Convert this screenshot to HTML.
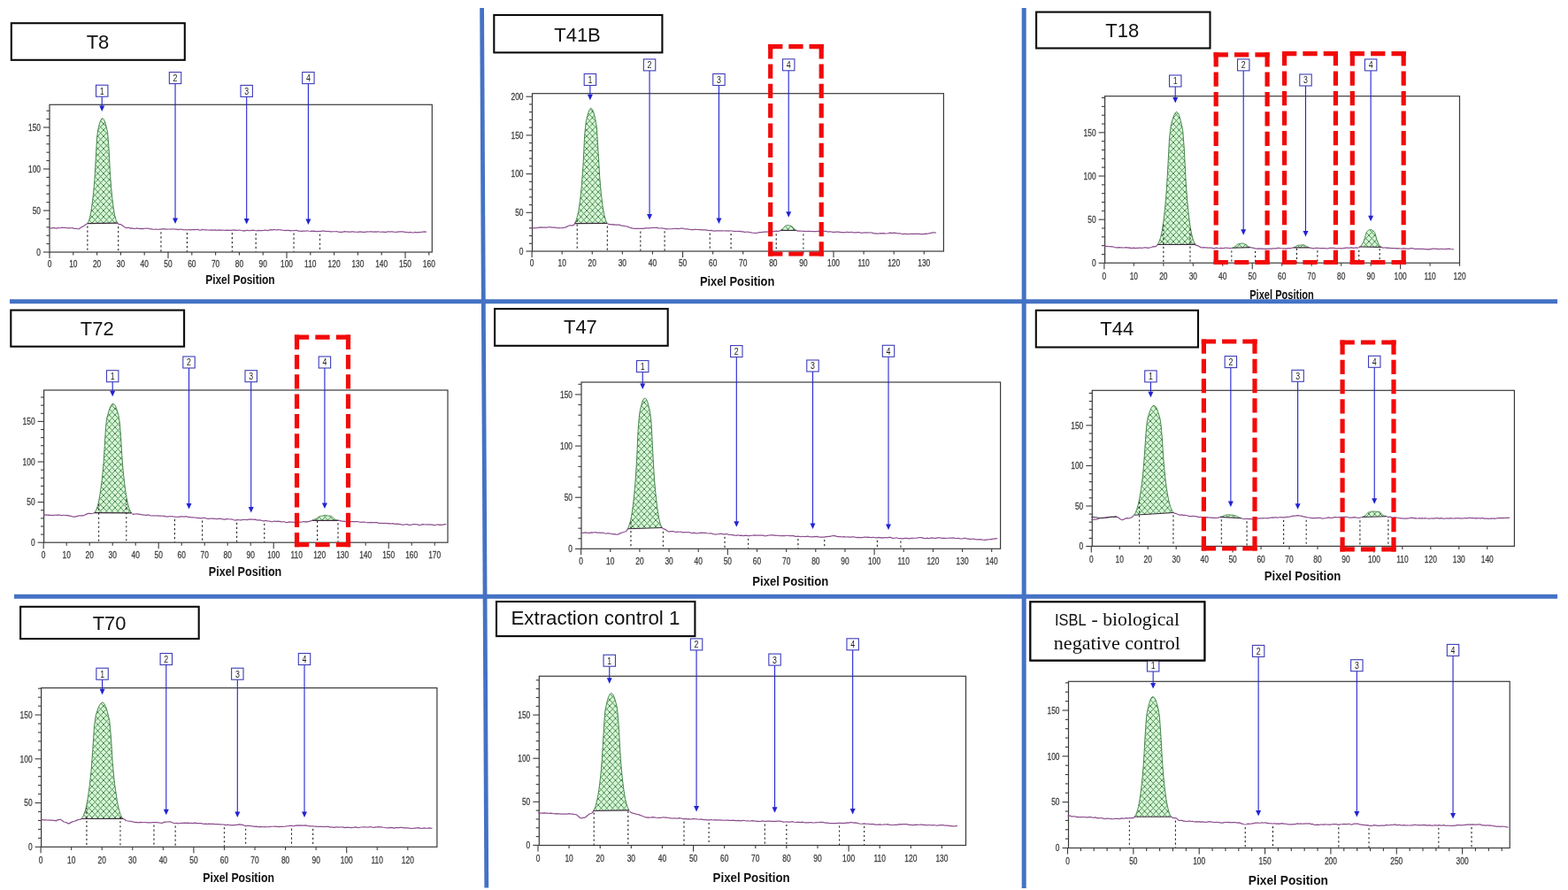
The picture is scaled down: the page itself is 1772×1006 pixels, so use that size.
<!DOCTYPE html>
<html><head><meta charset="utf-8"><title>Densitometry profiles</title>
<style>
html,body{margin:0;padding:0;background:#fff;}
body{width:1772px;height:1006px;overflow:hidden;}
svg{display:block;}
text{font-family:'Liberation Sans', Arial, sans-serif;}
</style></head>
<body>
<svg width="1772" height="1006" viewBox="0 0 1772 1006">
<defs><pattern id="hatch" patternUnits="userSpaceOnUse" width="6.5" height="7"><rect width="6.5" height="7" fill="#d6f7d6"/><path d="M0,0 L6.5,7 M6.5,0 L0,7 M-3.25,3.5 L0,7 M3.25,-3.5 L6.5,0 M6.5,7 L9.75,3.5 M0,0 L3.25,-3.5 M-3.25,3.5 L0,0 M6.5,0 L9.75,3.5 M0,7 L3.25,10.5 M6.5,7 L3.25,10.5" stroke="#2f7235" stroke-width="0.8"/></pattern></defs>
<rect width="1772" height="1006" fill="#fff"/>
<g><rect x="12.8" y="26.2" width="196" height="41.6" fill="#fff" stroke="#0a0a0a" stroke-width="2.1"/><rect x="56" y="118.3" width="432.3" height="166.7" fill="none" stroke="#3a3a3a" stroke-width="1.2"/><line x1="49" y1="285" x2="56" y2="285" stroke="#3a3a3a" stroke-width="1.1"/><text x="0" y="0" font-size="10.5" text-anchor="end" fill="#333333" stroke="#444" stroke-width="0.25" transform="translate(46,288.7) scale(0.8,1) translate(0,0)">0</text><line x1="52.4" y1="275.6" x2="56" y2="275.6" stroke="#3a3a3a" stroke-width="1.1"/><line x1="52.4" y1="266.2" x2="56" y2="266.2" stroke="#3a3a3a" stroke-width="1.1"/><line x1="52.4" y1="256.8" x2="56" y2="256.8" stroke="#3a3a3a" stroke-width="1.1"/><line x1="52.4" y1="247.4" x2="56" y2="247.4" stroke="#3a3a3a" stroke-width="1.1"/><line x1="49" y1="238" x2="56" y2="238" stroke="#3a3a3a" stroke-width="1.1"/><text x="0" y="0" font-size="10.5" text-anchor="end" fill="#333333" stroke="#444" stroke-width="0.25" transform="translate(46,241.7) scale(0.8,1) translate(0,0)">50</text><line x1="52.4" y1="228.6" x2="56" y2="228.6" stroke="#3a3a3a" stroke-width="1.1"/><line x1="52.4" y1="219.2" x2="56" y2="219.2" stroke="#3a3a3a" stroke-width="1.1"/><line x1="52.4" y1="209.8" x2="56" y2="209.8" stroke="#3a3a3a" stroke-width="1.1"/><line x1="52.4" y1="200.4" x2="56" y2="200.4" stroke="#3a3a3a" stroke-width="1.1"/><line x1="49" y1="191" x2="56" y2="191" stroke="#3a3a3a" stroke-width="1.1"/><text x="0" y="0" font-size="10.5" text-anchor="end" fill="#333333" stroke="#444" stroke-width="0.25" transform="translate(46,194.7) scale(0.8,1) translate(0,0)">100</text><line x1="52.4" y1="181.6" x2="56" y2="181.6" stroke="#3a3a3a" stroke-width="1.1"/><line x1="52.4" y1="172.2" x2="56" y2="172.2" stroke="#3a3a3a" stroke-width="1.1"/><line x1="52.4" y1="162.8" x2="56" y2="162.8" stroke="#3a3a3a" stroke-width="1.1"/><line x1="52.4" y1="153.4" x2="56" y2="153.4" stroke="#3a3a3a" stroke-width="1.1"/><line x1="49" y1="144" x2="56" y2="144" stroke="#3a3a3a" stroke-width="1.1"/><text x="0" y="0" font-size="10.5" text-anchor="end" fill="#333333" stroke="#444" stroke-width="0.25" transform="translate(46,147.7) scale(0.8,1) translate(0,0)">150</text><line x1="52.4" y1="134.6" x2="56" y2="134.6" stroke="#3a3a3a" stroke-width="1.1"/><line x1="52.4" y1="125.2" x2="56" y2="125.2" stroke="#3a3a3a" stroke-width="1.1"/><line x1="56" y1="285" x2="56" y2="292" stroke="#3a3a3a" stroke-width="1.1"/><text font-size="10.5" text-anchor="middle" fill="#333333" stroke="#444" stroke-width="0.25" transform="translate(56,301.8) scale(0.8,1)">0</text><line x1="82.8" y1="285" x2="82.8" y2="288.6" stroke="#3a3a3a" stroke-width="1.1"/><text font-size="10.5" text-anchor="middle" fill="#333333" stroke="#444" stroke-width="0.25" transform="translate(82.8,301.8) scale(0.8,1)">10</text><line x1="109.6" y1="285" x2="109.6" y2="288.6" stroke="#3a3a3a" stroke-width="1.1"/><text font-size="10.5" text-anchor="middle" fill="#333333" stroke="#444" stroke-width="0.25" transform="translate(109.6,301.8) scale(0.8,1)">20</text><line x1="136.4" y1="285" x2="136.4" y2="288.6" stroke="#3a3a3a" stroke-width="1.1"/><text font-size="10.5" text-anchor="middle" fill="#333333" stroke="#444" stroke-width="0.25" transform="translate(136.4,301.8) scale(0.8,1)">30</text><line x1="163.2" y1="285" x2="163.2" y2="288.6" stroke="#3a3a3a" stroke-width="1.1"/><text font-size="10.5" text-anchor="middle" fill="#333333" stroke="#444" stroke-width="0.25" transform="translate(163.2,301.8) scale(0.8,1)">40</text><line x1="190" y1="285" x2="190" y2="292" stroke="#3a3a3a" stroke-width="1.1"/><text font-size="10.5" text-anchor="middle" fill="#333333" stroke="#444" stroke-width="0.25" transform="translate(190,301.8) scale(0.8,1)">50</text><line x1="216.8" y1="285" x2="216.8" y2="288.6" stroke="#3a3a3a" stroke-width="1.1"/><text font-size="10.5" text-anchor="middle" fill="#333333" stroke="#444" stroke-width="0.25" transform="translate(216.8,301.8) scale(0.8,1)">60</text><line x1="243.6" y1="285" x2="243.6" y2="288.6" stroke="#3a3a3a" stroke-width="1.1"/><text font-size="10.5" text-anchor="middle" fill="#333333" stroke="#444" stroke-width="0.25" transform="translate(243.6,301.8) scale(0.8,1)">70</text><line x1="270.4" y1="285" x2="270.4" y2="288.6" stroke="#3a3a3a" stroke-width="1.1"/><text font-size="10.5" text-anchor="middle" fill="#333333" stroke="#444" stroke-width="0.25" transform="translate(270.4,301.8) scale(0.8,1)">80</text><line x1="297.2" y1="285" x2="297.2" y2="288.6" stroke="#3a3a3a" stroke-width="1.1"/><text font-size="10.5" text-anchor="middle" fill="#333333" stroke="#444" stroke-width="0.25" transform="translate(297.2,301.8) scale(0.8,1)">90</text><line x1="324" y1="285" x2="324" y2="292" stroke="#3a3a3a" stroke-width="1.1"/><text font-size="10.5" text-anchor="middle" fill="#333333" stroke="#444" stroke-width="0.25" transform="translate(324,301.8) scale(0.8,1)">100</text><line x1="350.8" y1="285" x2="350.8" y2="288.6" stroke="#3a3a3a" stroke-width="1.1"/><text font-size="10.5" text-anchor="middle" fill="#333333" stroke="#444" stroke-width="0.25" transform="translate(350.8,301.8) scale(0.8,1)">110</text><line x1="377.6" y1="285" x2="377.6" y2="288.6" stroke="#3a3a3a" stroke-width="1.1"/><text font-size="10.5" text-anchor="middle" fill="#333333" stroke="#444" stroke-width="0.25" transform="translate(377.6,301.8) scale(0.8,1)">120</text><line x1="404.4" y1="285" x2="404.4" y2="288.6" stroke="#3a3a3a" stroke-width="1.1"/><text font-size="10.5" text-anchor="middle" fill="#333333" stroke="#444" stroke-width="0.25" transform="translate(404.4,301.8) scale(0.8,1)">130</text><line x1="431.2" y1="285" x2="431.2" y2="288.6" stroke="#3a3a3a" stroke-width="1.1"/><text font-size="10.5" text-anchor="middle" fill="#333333" stroke="#444" stroke-width="0.25" transform="translate(431.2,301.8) scale(0.8,1)">140</text><line x1="458" y1="285" x2="458" y2="292" stroke="#3a3a3a" stroke-width="1.1"/><text font-size="10.5" text-anchor="middle" fill="#333333" stroke="#444" stroke-width="0.25" transform="translate(458,301.8) scale(0.8,1)">150</text><line x1="484.8" y1="285" x2="484.8" y2="288.6" stroke="#3a3a3a" stroke-width="1.1"/><text font-size="10.5" text-anchor="middle" fill="#333333" stroke="#444" stroke-width="0.25" transform="translate(484.8,301.8) scale(0.8,1)">160</text><text x="271.4" y="321.2" font-size="14" font-weight="bold" text-anchor="middle" fill="#111" textLength="78.5" lengthAdjust="spacingAndGlyphs">Pixel Position</text><path d="M98.81,252.59 L99.48,251.43 L100.15,250.18 L100.82,248.16 L101.49,246.05 L102.16,242.86 L102.83,239.56 L103.5,235.05 L104.17,230.41 L104.84,224.84 L105.51,219.16 L106.18,211.53 L106.85,203.68 L107.52,192.03 L108.19,179.95 L108.86,168.03 L109.53,156.12 L110.2,150.83 L110.87,146.27 L111.54,143.39 L112.21,140.69 L112.88,138.64 L113.55,136.67 L114.22,135.43 L114.89,134.28 L115.56,134.02 L116.23,133.87 L116.9,134.56 L117.57,135.35 L118.24,136.89 L118.91,138.52 L119.58,141.02 L120.25,143.62 L120.92,146.53 L121.59,149.47 L122.26,157.54 L122.93,166.17 L123.6,179.17 L124.27,192.65 L124.94,202.28 L125.61,211.48 L126.28,218.21 L126.95,224.67 L127.62,230.05 L128.29,235.31 L128.96,239.34 L129.63,243.24 L130.3,245.88 L130.97,248.39 L131.64,249.88 L132.31,251.25 L132.98,252.17 Z" fill="url(#hatch)" stroke="none"/><path d="M98.81,252.59 L99.48,251.43 L100.15,250.18 L100.82,248.16 L101.49,246.05 L102.16,242.86 L102.83,239.56 L103.5,235.05 L104.17,230.41 L104.84,224.84 L105.51,219.16 L106.18,211.53 L106.85,203.68 L107.52,192.03 L108.19,179.95 L108.86,168.03 L109.53,156.12 L110.2,150.83 L110.87,146.27 L111.54,143.39 L112.21,140.69 L112.88,138.64 L113.55,136.67 L114.22,135.43 L114.89,134.28 L115.56,134.02 L116.23,133.87 L116.9,134.56 L117.57,135.35 L118.24,136.89 L118.91,138.52 L119.58,141.02 L120.25,143.62 L120.92,146.53 L121.59,149.47 L122.26,157.54 L122.93,166.17 L123.6,179.17 L124.27,192.65 L124.94,202.28 L125.61,211.48 L126.28,218.21 L126.95,224.67 L127.62,230.05 L128.29,235.31 L128.96,239.34 L129.63,243.24 L130.3,245.88 L130.97,248.39 L131.64,249.88 L132.31,251.25 L132.98,252.17" fill="none" stroke="#357a3c" stroke-width="0.9"/><line x1="98.81" y1="252.59" x2="132.98" y2="252.17" stroke="#3a2a3a" stroke-width="1.1"/><path d="M56,257.94 L57.34,257.81 L58.68,257.85 L60.02,257.68 L61.36,257.55 L62.7,257.87 L64.04,258.07 L65.38,257.55 L66.72,257.69 L68.06,257.77 L69.4,257.25 L70.74,257.39 L72.08,257.23 L73.42,257.46 L74.76,257.51 L76.1,257.94 L77.44,257.84 L78.78,257.62 L80.12,257.75 L81.46,257.71 L82.8,257.84 L84.14,258.48 L85.48,258.39 L86.82,258.5 L88.16,258.76 L89.5,258.71 L90.84,257.45 L92.18,256.69 L93.52,256.16 L94.86,255.34 L96.2,254.22 L97.54,253.45 L98.88,252.55" fill="none" stroke="#8c4e8e" stroke-width="1.2" stroke-linejoin="round"/><path d="M132.38,251.39 L133.72,253.12 L135.06,253.61 L136.4,253.61 L137.74,254.51 L139.08,255.38 L140.42,256.57 L141.76,257.33 L143.1,257.7 L144.44,257.45 L145.78,257.33 L147.12,258.05 L148.46,257.96 L149.8,258.18 L151.14,258.46 L152.48,258.51 L153.82,258.19 L155.16,257.95 L156.5,258.46 L157.84,258.32 L159.18,258.69 L160.52,258.4 L161.86,258.56 L163.2,258.25 L164.54,258.02 L165.88,258.27 L167.22,258.07 L168.56,258.49 L169.9,258.92 L171.24,258.78 L172.58,259.16 L173.92,259.26 L175.26,259.17 L176.6,258.99 L177.94,259.25 L179.28,259.5 L180.62,259.03 L181.96,259.2 L183.3,258.81 L184.64,258.66 L185.98,258.97 L187.32,259.08 L188.66,259.1 L190,259.02 L191.34,259.01 L192.68,259.04 L194.02,259.02 L195.36,258.78 L196.7,258.99 L198.04,259.17 L199.38,259.07 L200.72,259.4 L202.06,259.54 L203.4,259.13 L204.74,259.27 L206.08,259.33 L207.42,259.79 L208.76,259.75 L210.1,259.61 L211.44,259.97 L212.78,259.72 L214.12,259.58 L215.46,259.93 L216.8,259.7 L218.14,259.69 L219.48,259.53 L220.82,259.69 L222.16,259.52 L223.5,259.41 L224.84,259.89 L226.18,260.14 L227.52,259.82 L228.86,259.44 L230.2,259.77 L231.54,259.81 L232.88,259.74 L234.22,259.92 L235.56,260 L236.9,260.09 L238.24,260.1 L239.58,259.95 L240.92,260.1 L242.26,260.14 L243.6,259.87 L244.94,260.29 L246.28,260.12 L247.62,259.91 L248.96,260.12 L250.3,260.31 L251.64,259.98 L252.98,260.22 L254.32,260.4 L255.66,260.31 L257,260.06 L258.34,260.38 L259.68,260.39 L261.02,260.4 L262.36,260.04 L263.7,260.16 L265.04,259.92 L266.38,260.32 L267.72,260.43 L269.06,260.27 L270.4,260.03 L271.74,260.23 L273.08,260.53 L274.42,260.79 L275.76,260.63 L277.1,260.82 L278.44,260.46 L279.78,260.25 L281.12,260.63 L282.46,260.77 L283.8,260.45 L285.14,260.39 L286.48,260.22 L287.82,260.47 L289.16,260.76 L290.5,260.78 L291.84,260.4 L293.18,260.57 L294.52,260.59 L295.86,260.53 L297.2,260.48 L298.54,260.44 L299.88,260.02 L301.22,260.35 L302.56,260.64 L303.9,260.07 L305.24,259.8 L306.58,259.57 L307.92,259.85 L309.26,259.62 L310.6,259.51 L311.94,259.98 L313.28,259.84 L314.62,259.7 L315.96,259.75 L317.3,259.89 L318.64,260.14 L319.98,260.24 L321.32,260.38 L322.66,260.57 L324,260.29 L325.34,260.43 L326.68,260.25 L328.02,260.86 L329.36,260.65 L330.7,260.74 L332.04,260.59 L333.38,260.49 L334.72,260.44 L336.06,260.66 L337.4,261.22 L338.74,260.98 L340.08,261.3 L341.42,261.38 L342.76,261.17 L344.1,261.17 L345.44,261.27 L346.78,260.94 L348.12,261.02 L349.46,261.28 L350.8,261.5 L352.14,261.18 L353.48,261.3 L354.82,261.15 L356.16,261.4 L357.5,261.66 L358.84,261.56 L360.18,261.29 L361.52,261.63 L362.86,261.36 L364.2,261.11 L365.54,261.05 L366.88,261.02 L368.22,261.61 L369.56,261.48 L370.9,261.24 L372.24,261.72 L373.58,261.83 L374.92,261.9 L376.26,261.76 L377.6,261.77 L378.94,261.74 L380.28,261.51 L381.62,261.98 L382.96,262.21 L384.3,262.29 L385.64,262.34 L386.98,262.43 L388.32,261.8 L389.66,261.56 L391,262.01 L392.34,261.96 L393.68,262.07 L395.02,262.15 L396.36,262.17 L397.7,261.96 L399.04,261.9 L400.38,262.03 L401.72,262.24 L403.06,262.25 L404.4,262.41 L405.74,262.17 L407.08,261.92 L408.42,262.03 L409.76,262.33 L411.1,262.41 L412.44,262.32 L413.78,262.09 L415.12,261.84 L416.46,262.01 L417.8,261.78 L419.14,261.8 L420.48,261.95 L421.82,262.09 L423.16,262.07 L424.5,261.91 L425.84,262.04 L427.18,261.91 L428.52,262.02 L429.86,262.25 L431.2,262.16 L432.54,262 L433.88,262.38 L435.22,262.33 L436.56,262.31 L437.9,261.96 L439.24,261.73 L440.58,262.04 L441.92,261.81 L443.26,261.78 L444.6,262.16 L445.94,262.23 L447.28,262.52 L448.62,262.17 L449.96,262.1 L451.3,261.89 L452.64,261.86 L453.98,261.94 L455.32,261.94 L456.66,262.07 L458,262.49 L459.34,262.36 L460.68,262.74 L462.02,262.84 L463.36,262.43 L464.7,262.75 L466.04,262.9 L467.38,262.98 L468.72,262.44 L470.06,262.67 L471.4,262.92 L472.74,262.44 L474.08,262.72 L475.42,262.33 L476.76,262.25 L478.1,262.08 L479.44,261.9 L480.78,262.09 L482.12,262.02" fill="none" stroke="#8c4e8e" stroke-width="1.2" stroke-linejoin="round"/><line x1="98.88" y1="255.55" x2="98.88" y2="284.5" stroke="#222" stroke-width="1.1" stroke-dasharray="2.2 2.8"/><line x1="133.72" y1="256.12" x2="133.72" y2="284.5" stroke="#222" stroke-width="1.1" stroke-dasharray="2.2 2.8"/><line x1="181.96" y1="262.2" x2="181.96" y2="284.5" stroke="#222" stroke-width="1.1" stroke-dasharray="2.2 2.8"/><line x1="211.44" y1="262.97" x2="211.44" y2="284.5" stroke="#222" stroke-width="1.1" stroke-dasharray="2.2 2.8"/><line x1="262.36" y1="263.04" x2="262.36" y2="284.5" stroke="#222" stroke-width="1.1" stroke-dasharray="2.2 2.8"/><line x1="289.16" y1="263.76" x2="289.16" y2="284.5" stroke="#222" stroke-width="1.1" stroke-dasharray="2.2 2.8"/><line x1="332.04" y1="263.59" x2="332.04" y2="284.5" stroke="#222" stroke-width="1.1" stroke-dasharray="2.2 2.8"/><line x1="361.52" y1="264.63" x2="361.52" y2="284.5" stroke="#222" stroke-width="1.1" stroke-dasharray="2.2 2.8"/><line x1="115.23" y1="109.2" x2="115.23" y2="121" stroke="#2323d2" stroke-width="1.1"/><path d="M112.23,119.5 L118.23,119.5 L115.23,126 Z" fill="#2323d2"/><rect x="108.53" y="96.2" width="13.4" height="13" fill="#fff" stroke="#3c3cb8" stroke-width="1.1"/><text font-size="11" text-anchor="middle" fill="#222" transform="translate(115.23,106.6) scale(0.8,1)">1</text><line x1="198.04" y1="94.6" x2="198.04" y2="248" stroke="#2323d2" stroke-width="1.1"/><path d="M195.04,246.5 L201.04,246.5 L198.04,253 Z" fill="#2323d2"/><rect x="191.34" y="81.6" width="13.4" height="13" fill="#fff" stroke="#3c3cb8" stroke-width="1.1"/><text font-size="11" text-anchor="middle" fill="#222" transform="translate(198.04,92) scale(0.8,1)">2</text><line x1="278.71" y1="109.4" x2="278.71" y2="248.5" stroke="#2323d2" stroke-width="1.1"/><path d="M275.71,247 L281.71,247 L278.71,253.5 Z" fill="#2323d2"/><rect x="272.01" y="96.4" width="13.4" height="13" fill="#fff" stroke="#3c3cb8" stroke-width="1.1"/><text font-size="11" text-anchor="middle" fill="#222" transform="translate(278.71,106.8) scale(0.8,1)">3</text><line x1="348.39" y1="94.6" x2="348.39" y2="249" stroke="#2323d2" stroke-width="1.1"/><path d="M345.39,247.5 L351.39,247.5 L348.39,254 Z" fill="#2323d2"/><rect x="341.69" y="81.6" width="13.4" height="13" fill="#fff" stroke="#3c3cb8" stroke-width="1.1"/><text font-size="11" text-anchor="middle" fill="#222" transform="translate(348.39,92) scale(0.8,1)">4</text><text x="110.5" y="54.8" font-size="22" text-anchor="middle" fill="#111">T8</text></g>
<g><rect x="558.3" y="17" width="190.1" height="42.4" fill="#fff" stroke="#0a0a0a" stroke-width="2.1"/><rect x="601.5" y="105.7" width="464.9" height="178.3" fill="none" stroke="#3a3a3a" stroke-width="1.2"/><line x1="594.5" y1="284" x2="601.5" y2="284" stroke="#3a3a3a" stroke-width="1.1"/><text x="0" y="0" font-size="10.5" text-anchor="end" fill="#333333" stroke="#444" stroke-width="0.25" transform="translate(591.5,287.7) scale(0.8,1) translate(0,0)">0</text><line x1="597.9" y1="275.26" x2="601.5" y2="275.26" stroke="#3a3a3a" stroke-width="1.1"/><line x1="597.9" y1="266.52" x2="601.5" y2="266.52" stroke="#3a3a3a" stroke-width="1.1"/><line x1="597.9" y1="257.78" x2="601.5" y2="257.78" stroke="#3a3a3a" stroke-width="1.1"/><line x1="597.9" y1="249.04" x2="601.5" y2="249.04" stroke="#3a3a3a" stroke-width="1.1"/><line x1="594.5" y1="240.3" x2="601.5" y2="240.3" stroke="#3a3a3a" stroke-width="1.1"/><text x="0" y="0" font-size="10.5" text-anchor="end" fill="#333333" stroke="#444" stroke-width="0.25" transform="translate(591.5,244) scale(0.8,1) translate(0,0)">50</text><line x1="597.9" y1="231.56" x2="601.5" y2="231.56" stroke="#3a3a3a" stroke-width="1.1"/><line x1="597.9" y1="222.82" x2="601.5" y2="222.82" stroke="#3a3a3a" stroke-width="1.1"/><line x1="597.9" y1="214.08" x2="601.5" y2="214.08" stroke="#3a3a3a" stroke-width="1.1"/><line x1="597.9" y1="205.34" x2="601.5" y2="205.34" stroke="#3a3a3a" stroke-width="1.1"/><line x1="594.5" y1="196.6" x2="601.5" y2="196.6" stroke="#3a3a3a" stroke-width="1.1"/><text x="0" y="0" font-size="10.5" text-anchor="end" fill="#333333" stroke="#444" stroke-width="0.25" transform="translate(591.5,200.3) scale(0.8,1) translate(0,0)">100</text><line x1="597.9" y1="187.86" x2="601.5" y2="187.86" stroke="#3a3a3a" stroke-width="1.1"/><line x1="597.9" y1="179.12" x2="601.5" y2="179.12" stroke="#3a3a3a" stroke-width="1.1"/><line x1="597.9" y1="170.38" x2="601.5" y2="170.38" stroke="#3a3a3a" stroke-width="1.1"/><line x1="597.9" y1="161.64" x2="601.5" y2="161.64" stroke="#3a3a3a" stroke-width="1.1"/><line x1="594.5" y1="152.9" x2="601.5" y2="152.9" stroke="#3a3a3a" stroke-width="1.1"/><text x="0" y="0" font-size="10.5" text-anchor="end" fill="#333333" stroke="#444" stroke-width="0.25" transform="translate(591.5,156.6) scale(0.8,1) translate(0,0)">150</text><line x1="597.9" y1="144.16" x2="601.5" y2="144.16" stroke="#3a3a3a" stroke-width="1.1"/><line x1="597.9" y1="135.42" x2="601.5" y2="135.42" stroke="#3a3a3a" stroke-width="1.1"/><line x1="597.9" y1="126.68" x2="601.5" y2="126.68" stroke="#3a3a3a" stroke-width="1.1"/><line x1="597.9" y1="117.94" x2="601.5" y2="117.94" stroke="#3a3a3a" stroke-width="1.1"/><line x1="594.5" y1="109.2" x2="601.5" y2="109.2" stroke="#3a3a3a" stroke-width="1.1"/><text x="0" y="0" font-size="10.5" text-anchor="end" fill="#333333" stroke="#444" stroke-width="0.25" transform="translate(591.5,112.9) scale(0.8,1) translate(0,0)">200</text><line x1="601.1" y1="284" x2="601.1" y2="291" stroke="#3a3a3a" stroke-width="1.1"/><text font-size="10.5" text-anchor="middle" fill="#333333" stroke="#444" stroke-width="0.25" transform="translate(601.1,301.4) scale(0.8,1)">0</text><line x1="635.19" y1="284" x2="635.19" y2="287.6" stroke="#3a3a3a" stroke-width="1.1"/><text font-size="10.5" text-anchor="middle" fill="#333333" stroke="#444" stroke-width="0.25" transform="translate(635.19,301.4) scale(0.8,1)">10</text><line x1="669.28" y1="284" x2="669.28" y2="287.6" stroke="#3a3a3a" stroke-width="1.1"/><text font-size="10.5" text-anchor="middle" fill="#333333" stroke="#444" stroke-width="0.25" transform="translate(669.28,301.4) scale(0.8,1)">20</text><line x1="703.37" y1="284" x2="703.37" y2="287.6" stroke="#3a3a3a" stroke-width="1.1"/><text font-size="10.5" text-anchor="middle" fill="#333333" stroke="#444" stroke-width="0.25" transform="translate(703.37,301.4) scale(0.8,1)">30</text><line x1="737.46" y1="284" x2="737.46" y2="287.6" stroke="#3a3a3a" stroke-width="1.1"/><text font-size="10.5" text-anchor="middle" fill="#333333" stroke="#444" stroke-width="0.25" transform="translate(737.46,301.4) scale(0.8,1)">40</text><line x1="771.55" y1="284" x2="771.55" y2="291" stroke="#3a3a3a" stroke-width="1.1"/><text font-size="10.5" text-anchor="middle" fill="#333333" stroke="#444" stroke-width="0.25" transform="translate(771.55,301.4) scale(0.8,1)">50</text><line x1="805.64" y1="284" x2="805.64" y2="287.6" stroke="#3a3a3a" stroke-width="1.1"/><text font-size="10.5" text-anchor="middle" fill="#333333" stroke="#444" stroke-width="0.25" transform="translate(805.64,301.4) scale(0.8,1)">60</text><line x1="839.73" y1="284" x2="839.73" y2="287.6" stroke="#3a3a3a" stroke-width="1.1"/><text font-size="10.5" text-anchor="middle" fill="#333333" stroke="#444" stroke-width="0.25" transform="translate(839.73,301.4) scale(0.8,1)">70</text><line x1="873.82" y1="284" x2="873.82" y2="287.6" stroke="#3a3a3a" stroke-width="1.1"/><text font-size="10.5" text-anchor="middle" fill="#333333" stroke="#444" stroke-width="0.25" transform="translate(873.82,301.4) scale(0.8,1)">80</text><line x1="907.91" y1="284" x2="907.91" y2="287.6" stroke="#3a3a3a" stroke-width="1.1"/><text font-size="10.5" text-anchor="middle" fill="#333333" stroke="#444" stroke-width="0.25" transform="translate(907.91,301.4) scale(0.8,1)">90</text><line x1="942" y1="284" x2="942" y2="291" stroke="#3a3a3a" stroke-width="1.1"/><text font-size="10.5" text-anchor="middle" fill="#333333" stroke="#444" stroke-width="0.25" transform="translate(942,301.4) scale(0.8,1)">100</text><line x1="976.09" y1="284" x2="976.09" y2="287.6" stroke="#3a3a3a" stroke-width="1.1"/><text font-size="10.5" text-anchor="middle" fill="#333333" stroke="#444" stroke-width="0.25" transform="translate(976.09,301.4) scale(0.8,1)">110</text><line x1="1010.18" y1="284" x2="1010.18" y2="287.6" stroke="#3a3a3a" stroke-width="1.1"/><text font-size="10.5" text-anchor="middle" fill="#333333" stroke="#444" stroke-width="0.25" transform="translate(1010.18,301.4) scale(0.8,1)">120</text><line x1="1044.27" y1="284" x2="1044.27" y2="287.6" stroke="#3a3a3a" stroke-width="1.1"/><text font-size="10.5" text-anchor="middle" fill="#333333" stroke="#444" stroke-width="0.25" transform="translate(1044.27,301.4) scale(0.8,1)">130</text><text x="833.1" y="323.4" font-size="14.9" font-weight="bold" text-anchor="middle" fill="#111" textLength="84.4" lengthAdjust="spacingAndGlyphs">Pixel Position</text><path d="M649.59,252.61 L650.45,251.02 L651.3,248.44 L652.15,245.74 L653,242.05 L653.85,238.26 L654.71,232.56 L655.56,226.65 L656.41,218.66 L657.26,210.44 L658.12,199.01 L658.97,187.21 L659.82,170.22 L660.67,152.66 L661.52,144.24 L662.38,136.83 L663.23,133.23 L664.08,130.05 L664.93,127.4 L665.79,124.81 L666.64,123.49 L667.49,122.31 L668.34,122.73 L669.19,123.31 L670.05,125.14 L670.9,127.11 L671.75,130.33 L672.6,133.68 L673.46,138.42 L674.31,143.3 L675.16,156.58 L676.01,170.79 L676.87,185.48 L677.72,200.23 L678.57,210.05 L679.42,219.33 L680.27,226.48 L681.13,233.4 L681.98,238.17 L682.83,242.69 L683.68,246.04 L684.54,249.26 L685.39,250.88 L686.24,252.33 Z" fill="url(#hatch)" stroke="none"/><path d="M649.59,252.61 L650.45,251.02 L651.3,248.44 L652.15,245.74 L653,242.05 L653.85,238.26 L654.71,232.56 L655.56,226.65 L656.41,218.66 L657.26,210.44 L658.12,199.01 L658.97,187.21 L659.82,170.22 L660.67,152.66 L661.52,144.24 L662.38,136.83 L663.23,133.23 L664.08,130.05 L664.93,127.4 L665.79,124.81 L666.64,123.49 L667.49,122.31 L668.34,122.73 L669.19,123.31 L670.05,125.14 L670.9,127.11 L671.75,130.33 L672.6,133.68 L673.46,138.42 L674.31,143.3 L675.16,156.58 L676.01,170.79 L676.87,185.48 L677.72,200.23 L678.57,210.05 L679.42,219.33 L680.27,226.48 L681.13,233.4 L681.98,238.17 L682.83,242.69 L683.68,246.04 L684.54,249.26 L685.39,250.88 L686.24,252.33" fill="none" stroke="#357a3c" stroke-width="0.9"/><line x1="649.59" y1="252.61" x2="686.24" y2="252.33" stroke="#3a2a3a" stroke-width="1.1"/><path d="M882.26,260.38 L883.11,259.81 L883.96,259.21 L884.81,258.36 L885.67,257.47 L886.52,256.47 L887.37,255.45 L888.22,255.05 L889.08,254.73 L889.93,254.68 L890.78,254.65 L891.63,254.77 L892.48,254.91 L893.34,255.14 L894.19,255.38 L895.04,256 L895.89,256.67 L896.75,257.72 L897.6,258.82 L898.45,259.48 L899.3,260.1 L900.15,260.57 Z" fill="url(#hatch)" stroke="none"/><path d="M882.26,260.38 L883.11,259.81 L883.96,259.21 L884.81,258.36 L885.67,257.47 L886.52,256.47 L887.37,255.45 L888.22,255.05 L889.08,254.73 L889.93,254.68 L890.78,254.65 L891.63,254.77 L892.48,254.91 L893.34,255.14 L894.19,255.38 L895.04,256 L895.89,256.67 L896.75,257.72 L897.6,258.82 L898.45,259.48 L899.3,260.1 L900.15,260.57" fill="none" stroke="#357a3c" stroke-width="0.9"/><line x1="882.26" y1="260.38" x2="900.15" y2="260.57" stroke="#3a2a3a" stroke-width="1.1"/><path d="M601.1,257.73 L602.8,257.78 L604.51,257.65 L606.21,257.77 L607.92,257.35 L609.62,257.05 L611.33,256.95 L613.03,257.19 L614.74,257.03 L616.44,257.07 L618.14,257.16 L619.85,256.75 L621.55,256.55 L623.26,257.17 L624.96,257 L626.67,257.15 L628.37,257.45 L630.08,257.73 L631.78,257.64 L633.49,257.76 L635.19,257.65 L636.89,257.4 L638.6,257.26 L640.3,256.37 L642.01,255.44 L643.71,254.81 L645.42,254.78 L647.12,254.86 L648.83,254.03 L650.53,250.87" fill="none" stroke="#8c4e8e" stroke-width="1.2" stroke-linejoin="round"/><path d="M686.33,252.47 L688.03,253.53 L689.73,253.5 L691.44,253.89 L693.14,253.68 L694.85,254.07 L696.55,254.22 L698.26,254.04 L699.96,254.18 L701.67,254.82 L703.37,255.15 L705.07,255.43 L706.78,255.77 L708.48,255.97 L710.19,256.64 L711.89,257.31 L713.6,257.68 L715.3,258.27 L717.01,258.39 L718.71,258.39 L720.41,258.37 L722.12,258.45 L723.82,258.45 L725.53,258.28 L727.23,258.39 L728.94,257.9 L730.64,257.93 L732.35,257.92 L734.05,257.97 L735.76,257.67 L737.46,257.43 L739.16,257.5 L740.87,257.29 L742.57,257.4 L744.28,257.86 L745.98,258.01 L747.69,257.91 L749.39,258.2 L751.1,258.35 L752.8,258.83 L754.5,258.78 L756.21,258.74 L757.91,258.73 L759.62,258.68 L761.32,258.51 L763.03,258.41 L764.73,258.37 L766.44,258.54 L768.14,258.43 L769.85,257.99 L771.55,258.15 L773.25,258.54 L774.96,258.86 L776.66,258.75 L778.37,259.13 L780.07,259.41 L781.78,259.63 L783.48,259.59 L785.19,259.24 L786.89,259.42 L788.6,259.52 L790.3,259.6 L792,259.68 L793.71,259.86 L795.41,259.86 L797.12,259.83 L798.82,260.05 L800.53,260.43 L802.23,260.53 L803.94,260.42 L805.64,260.87 L807.34,261.05 L809.05,260.91 L810.75,260.82 L812.46,260.83 L814.16,260.91 L815.87,260.81 L817.57,261.02 L819.28,260.93 L820.98,260.77 L822.68,261.05 L824.39,260.93 L826.09,261.01 L827.8,261 L829.5,261.64 L831.21,261.46 L832.91,261.51 L834.62,261.46 L836.32,261.45 L838.03,261.94 L839.73,261.93 L841.43,262.3 L843.14,262.25 L844.84,262.05 L846.55,262.51 L848.25,262.72 L849.96,263.08 L851.66,263.25 L853.37,263.37 L855.07,263.52 L856.77,262.96 L858.48,262.65 L860.18,262.65 L861.89,262.34 L863.59,262.1 L865.3,262.05 L867,262.11 L868.71,261.95 L870.41,261.81 L872.12,261.81 L873.82,261.65 L875.52,261.33 L877.23,261.18 L878.93,261.43 L880.64,261.13 L882.34,260.35" fill="none" stroke="#8c4e8e" stroke-width="1.2" stroke-linejoin="round"/><path d="M899.39,260.16 L901.09,261.07 L902.8,261.17 L904.5,261.22 L906.21,261.24 L907.91,261.42 L909.61,261.41 L911.32,261.5 L913.02,261.31 L914.73,261.41 L916.43,261.52 L918.14,261.59 L919.84,261.65 L921.55,261.55 L923.25,261.48 L924.95,261.38 L926.66,261.61 L928.36,261.49 L930.07,261.33 L931.77,261.26 L933.48,261.44 L935.18,262.03 L936.89,261.83 L938.59,261.75 L940.3,262.28 L942,262.35 L943.7,262.39 L945.41,262.13 L947.11,262.1 L948.82,262.34 L950.52,262.56 L952.23,262.72 L953.93,262.89 L955.64,262.53 L957.34,262.25 L959.05,262.64 L960.75,262.51 L962.45,262.32 L964.16,262.78 L965.86,262.78 L967.57,262.9 L969.27,262.61 L970.98,262.53 L972.68,263.1 L974.39,263.28 L976.09,262.93 L977.79,262.94 L979.5,263.04 L981.2,262.96 L982.91,263.01 L984.61,262.96 L986.32,263.44 L988.02,263.94 L989.73,263.8 L991.43,264.18 L993.13,264.02 L994.84,263.7 L996.54,263.82 L998.25,263.72 L999.95,263.93 L1001.66,264.02 L1003.36,263.73 L1005.07,263.36 L1006.77,263.05 L1008.48,263.55 L1010.18,263.21 L1011.88,263.35 L1013.59,263.62 L1015.29,263.83 L1017,263.91 L1018.7,264.22 L1020.41,264.61 L1022.11,264.4 L1023.82,264.44 L1025.52,264.55 L1027.22,264.52 L1028.93,264.28 L1030.63,264.69 L1032.34,264.43 L1034.04,264.26 L1035.75,264.46 L1037.45,264.4 L1039.16,264.41 L1040.86,264.58 L1042.57,264.51 L1044.27,264.66 L1045.97,264.16 L1047.68,264.28 L1049.38,263.91 L1051.09,263.63 L1052.79,263.08 L1054.5,262.82 L1056.2,262.96 L1057.91,263.04" fill="none" stroke="#8c4e8e" stroke-width="1.2" stroke-linejoin="round"/><line x1="652.24" y1="248.47" x2="652.24" y2="283.5" stroke="#222" stroke-width="1.1" stroke-dasharray="2.2 2.8"/><line x1="686.33" y1="255.47" x2="686.33" y2="283.5" stroke="#222" stroke-width="1.1" stroke-dasharray="2.2 2.8"/><line x1="723.82" y1="261.45" x2="723.82" y2="283.5" stroke="#222" stroke-width="1.1" stroke-dasharray="2.2 2.8"/><line x1="751.1" y1="261.35" x2="751.1" y2="283.5" stroke="#222" stroke-width="1.1" stroke-dasharray="2.2 2.8"/><line x1="802.23" y1="263.53" x2="802.23" y2="283.5" stroke="#222" stroke-width="1.1" stroke-dasharray="2.2 2.8"/><line x1="826.09" y1="264.01" x2="826.09" y2="283.5" stroke="#222" stroke-width="1.1" stroke-dasharray="2.2 2.8"/><line x1="877.23" y1="264.18" x2="877.23" y2="283.5" stroke="#222" stroke-width="1.1" stroke-dasharray="2.2 2.8"/><line x1="907.91" y1="264.42" x2="907.91" y2="283.5" stroke="#222" stroke-width="1.1" stroke-dasharray="2.2 2.8"/><line x1="666.89" y1="96.5" x2="666.89" y2="108.3" stroke="#2323d2" stroke-width="1.1"/><path d="M663.89,106.8 L669.89,106.8 L666.89,113.3 Z" fill="#2323d2"/><rect x="660.19" y="83.5" width="13.4" height="13" fill="#fff" stroke="#3c3cb8" stroke-width="1.1"/><text font-size="11" text-anchor="middle" fill="#222" transform="translate(666.89,93.9) scale(0.8,1)">1</text><line x1="734.05" y1="79.9" x2="734.05" y2="243.5" stroke="#2323d2" stroke-width="1.1"/><path d="M731.05,242 L737.05,242 L734.05,248.5 Z" fill="#2323d2"/><rect x="727.35" y="66.9" width="13.4" height="13" fill="#fff" stroke="#3c3cb8" stroke-width="1.1"/><text font-size="11" text-anchor="middle" fill="#222" transform="translate(734.05,77.3) scale(0.8,1)">2</text><line x1="812.46" y1="96.5" x2="812.46" y2="247.9" stroke="#2323d2" stroke-width="1.1"/><path d="M809.46,246.4 L815.46,246.4 L812.46,252.9 Z" fill="#2323d2"/><rect x="805.76" y="83.5" width="13.4" height="13" fill="#fff" stroke="#3c3cb8" stroke-width="1.1"/><text font-size="11" text-anchor="middle" fill="#222" transform="translate(812.46,93.9) scale(0.8,1)">3</text><line x1="891.21" y1="79.8" x2="891.21" y2="240.8" stroke="#2323d2" stroke-width="1.1"/><path d="M888.21,239.3 L894.21,239.3 L891.21,245.8 Z" fill="#2323d2"/><rect x="884.51" y="66.8" width="13.4" height="13" fill="#fff" stroke="#3c3cb8" stroke-width="1.1"/><text font-size="11" text-anchor="middle" fill="#222" transform="translate(891.21,77.2) scale(0.8,1)">4</text><line x1="868.1" y1="52.7" x2="930.8" y2="52.7" stroke="#f20a0a" stroke-width="5.2" stroke-dasharray="16.3 6.9"/><line x1="868.1" y1="287" x2="930.8" y2="287" stroke="#f20a0a" stroke-width="5.2" stroke-dasharray="16.3 6.9"/><line x1="870.7" y1="50.1" x2="870.7" y2="289.6" stroke="#f20a0a" stroke-width="5.2" stroke-dasharray="16.3 6.02"/><line x1="928.2" y1="50.1" x2="928.2" y2="289.6" stroke="#f20a0a" stroke-width="5.2" stroke-dasharray="16.3 6.02"/><text x="652.5" y="46.7" font-size="22" text-anchor="middle" fill="#111">T41B</text></g>
<g><rect x="1171.1" y="13.6" width="196.4" height="40.9" fill="#fff" stroke="#0a0a0a" stroke-width="2.1"/><rect x="1248.6" y="108.7" width="400.9" height="188.5" fill="none" stroke="#3a3a3a" stroke-width="1.2"/><line x1="1241.6" y1="297.3" x2="1248.6" y2="297.3" stroke="#3a3a3a" stroke-width="1.1"/><text x="0" y="0" font-size="10.5" text-anchor="end" fill="#333333" stroke="#444" stroke-width="0.25" transform="translate(1238.6,301) scale(0.8,1) translate(0,0)">0</text><line x1="1245" y1="287.47" x2="1248.6" y2="287.47" stroke="#3a3a3a" stroke-width="1.1"/><line x1="1245" y1="277.64" x2="1248.6" y2="277.64" stroke="#3a3a3a" stroke-width="1.1"/><line x1="1245" y1="267.81" x2="1248.6" y2="267.81" stroke="#3a3a3a" stroke-width="1.1"/><line x1="1245" y1="257.98" x2="1248.6" y2="257.98" stroke="#3a3a3a" stroke-width="1.1"/><line x1="1241.6" y1="248.15" x2="1248.6" y2="248.15" stroke="#3a3a3a" stroke-width="1.1"/><text x="0" y="0" font-size="10.5" text-anchor="end" fill="#333333" stroke="#444" stroke-width="0.25" transform="translate(1238.6,251.85) scale(0.8,1) translate(0,0)">50</text><line x1="1245" y1="238.32" x2="1248.6" y2="238.32" stroke="#3a3a3a" stroke-width="1.1"/><line x1="1245" y1="228.49" x2="1248.6" y2="228.49" stroke="#3a3a3a" stroke-width="1.1"/><line x1="1245" y1="218.66" x2="1248.6" y2="218.66" stroke="#3a3a3a" stroke-width="1.1"/><line x1="1245" y1="208.83" x2="1248.6" y2="208.83" stroke="#3a3a3a" stroke-width="1.1"/><line x1="1241.6" y1="199" x2="1248.6" y2="199" stroke="#3a3a3a" stroke-width="1.1"/><text x="0" y="0" font-size="10.5" text-anchor="end" fill="#333333" stroke="#444" stroke-width="0.25" transform="translate(1238.6,202.7) scale(0.8,1) translate(0,0)">100</text><line x1="1245" y1="189.17" x2="1248.6" y2="189.17" stroke="#3a3a3a" stroke-width="1.1"/><line x1="1245" y1="179.34" x2="1248.6" y2="179.34" stroke="#3a3a3a" stroke-width="1.1"/><line x1="1245" y1="169.51" x2="1248.6" y2="169.51" stroke="#3a3a3a" stroke-width="1.1"/><line x1="1245" y1="159.68" x2="1248.6" y2="159.68" stroke="#3a3a3a" stroke-width="1.1"/><line x1="1241.6" y1="149.85" x2="1248.6" y2="149.85" stroke="#3a3a3a" stroke-width="1.1"/><text x="0" y="0" font-size="10.5" text-anchor="end" fill="#333333" stroke="#444" stroke-width="0.25" transform="translate(1238.6,153.55) scale(0.8,1) translate(0,0)">150</text><line x1="1245" y1="140.02" x2="1248.6" y2="140.02" stroke="#3a3a3a" stroke-width="1.1"/><line x1="1245" y1="130.19" x2="1248.6" y2="130.19" stroke="#3a3a3a" stroke-width="1.1"/><line x1="1245" y1="120.36" x2="1248.6" y2="120.36" stroke="#3a3a3a" stroke-width="1.1"/><line x1="1245" y1="110.53" x2="1248.6" y2="110.53" stroke="#3a3a3a" stroke-width="1.1"/><line x1="1247.9" y1="297.2" x2="1247.9" y2="304.2" stroke="#3a3a3a" stroke-width="1.1"/><text font-size="10.5" text-anchor="middle" fill="#333333" stroke="#444" stroke-width="0.25" transform="translate(1247.9,315.9) scale(0.8,1)">0</text><line x1="1281.37" y1="297.2" x2="1281.37" y2="300.8" stroke="#3a3a3a" stroke-width="1.1"/><text font-size="10.5" text-anchor="middle" fill="#333333" stroke="#444" stroke-width="0.25" transform="translate(1281.37,315.9) scale(0.8,1)">10</text><line x1="1314.84" y1="297.2" x2="1314.84" y2="300.8" stroke="#3a3a3a" stroke-width="1.1"/><text font-size="10.5" text-anchor="middle" fill="#333333" stroke="#444" stroke-width="0.25" transform="translate(1314.84,315.9) scale(0.8,1)">20</text><line x1="1348.31" y1="297.2" x2="1348.31" y2="300.8" stroke="#3a3a3a" stroke-width="1.1"/><text font-size="10.5" text-anchor="middle" fill="#333333" stroke="#444" stroke-width="0.25" transform="translate(1348.31,315.9) scale(0.8,1)">30</text><line x1="1381.78" y1="297.2" x2="1381.78" y2="300.8" stroke="#3a3a3a" stroke-width="1.1"/><text font-size="10.5" text-anchor="middle" fill="#333333" stroke="#444" stroke-width="0.25" transform="translate(1381.78,315.9) scale(0.8,1)">40</text><line x1="1415.25" y1="297.2" x2="1415.25" y2="304.2" stroke="#3a3a3a" stroke-width="1.1"/><text font-size="10.5" text-anchor="middle" fill="#333333" stroke="#444" stroke-width="0.25" transform="translate(1415.25,315.9) scale(0.8,1)">50</text><line x1="1448.72" y1="297.2" x2="1448.72" y2="300.8" stroke="#3a3a3a" stroke-width="1.1"/><text font-size="10.5" text-anchor="middle" fill="#333333" stroke="#444" stroke-width="0.25" transform="translate(1448.72,315.9) scale(0.8,1)">60</text><line x1="1482.19" y1="297.2" x2="1482.19" y2="300.8" stroke="#3a3a3a" stroke-width="1.1"/><text font-size="10.5" text-anchor="middle" fill="#333333" stroke="#444" stroke-width="0.25" transform="translate(1482.19,315.9) scale(0.8,1)">70</text><line x1="1515.66" y1="297.2" x2="1515.66" y2="300.8" stroke="#3a3a3a" stroke-width="1.1"/><text font-size="10.5" text-anchor="middle" fill="#333333" stroke="#444" stroke-width="0.25" transform="translate(1515.66,315.9) scale(0.8,1)">80</text><line x1="1549.13" y1="297.2" x2="1549.13" y2="300.8" stroke="#3a3a3a" stroke-width="1.1"/><text font-size="10.5" text-anchor="middle" fill="#333333" stroke="#444" stroke-width="0.25" transform="translate(1549.13,315.9) scale(0.8,1)">90</text><line x1="1582.6" y1="297.2" x2="1582.6" y2="304.2" stroke="#3a3a3a" stroke-width="1.1"/><text font-size="10.5" text-anchor="middle" fill="#333333" stroke="#444" stroke-width="0.25" transform="translate(1582.6,315.9) scale(0.8,1)">100</text><line x1="1616.07" y1="297.2" x2="1616.07" y2="300.8" stroke="#3a3a3a" stroke-width="1.1"/><text font-size="10.5" text-anchor="middle" fill="#333333" stroke="#444" stroke-width="0.25" transform="translate(1616.07,315.9) scale(0.8,1)">110</text><line x1="1649.54" y1="297.2" x2="1649.54" y2="300.8" stroke="#3a3a3a" stroke-width="1.1"/><text font-size="10.5" text-anchor="middle" fill="#333333" stroke="#444" stroke-width="0.25" transform="translate(1649.54,315.9) scale(0.8,1)">120</text><text x="1448.5" y="338.3" font-size="14.5" font-weight="bold" text-anchor="middle" fill="#111" textLength="72.5" lengthAdjust="spacingAndGlyphs">Pixel Position</text><path d="M1308.23,276.55 L1309.07,274.84 L1309.9,273.09 L1310.74,270.93 L1311.58,268.61 L1312.41,264.86 L1313.25,260.95 L1314.09,255.64 L1314.92,250.12 L1315.76,242.66 L1316.6,235 L1317.43,225.54 L1318.27,215.58 L1319.11,201.08 L1319.94,186.43 L1320.78,170.39 L1321.62,155.26 L1322.45,148.44 L1323.29,141.97 L1324.13,138.65 L1324.96,135.41 L1325.8,132.84 L1326.64,130.37 L1327.47,128.78 L1328.31,127.31 L1329.15,126.78 L1329.99,126.4 L1330.82,127.32 L1331.66,128.36 L1332.5,130.52 L1333.33,132.79 L1334.17,136.14 L1335.01,139.51 L1335.84,143.09 L1336.68,147.35 L1337.52,157.81 L1338.35,168.95 L1339.19,186.22 L1340.03,202.94 L1340.86,214.75 L1341.7,226.21 L1342.54,234.53 L1343.37,242.7 L1344.21,249.45 L1345.05,255.99 L1345.88,260.52 L1346.72,264.92 L1347.56,268.1 L1348.39,271.17 L1349.23,273.19 L1350.07,275.13 L1350.9,276.34 Z" fill="url(#hatch)" stroke="none"/><path d="M1308.23,276.55 L1309.07,274.84 L1309.9,273.09 L1310.74,270.93 L1311.58,268.61 L1312.41,264.86 L1313.25,260.95 L1314.09,255.64 L1314.92,250.12 L1315.76,242.66 L1316.6,235 L1317.43,225.54 L1318.27,215.58 L1319.11,201.08 L1319.94,186.43 L1320.78,170.39 L1321.62,155.26 L1322.45,148.44 L1323.29,141.97 L1324.13,138.65 L1324.96,135.41 L1325.8,132.84 L1326.64,130.37 L1327.47,128.78 L1328.31,127.31 L1329.15,126.78 L1329.99,126.4 L1330.82,127.32 L1331.66,128.36 L1332.5,130.52 L1333.33,132.79 L1334.17,136.14 L1335.01,139.51 L1335.84,143.09 L1336.68,147.35 L1337.52,157.81 L1338.35,168.95 L1339.19,186.22 L1340.03,202.94 L1340.86,214.75 L1341.7,226.21 L1342.54,234.53 L1343.37,242.7 L1344.21,249.45 L1345.05,255.99 L1345.88,260.52 L1346.72,264.92 L1347.56,268.1 L1348.39,271.17 L1349.23,273.19 L1350.07,275.13 L1350.9,276.34" fill="none" stroke="#357a3c" stroke-width="0.9"/><line x1="1308.23" y1="276.55" x2="1350.9" y2="276.34" stroke="#3a2a3a" stroke-width="1.1"/><path d="M1392.41,280.23 L1393.24,280.01 L1394.08,279.68 L1394.92,279.3 L1395.75,278.64 L1396.59,277.86 L1397.43,277.08 L1398.26,276.3 L1399.1,275.94 L1399.94,275.75 L1400.77,275.54 L1401.61,275.33 L1402.45,275.18 L1403.28,275.06 L1404.12,275.07 L1404.96,275.14 L1405.79,275.48 L1406.63,275.93 L1407.47,276.21 L1408.3,276.41 L1409.14,277.2 L1409.98,278.24 L1410.82,278.79 L1411.65,279.13 L1412.49,279.38 L1413.33,279.59 Z" fill="url(#hatch)" stroke="none"/><path d="M1392.41,280.23 L1393.24,280.01 L1394.08,279.68 L1394.92,279.3 L1395.75,278.64 L1396.59,277.86 L1397.43,277.08 L1398.26,276.3 L1399.1,275.94 L1399.94,275.75 L1400.77,275.54 L1401.61,275.33 L1402.45,275.18 L1403.28,275.06 L1404.12,275.07 L1404.96,275.14 L1405.79,275.48 L1406.63,275.93 L1407.47,276.21 L1408.3,276.41 L1409.14,277.2 L1409.98,278.24 L1410.82,278.79 L1411.65,279.13 L1412.49,279.38 L1413.33,279.59" fill="none" stroke="#357a3c" stroke-width="0.9"/><line x1="1392.41" y1="280.23" x2="1413.33" y2="279.59" stroke="#3a2a3a" stroke-width="1.1"/><path d="M1462.02,279.89 L1462.86,279.58 L1463.7,279.24 L1464.53,278.55 L1465.37,277.83 L1466.21,277.53 L1467.04,277.27 L1467.88,277.15 L1468.72,277.04 L1469.56,277.07 L1470.39,277.13 L1471.23,276.98 L1472.07,276.81 L1472.9,276.87 L1473.74,276.96 L1474.58,277.28 L1475.41,277.63 L1476.25,278.26 L1477.09,278.91 L1477.92,279.28 L1478.76,279.62 L1479.6,279.87 Z" fill="url(#hatch)" stroke="none"/><path d="M1462.02,279.89 L1462.86,279.58 L1463.7,279.24 L1464.53,278.55 L1465.37,277.83 L1466.21,277.53 L1467.04,277.27 L1467.88,277.15 L1468.72,277.04 L1469.56,277.07 L1470.39,277.13 L1471.23,276.98 L1472.07,276.81 L1472.9,276.87 L1473.74,276.96 L1474.58,277.28 L1475.41,277.63 L1476.25,278.26 L1477.09,278.91 L1477.92,279.28 L1478.76,279.62 L1479.6,279.87" fill="none" stroke="#357a3c" stroke-width="0.9"/><line x1="1462.02" y1="279.89" x2="1479.6" y2="279.87" stroke="#3a2a3a" stroke-width="1.1"/><path d="M1536.66,279.06 L1537.5,278.41 L1538.34,277.41 L1539.17,276.37 L1540.01,274.94 L1540.85,273.41 L1541.68,271.07 L1542.52,268.64 L1543.36,265.42 L1544.19,262.44 L1545.03,261.63 L1545.87,260.84 L1546.7,260.22 L1547.54,259.65 L1548.38,259.59 L1549.21,259.56 L1550.05,259.85 L1550.89,260.18 L1551.72,260.8 L1552.56,261.49 L1553.4,262.77 L1554.23,264.25 L1555.07,267.62 L1555.91,270.86 L1556.74,273.03 L1557.58,275.14 L1558.42,276.7 L1559.25,278.15 L1560.09,278.75 L1560.93,279.33 Z" fill="url(#hatch)" stroke="none"/><path d="M1536.66,279.06 L1537.5,278.41 L1538.34,277.41 L1539.17,276.37 L1540.01,274.94 L1540.85,273.41 L1541.68,271.07 L1542.52,268.64 L1543.36,265.42 L1544.19,262.44 L1545.03,261.63 L1545.87,260.84 L1546.7,260.22 L1547.54,259.65 L1548.38,259.59 L1549.21,259.56 L1550.05,259.85 L1550.89,260.18 L1551.72,260.8 L1552.56,261.49 L1553.4,262.77 L1554.23,264.25 L1555.07,267.62 L1555.91,270.86 L1556.74,273.03 L1557.58,275.14 L1558.42,276.7 L1559.25,278.15 L1560.09,278.75 L1560.93,279.33" fill="none" stroke="#357a3c" stroke-width="0.9"/><line x1="1536.66" y1="279.06" x2="1560.93" y2="279.33" stroke="#3a2a3a" stroke-width="1.1"/><path d="M1247.9,278.61 L1249.57,278.4 L1251.25,278.23 L1252.92,278.73 L1254.59,278.7 L1256.27,278.81 L1257.94,278.96 L1259.61,279.54 L1261.29,279.95 L1262.96,279.92 L1264.63,279.6 L1266.31,279.82 L1267.98,279.81 L1269.66,280.02 L1271.33,279.79 L1273,279.66 L1274.68,280.08 L1276.35,279.89 L1278.02,280.57 L1279.7,280.36 L1281.37,280.18 L1283.04,280.63 L1284.72,280.4 L1286.39,280.36 L1288.06,279.99 L1289.74,280.34 L1291.41,280.24 L1293.08,279.88 L1294.76,279.86 L1296.43,280.1 L1298.11,280.42 L1299.78,279.78 L1301.45,279.51 L1303.13,278.71 L1304.8,278.82 L1306.47,278.4 L1308.15,276.72" fill="none" stroke="#8c4e8e" stroke-width="1.2" stroke-linejoin="round"/><path d="M1349.98,275.01 L1351.66,277.42 L1353.33,277.69 L1355,278.42 L1356.68,279.37 L1358.35,280.03 L1360.02,279.67 L1361.7,279.85 L1363.37,279.92 L1365.05,280.19 L1366.72,280.12 L1368.39,280.08 L1370.07,280.43 L1371.74,280.85 L1373.41,280.38 L1375.09,280.17 L1376.76,280.73 L1378.43,280.62 L1380.11,280.46 L1381.78,280.59 L1383.45,280.41 L1385.13,280.13 L1386.8,280.26 L1388.47,280.47 L1390.15,280.6 L1391.82,280.38" fill="none" stroke="#8c4e8e" stroke-width="1.2" stroke-linejoin="round"/><path d="M1413.58,279.65 L1415.25,280.06 L1416.92,280.45 L1418.6,280.87 L1420.27,281.09 L1421.94,280.82 L1423.62,281.03 L1425.29,280.97 L1426.96,281.18 L1428.64,281.41 L1430.31,281.44 L1431.99,281.12 L1433.66,281.1 L1435.33,281.13 L1437.01,281.04 L1438.68,280.9 L1440.35,280.82 L1442.03,280.8 L1443.7,280.35 L1445.37,280.25 L1447.05,280.6 L1448.72,280.73 L1450.39,280.91 L1452.07,280.87 L1453.74,281.12 L1455.41,280.69 L1457.09,280.59 L1458.76,280.57 L1460.43,280.02 L1462.11,279.89" fill="none" stroke="#8c4e8e" stroke-width="1.2" stroke-linejoin="round"/><path d="M1478.84,279.65 L1480.52,280.14 L1482.19,280.41 L1483.86,280.79 L1485.54,280.65 L1487.21,280.46 L1488.88,280.31 L1490.56,280.48 L1492.23,280.57 L1493.9,280.58 L1495.58,280.55 L1497.25,280.59 L1498.93,280.97 L1500.6,280.99 L1502.27,280.42 L1503.95,280.24 L1505.62,280.42 L1507.29,280.3 L1508.97,280.66 L1510.64,280.81 L1512.31,280.7 L1513.99,280.49 L1515.66,280.91 L1517.33,280.78 L1519.01,280.34 L1520.68,280.31 L1522.35,279.96 L1524.03,280.44 L1525.7,280.04 L1527.37,279.85 L1529.05,280.36 L1530.72,280.22 L1532.39,279.96 L1534.07,280.23 L1535.74,279.72 L1537.42,278.51" fill="none" stroke="#8c4e8e" stroke-width="1.2" stroke-linejoin="round"/><path d="M1560.84,279.29 L1562.52,280.12 L1564.19,280.01 L1565.87,279.85 L1567.54,280.42 L1569.21,280.21 L1570.89,280.47 L1572.56,280.6 L1574.23,280.69 L1575.91,280.6 L1577.58,280.79 L1579.25,280.71 L1580.93,280.83 L1582.6,281.02 L1584.27,281.03 L1585.95,280.71 L1587.62,280.85 L1589.29,281.04 L1590.97,281.04 L1592.64,281.19 L1594.31,280.7 L1595.99,280.62 L1597.66,281.11 L1599.34,281.3 L1601.01,281.32 L1602.68,281.3 L1604.36,281.42 L1606.03,281.41 L1607.7,281.24 L1609.38,281.64 L1611.05,281.56 L1612.72,281.84 L1614.4,281.7 L1616.07,281.79 L1617.74,281.45 L1619.42,281.21 L1621.09,281.01 L1622.76,281.34 L1624.44,281.35 L1626.11,281.71 L1627.78,281.48 L1629.46,281.3 L1631.13,281.48 L1632.81,281.66 L1634.48,281.42 L1636.15,281.29 L1637.83,281.18 L1639.5,281.52 L1641.17,281.75 L1642.85,281.86" fill="none" stroke="#8c4e8e" stroke-width="1.2" stroke-linejoin="round"/><line x1="1314.84" y1="253.86" x2="1314.84" y2="296.7" stroke="#222" stroke-width="1.1" stroke-dasharray="2.2 2.8"/><line x1="1344.96" y1="258.53" x2="1344.96" y2="296.7" stroke="#222" stroke-width="1.1" stroke-dasharray="2.2 2.8"/><line x1="1391.82" y1="283.38" x2="1391.82" y2="296.7" stroke="#222" stroke-width="1.1" stroke-dasharray="2.2 2.8"/><line x1="1418.6" y1="283.87" x2="1418.6" y2="296.7" stroke="#222" stroke-width="1.1" stroke-dasharray="2.2 2.8"/><line x1="1465.46" y1="280.76" x2="1465.46" y2="296.7" stroke="#222" stroke-width="1.1" stroke-dasharray="2.2 2.8"/><line x1="1488.88" y1="283.31" x2="1488.88" y2="296.7" stroke="#222" stroke-width="1.1" stroke-dasharray="2.2 2.8"/><line x1="1535.74" y1="282.72" x2="1535.74" y2="296.7" stroke="#222" stroke-width="1.1" stroke-dasharray="2.2 2.8"/><line x1="1559.17" y1="281.09" x2="1559.17" y2="296.7" stroke="#222" stroke-width="1.1" stroke-dasharray="2.2 2.8"/><line x1="1328.23" y1="98" x2="1328.23" y2="111.6" stroke="#2323d2" stroke-width="1.1"/><path d="M1325.23,110.1 L1331.23,110.1 L1328.23,116.6 Z" fill="#2323d2"/><rect x="1321.53" y="85" width="13.4" height="13" fill="#fff" stroke="#3c3cb8" stroke-width="1.1"/><text font-size="11" text-anchor="middle" fill="#222" transform="translate(1328.23,95.4) scale(0.8,1)">1</text><line x1="1405.21" y1="79.9" x2="1405.21" y2="260.8" stroke="#2323d2" stroke-width="1.1"/><path d="M1402.21,259.3 L1408.21,259.3 L1405.21,265.8 Z" fill="#2323d2"/><rect x="1398.51" y="66.9" width="13.4" height="13" fill="#fff" stroke="#3c3cb8" stroke-width="1.1"/><text font-size="11" text-anchor="middle" fill="#222" transform="translate(1405.21,77.3) scale(0.8,1)">2</text><line x1="1475.5" y1="97" x2="1475.5" y2="262.5" stroke="#2323d2" stroke-width="1.1"/><path d="M1472.5,261 L1478.5,261 L1475.5,267.5 Z" fill="#2323d2"/><rect x="1468.8" y="84" width="13.4" height="13" fill="#fff" stroke="#3c3cb8" stroke-width="1.1"/><text font-size="11" text-anchor="middle" fill="#222" transform="translate(1475.5,94.4) scale(0.8,1)">3</text><line x1="1549.13" y1="79.9" x2="1549.13" y2="245.3" stroke="#2323d2" stroke-width="1.1"/><path d="M1546.13,243.8 L1552.13,243.8 L1549.13,250.3 Z" fill="#2323d2"/><rect x="1542.43" y="66.9" width="13.4" height="13" fill="#fff" stroke="#3c3cb8" stroke-width="1.1"/><text font-size="11" text-anchor="middle" fill="#222" transform="translate(1549.13,77.3) scale(0.8,1)">4</text><line x1="1371.6" y1="61.8" x2="1434.7" y2="61.8" stroke="#f20a0a" stroke-width="5.2" stroke-dasharray="16.3 7.1"/><line x1="1371.6" y1="296.5" x2="1434.7" y2="296.5" stroke="#f20a0a" stroke-width="5.2" stroke-dasharray="16.3 7.1"/><line x1="1374.2" y1="59.2" x2="1374.2" y2="299.1" stroke="#f20a0a" stroke-width="5.2" stroke-dasharray="16.3 6.06"/><line x1="1432.1" y1="59.2" x2="1432.1" y2="299.1" stroke="#f20a0a" stroke-width="5.2" stroke-dasharray="16.3 6.06"/><line x1="1449" y1="60.6" x2="1512" y2="60.6" stroke="#f20a0a" stroke-width="5.2" stroke-dasharray="16.3 7.05"/><line x1="1449" y1="296.5" x2="1512" y2="296.5" stroke="#f20a0a" stroke-width="5.2" stroke-dasharray="16.3 7.05"/><line x1="1451.6" y1="58" x2="1451.6" y2="299.1" stroke="#f20a0a" stroke-width="5.2" stroke-dasharray="16.3 6.18"/><line x1="1509.4" y1="58" x2="1509.4" y2="299.1" stroke="#f20a0a" stroke-width="5.2" stroke-dasharray="16.3 6.18"/><line x1="1525.7" y1="60.7" x2="1588.8" y2="60.7" stroke="#f20a0a" stroke-width="5.2" stroke-dasharray="16.3 7.1"/><line x1="1525.7" y1="296.5" x2="1588.8" y2="296.5" stroke="#f20a0a" stroke-width="5.2" stroke-dasharray="16.3 7.1"/><line x1="1528.3" y1="58.1" x2="1528.3" y2="299.1" stroke="#f20a0a" stroke-width="5.2" stroke-dasharray="16.3 6.17"/><line x1="1586.2" y1="58.1" x2="1586.2" y2="299.1" stroke="#f20a0a" stroke-width="5.2" stroke-dasharray="16.3 6.17"/><text x="1268.2" y="41.8" font-size="22" text-anchor="middle" fill="#111">T18</text></g>
<g><rect x="12.3" y="350.6" width="195.8" height="41.1" fill="#fff" stroke="#0a0a0a" stroke-width="2.1"/><rect x="49.6" y="441" width="456.4" height="172.2" fill="none" stroke="#3a3a3a" stroke-width="1.2"/><line x1="42.6" y1="613.2" x2="49.6" y2="613.2" stroke="#3a3a3a" stroke-width="1.1"/><text x="0" y="0" font-size="10.5" text-anchor="end" fill="#333333" stroke="#444" stroke-width="0.25" transform="translate(39.6,616.9) scale(0.8,1) translate(0,0)">0</text><line x1="46" y1="604.08" x2="49.6" y2="604.08" stroke="#3a3a3a" stroke-width="1.1"/><line x1="46" y1="594.96" x2="49.6" y2="594.96" stroke="#3a3a3a" stroke-width="1.1"/><line x1="46" y1="585.84" x2="49.6" y2="585.84" stroke="#3a3a3a" stroke-width="1.1"/><line x1="46" y1="576.72" x2="49.6" y2="576.72" stroke="#3a3a3a" stroke-width="1.1"/><line x1="42.6" y1="567.6" x2="49.6" y2="567.6" stroke="#3a3a3a" stroke-width="1.1"/><text x="0" y="0" font-size="10.5" text-anchor="end" fill="#333333" stroke="#444" stroke-width="0.25" transform="translate(39.6,571.3) scale(0.8,1) translate(0,0)">50</text><line x1="46" y1="558.48" x2="49.6" y2="558.48" stroke="#3a3a3a" stroke-width="1.1"/><line x1="46" y1="549.36" x2="49.6" y2="549.36" stroke="#3a3a3a" stroke-width="1.1"/><line x1="46" y1="540.24" x2="49.6" y2="540.24" stroke="#3a3a3a" stroke-width="1.1"/><line x1="46" y1="531.12" x2="49.6" y2="531.12" stroke="#3a3a3a" stroke-width="1.1"/><line x1="42.6" y1="522" x2="49.6" y2="522" stroke="#3a3a3a" stroke-width="1.1"/><text x="0" y="0" font-size="10.5" text-anchor="end" fill="#333333" stroke="#444" stroke-width="0.25" transform="translate(39.6,525.7) scale(0.8,1) translate(0,0)">100</text><line x1="46" y1="512.88" x2="49.6" y2="512.88" stroke="#3a3a3a" stroke-width="1.1"/><line x1="46" y1="503.76" x2="49.6" y2="503.76" stroke="#3a3a3a" stroke-width="1.1"/><line x1="46" y1="494.64" x2="49.6" y2="494.64" stroke="#3a3a3a" stroke-width="1.1"/><line x1="46" y1="485.52" x2="49.6" y2="485.52" stroke="#3a3a3a" stroke-width="1.1"/><line x1="42.6" y1="476.4" x2="49.6" y2="476.4" stroke="#3a3a3a" stroke-width="1.1"/><text x="0" y="0" font-size="10.5" text-anchor="end" fill="#333333" stroke="#444" stroke-width="0.25" transform="translate(39.6,480.1) scale(0.8,1) translate(0,0)">150</text><line x1="46" y1="467.28" x2="49.6" y2="467.28" stroke="#3a3a3a" stroke-width="1.1"/><line x1="46" y1="458.16" x2="49.6" y2="458.16" stroke="#3a3a3a" stroke-width="1.1"/><line x1="46" y1="449.04" x2="49.6" y2="449.04" stroke="#3a3a3a" stroke-width="1.1"/><line x1="49.2" y1="613.2" x2="49.2" y2="620.2" stroke="#3a3a3a" stroke-width="1.1"/><text font-size="10.5" text-anchor="middle" fill="#333333" stroke="#444" stroke-width="0.25" transform="translate(49.2,630.5) scale(0.8,1)">0</text><line x1="75.2" y1="613.2" x2="75.2" y2="616.8" stroke="#3a3a3a" stroke-width="1.1"/><text font-size="10.5" text-anchor="middle" fill="#333333" stroke="#444" stroke-width="0.25" transform="translate(75.2,630.5) scale(0.8,1)">10</text><line x1="101.2" y1="613.2" x2="101.2" y2="616.8" stroke="#3a3a3a" stroke-width="1.1"/><text font-size="10.5" text-anchor="middle" fill="#333333" stroke="#444" stroke-width="0.25" transform="translate(101.2,630.5) scale(0.8,1)">20</text><line x1="127.2" y1="613.2" x2="127.2" y2="616.8" stroke="#3a3a3a" stroke-width="1.1"/><text font-size="10.5" text-anchor="middle" fill="#333333" stroke="#444" stroke-width="0.25" transform="translate(127.2,630.5) scale(0.8,1)">30</text><line x1="153.2" y1="613.2" x2="153.2" y2="616.8" stroke="#3a3a3a" stroke-width="1.1"/><text font-size="10.5" text-anchor="middle" fill="#333333" stroke="#444" stroke-width="0.25" transform="translate(153.2,630.5) scale(0.8,1)">40</text><line x1="179.2" y1="613.2" x2="179.2" y2="620.2" stroke="#3a3a3a" stroke-width="1.1"/><text font-size="10.5" text-anchor="middle" fill="#333333" stroke="#444" stroke-width="0.25" transform="translate(179.2,630.5) scale(0.8,1)">50</text><line x1="205.2" y1="613.2" x2="205.2" y2="616.8" stroke="#3a3a3a" stroke-width="1.1"/><text font-size="10.5" text-anchor="middle" fill="#333333" stroke="#444" stroke-width="0.25" transform="translate(205.2,630.5) scale(0.8,1)">60</text><line x1="231.2" y1="613.2" x2="231.2" y2="616.8" stroke="#3a3a3a" stroke-width="1.1"/><text font-size="10.5" text-anchor="middle" fill="#333333" stroke="#444" stroke-width="0.25" transform="translate(231.2,630.5) scale(0.8,1)">70</text><line x1="257.2" y1="613.2" x2="257.2" y2="616.8" stroke="#3a3a3a" stroke-width="1.1"/><text font-size="10.5" text-anchor="middle" fill="#333333" stroke="#444" stroke-width="0.25" transform="translate(257.2,630.5) scale(0.8,1)">80</text><line x1="283.2" y1="613.2" x2="283.2" y2="616.8" stroke="#3a3a3a" stroke-width="1.1"/><text font-size="10.5" text-anchor="middle" fill="#333333" stroke="#444" stroke-width="0.25" transform="translate(283.2,630.5) scale(0.8,1)">90</text><line x1="309.2" y1="613.2" x2="309.2" y2="620.2" stroke="#3a3a3a" stroke-width="1.1"/><text font-size="10.5" text-anchor="middle" fill="#333333" stroke="#444" stroke-width="0.25" transform="translate(309.2,630.5) scale(0.8,1)">100</text><line x1="335.2" y1="613.2" x2="335.2" y2="616.8" stroke="#3a3a3a" stroke-width="1.1"/><text font-size="10.5" text-anchor="middle" fill="#333333" stroke="#444" stroke-width="0.25" transform="translate(335.2,630.5) scale(0.8,1)">110</text><line x1="361.2" y1="613.2" x2="361.2" y2="616.8" stroke="#3a3a3a" stroke-width="1.1"/><text font-size="10.5" text-anchor="middle" fill="#333333" stroke="#444" stroke-width="0.25" transform="translate(361.2,630.5) scale(0.8,1)">120</text><line x1="387.2" y1="613.2" x2="387.2" y2="616.8" stroke="#3a3a3a" stroke-width="1.1"/><text font-size="10.5" text-anchor="middle" fill="#333333" stroke="#444" stroke-width="0.25" transform="translate(387.2,630.5) scale(0.8,1)">130</text><line x1="413.2" y1="613.2" x2="413.2" y2="616.8" stroke="#3a3a3a" stroke-width="1.1"/><text font-size="10.5" text-anchor="middle" fill="#333333" stroke="#444" stroke-width="0.25" transform="translate(413.2,630.5) scale(0.8,1)">140</text><line x1="439.2" y1="613.2" x2="439.2" y2="620.2" stroke="#3a3a3a" stroke-width="1.1"/><text font-size="10.5" text-anchor="middle" fill="#333333" stroke="#444" stroke-width="0.25" transform="translate(439.2,630.5) scale(0.8,1)">150</text><line x1="465.2" y1="613.2" x2="465.2" y2="616.8" stroke="#3a3a3a" stroke-width="1.1"/><text font-size="10.5" text-anchor="middle" fill="#333333" stroke="#444" stroke-width="0.25" transform="translate(465.2,630.5) scale(0.8,1)">160</text><line x1="491.2" y1="613.2" x2="491.2" y2="616.8" stroke="#3a3a3a" stroke-width="1.1"/><text font-size="10.5" text-anchor="middle" fill="#333333" stroke="#444" stroke-width="0.25" transform="translate(491.2,630.5) scale(0.8,1)">170</text><text x="277" y="651.1" font-size="13.8" font-weight="bold" text-anchor="middle" fill="#111" textLength="82.5" lengthAdjust="spacingAndGlyphs">Pixel Position</text><path d="M106.59,579.63 L107.25,578.74 L107.9,577.78 L108.55,576.67 L109.19,575.31 L109.84,573.35 L110.5,571.19 L111.15,568.53 L111.8,565.59 L112.44,562 L113.09,558.11 L113.75,553.51 L114.4,548.79 L115.05,543.77 L115.7,538.17 L116.34,531.24 L117,523.44 L117.65,513.65 L118.3,503.41 L118.95,492.14 L119.59,482.53 L120.25,476.77 L120.9,472.06 L121.55,469.77 L122.2,467.45 L122.84,465.01 L123.5,462.81 L124.15,461.15 L124.8,459.61 L125.45,458.37 L126.09,457.32 L126.75,456.73 L127.4,456.35 L128.05,456.48 L128.69,456.73 L129.34,457.29 L130,458.09 L130.65,459.45 L131.3,460.98 L131.94,462.89 L132.6,464.87 L133.25,467.03 L133.9,469.49 L134.55,472.66 L135.19,477.01 L135.85,484.14 L136.5,492.54 L137.15,503.91 L137.8,514.51 L138.44,523.34 L139.1,531.43 L139.75,537.78 L140.4,543.78 L141.05,548.97 L141.69,553.89 L142.35,558.17 L143,562.19 L143.65,565.6 L144.3,568.72 L144.94,571.15 L145.6,573.44 L146.25,575.37 L146.9,577.06 L147.55,578.18 L148.19,579.18 L148.85,579.9 Z" fill="url(#hatch)" stroke="none"/><path d="M106.59,579.63 L107.25,578.74 L107.9,577.78 L108.55,576.67 L109.19,575.31 L109.84,573.35 L110.5,571.19 L111.15,568.53 L111.8,565.59 L112.44,562 L113.09,558.11 L113.75,553.51 L114.4,548.79 L115.05,543.77 L115.7,538.17 L116.34,531.24 L117,523.44 L117.65,513.65 L118.3,503.41 L118.95,492.14 L119.59,482.53 L120.25,476.77 L120.9,472.06 L121.55,469.77 L122.2,467.45 L122.84,465.01 L123.5,462.81 L124.15,461.15 L124.8,459.61 L125.45,458.37 L126.09,457.32 L126.75,456.73 L127.4,456.35 L128.05,456.48 L128.69,456.73 L129.34,457.29 L130,458.09 L130.65,459.45 L131.3,460.98 L131.94,462.89 L132.6,464.87 L133.25,467.03 L133.9,469.49 L134.55,472.66 L135.19,477.01 L135.85,484.14 L136.5,492.54 L137.15,503.91 L137.8,514.51 L138.44,523.34 L139.1,531.43 L139.75,537.78 L140.4,543.78 L141.05,548.97 L141.69,553.89 L142.35,558.17 L143,562.19 L143.65,565.6 L144.3,568.72 L144.94,571.15 L145.6,573.44 L146.25,575.37 L146.9,577.06 L147.55,578.18 L148.19,579.18 L148.85,579.9" fill="none" stroke="#357a3c" stroke-width="0.9"/><line x1="106.59" y1="579.63" x2="148.85" y2="579.9" stroke="#3a2a3a" stroke-width="1.1"/><path d="M352.75,588.34 L353.4,588.01 L354.05,587.75 L354.7,587.49 L355.35,587.14 L356,586.78 L356.65,586.56 L357.3,586.35 L357.95,586.03 L358.6,585.71 L359.25,584.97 L359.9,584.24 L360.55,584.02 L361.2,583.81 L361.85,583.56 L362.5,583.31 L363.15,583.28 L363.8,583.25 L364.45,583.06 L365.1,582.87 L365.75,582.7 L366.4,582.53 L367.05,582.38 L367.7,582.23 L368.35,582.45 L369,582.67 L369.65,582.85 L370.3,583.03 L370.95,583.09 L371.6,583.16 L372.25,583.08 L372.9,582.99 L373.55,583.28 L374.2,583.56 L374.85,583.91 L375.5,584.26 L376.15,584.93 L376.8,585.6 L377.45,586.22 L378.1,586.85 L378.75,587.1 L379.4,587.35 L380.05,587.65 L380.7,587.95 L381.35,588.13 L382,588.31 L382.65,588.36 Z" fill="url(#hatch)" stroke="none"/><path d="M352.75,588.34 L353.4,588.01 L354.05,587.75 L354.7,587.49 L355.35,587.14 L356,586.78 L356.65,586.56 L357.3,586.35 L357.95,586.03 L358.6,585.71 L359.25,584.97 L359.9,584.24 L360.55,584.02 L361.2,583.81 L361.85,583.56 L362.5,583.31 L363.15,583.28 L363.8,583.25 L364.45,583.06 L365.1,582.87 L365.75,582.7 L366.4,582.53 L367.05,582.38 L367.7,582.23 L368.35,582.45 L369,582.67 L369.65,582.85 L370.3,583.03 L370.95,583.09 L371.6,583.16 L372.25,583.08 L372.9,582.99 L373.55,583.28 L374.2,583.56 L374.85,583.91 L375.5,584.26 L376.15,584.93 L376.8,585.6 L377.45,586.22 L378.1,586.85 L378.75,587.1 L379.4,587.35 L380.05,587.65 L380.7,587.95 L381.35,588.13 L382,588.31 L382.65,588.36" fill="none" stroke="#357a3c" stroke-width="0.9"/><line x1="352.75" y1="588.34" x2="382.65" y2="588.36" stroke="#3a2a3a" stroke-width="1.1"/><path d="M49.2,582.04 L50.5,581.86 L51.8,582.25 L53.1,581.88 L54.4,582.28 L55.7,582.16 L57,582.53 L58.3,582.26 L59.6,582.58 L60.9,582.36 L62.2,582.24 L63.5,582.16 L64.8,582.37 L66.1,582.19 L67.4,582.01 L68.7,582.56 L70,582.58 L71.3,582.27 L72.6,582.27 L73.9,582.48 L75.2,582.7 L76.5,582.45 L77.8,583.14 L79.1,583.22 L80.4,583.35 L81.7,583.99 L83,584.18 L84.3,584.18 L85.6,583.88 L86.9,583.71 L88.2,583.14 L89.5,582.75 L90.8,583.01 L92.1,582.66 L93.4,582.87 L94.7,582.75 L96,582.04 L97.3,581.37 L98.6,580.85 L99.9,580.38 L101.2,580.26 L102.5,580.67 L103.8,580.5 L105.1,580.23 L106.4,579.9" fill="none" stroke="#8c4e8e" stroke-width="1.2" stroke-linejoin="round"/><path d="M149.3,580.4 L150.6,581.43 L151.9,581.04 L153.2,581.02 L154.5,580.92 L155.8,581.1 L157.1,581.21 L158.4,581.43 L159.7,581.62 L161,581.91 L162.3,582.07 L163.6,582.22 L164.9,582.34 L166.2,582.05 L167.5,582.03 L168.8,582.2 L170.1,582.8 L171.4,583 L172.7,582.95 L174,582.84 L175.3,583.01 L176.6,582.97 L177.9,582.75 L179.2,583.09 L180.5,583.19 L181.8,583.01 L183.1,583.26 L184.4,583.15 L185.7,583.37 L187,583.81 L188.3,583.78 L189.6,584.09 L190.9,583.78 L192.2,583.6 L193.5,583.76 L194.8,583.59 L196.1,584.01 L197.4,584.06 L198.7,584.28 L200,584.49 L201.3,584.04 L202.6,584.36 L203.9,583.89 L205.2,583.9 L206.5,583.81 L207.8,584.23 L209.1,583.84 L210.4,583.7 L211.7,584.16 L213,584.41 L214.3,584.66 L215.6,584.61 L216.9,584.98 L218.2,584.75 L219.5,584.94 L220.8,584.98 L222.1,585.41 L223.4,585.42 L224.7,585.63 L226,585.63 L227.3,585.82 L228.6,585.49 L229.9,585.4 L231.2,585.37 L232.5,585.73 L233.8,586.06 L235.1,586.29 L236.4,586.46 L237.7,585.97 L239,586.22 L240.3,585.96 L241.6,586.31 L242.9,586.25 L244.2,586.52 L245.5,586.65 L246.8,586.42 L248.1,586.42 L249.4,586.2 L250.7,586.61 L252,586.83 L253.3,587.11 L254.6,587.16 L255.9,586.63 L257.2,586.64 L258.5,586.75 L259.8,586.99 L261.1,586.9 L262.4,586.99 L263.7,587.51 L265,587.93 L266.3,588.09 L267.6,587.69 L268.9,587.5 L270.2,587.74 L271.5,587.85 L272.8,587.83 L274.1,587.52 L275.4,587.27 L276.7,587.48 L278,587.51 L279.3,587.57 L280.6,587.08 L281.9,587.09 L283.2,586.82 L284.5,587.21 L285.8,587.2 L287.1,587.31 L288.4,587.19 L289.7,587.61 L291,588.03 L292.3,587.91 L293.6,587.81 L294.9,588.13 L296.2,588.47 L297.5,588.85 L298.8,588.78 L300.1,588.42 L301.4,588.71 L302.7,588.9 L304,589 L305.3,589.38 L306.6,589.73 L307.9,589.65 L309.2,589.26 L310.5,589.1 L311.8,589.44 L313.1,589.29 L314.4,589.2 L315.7,589.36 L317,589.64 L318.3,589.94 L319.6,589.77 L320.9,589.72 L322.2,590.07 L323.5,590.34 L324.8,590.54 L326.1,590.16 L327.4,589.93 L328.7,590.09 L330,590.13 L331.3,590.1 L332.6,590.49 L333.9,590.44 L335.2,590.46 L336.5,590.14 L337.8,590.42 L339.1,590.01 L340.4,590.24 L341.7,589.95 L343,589.53 L344.3,589.84 L345.6,589.68 L346.9,589.93 L348.2,589.66 L349.5,589.45 L350.8,588.85 L352.1,588.66 L353.4,588.01" fill="none" stroke="#8c4e8e" stroke-width="1.2" stroke-linejoin="round"/><path d="M382,588.31 L383.3,588.41 L384.6,588.63 L385.9,589.12 L387.2,589.15 L388.5,589.29 L389.8,589.19 L391.1,589.71 L392.4,589.78 L393.7,589.53 L395,589.5 L396.3,589.56 L397.6,589.6 L398.9,589.6 L400.2,589.55 L401.5,589.49 L402.8,589.54 L404.1,589.51 L405.4,589.77 L406.7,590.24 L408,590.38 L409.3,590.12 L410.6,590.05 L411.9,590.13 L413.2,590.53 L414.5,590.73 L415.8,590.5 L417.1,590.57 L418.4,590.82 L419.7,590.42 L421,590.79 L422.3,590.52 L423.6,590.65 L424.9,590.52 L426.2,590.63 L427.5,591.15 L428.8,591.47 L430.1,591.22 L431.4,591.43 L432.7,591.53 L434,591.43 L435.3,591.5 L436.6,591.47 L437.9,591.6 L439.2,591.84 L440.5,591.66 L441.8,592.01 L443.1,591.8 L444.4,591.67 L445.7,592.11 L447,592.5 L448.3,592.09 L449.6,592.44 L450.9,592.43 L452.2,592.65 L453.5,592.93 L454.8,593.04 L456.1,593.27 L457.4,592.87 L458.7,592.74 L460,592.69 L461.3,593.14 L462.6,593.28 L463.9,593.52 L465.2,593.1 L466.5,592.77 L467.8,592.61 L469.1,592.59 L470.4,592.76 L471.7,592.93 L473,593.3 L474.3,593.57 L475.6,593.29 L476.9,592.88 L478.2,592.65 L479.5,592.93 L480.8,593 L482.1,592.79 L483.4,593.1 L484.7,592.95 L486,592.96 L487.3,593.09 L488.6,593.19 L489.9,593.41 L491.2,593.55 L492.5,593.51 L493.8,592.99 L495.1,592.82 L496.4,593.32 L497.7,593.05 L499,593.35 L500.3,593.2 L501.6,592.86 L502.9,592.69 L504.2,592.61" fill="none" stroke="#8c4e8e" stroke-width="1.2" stroke-linejoin="round"/><line x1="111.6" y1="569.67" x2="111.6" y2="612.7" stroke="#222" stroke-width="1.1" stroke-dasharray="2.2 2.8"/><line x1="142.8" y1="564.16" x2="142.8" y2="612.7" stroke="#222" stroke-width="1.1" stroke-dasharray="2.2 2.8"/><line x1="197.4" y1="587.06" x2="197.4" y2="612.7" stroke="#222" stroke-width="1.1" stroke-dasharray="2.2 2.8"/><line x1="228.6" y1="588.49" x2="228.6" y2="612.7" stroke="#222" stroke-width="1.1" stroke-dasharray="2.2 2.8"/><line x1="267.6" y1="590.69" x2="267.6" y2="612.7" stroke="#222" stroke-width="1.1" stroke-dasharray="2.2 2.8"/><line x1="298.8" y1="591.78" x2="298.8" y2="612.7" stroke="#222" stroke-width="1.1" stroke-dasharray="2.2 2.8"/><line x1="358.6" y1="588.71" x2="358.6" y2="612.7" stroke="#222" stroke-width="1.1" stroke-dasharray="2.2 2.8"/><line x1="382" y1="591.31" x2="382" y2="612.7" stroke="#222" stroke-width="1.1" stroke-dasharray="2.2 2.8"/><line x1="127.2" y1="431.7" x2="127.2" y2="443.2" stroke="#2323d2" stroke-width="1.1"/><path d="M124.2,441.7 L130.2,441.7 L127.2,448.2 Z" fill="#2323d2"/><rect x="120.5" y="418.7" width="13.4" height="13" fill="#fff" stroke="#3c3cb8" stroke-width="1.1"/><text font-size="11" text-anchor="middle" fill="#222" transform="translate(127.2,429.1) scale(0.8,1)">1</text><line x1="213.52" y1="416" x2="213.52" y2="570.4" stroke="#2323d2" stroke-width="1.1"/><path d="M210.52,568.9 L216.52,568.9 L213.52,575.4 Z" fill="#2323d2"/><rect x="206.82" y="403" width="13.4" height="13" fill="#fff" stroke="#3c3cb8" stroke-width="1.1"/><text font-size="11" text-anchor="middle" fill="#222" transform="translate(213.52,413.4) scale(0.8,1)">2</text><line x1="283.72" y1="431.7" x2="283.72" y2="574.5" stroke="#2323d2" stroke-width="1.1"/><path d="M280.72,573 L286.72,573 L283.72,579.5 Z" fill="#2323d2"/><rect x="277.02" y="418.7" width="13.4" height="13" fill="#fff" stroke="#3c3cb8" stroke-width="1.1"/><text font-size="11" text-anchor="middle" fill="#222" transform="translate(283.72,429.1) scale(0.8,1)">3</text><line x1="366.92" y1="416" x2="366.92" y2="569.9" stroke="#2323d2" stroke-width="1.1"/><path d="M363.92,568.4 L369.92,568.4 L366.92,574.9 Z" fill="#2323d2"/><rect x="360.22" y="403" width="13.4" height="13" fill="#fff" stroke="#3c3cb8" stroke-width="1.1"/><text font-size="11" text-anchor="middle" fill="#222" transform="translate(366.92,413.4) scale(0.8,1)">4</text><line x1="332.9" y1="381.2" x2="396.1" y2="381.2" stroke="#f20a0a" stroke-width="5.2" stroke-dasharray="16.3 7.15"/><line x1="332.9" y1="615.7" x2="396.1" y2="615.7" stroke="#f20a0a" stroke-width="5.2" stroke-dasharray="16.3 7.15"/><line x1="335.5" y1="378.6" x2="335.5" y2="618.3" stroke="#f20a0a" stroke-width="5.2" stroke-dasharray="16.3 6.04"/><line x1="393.5" y1="378.6" x2="393.5" y2="618.3" stroke="#f20a0a" stroke-width="5.2" stroke-dasharray="16.3 6.04"/><text x="109.8" y="379.3" font-size="22" text-anchor="middle" fill="#111">T72</text></g>
<g><rect x="559.1" y="349.1" width="195.6" height="41.7" fill="#fff" stroke="#0a0a0a" stroke-width="2.1"/><rect x="657" y="432" width="473.6" height="188.3" fill="none" stroke="#3a3a3a" stroke-width="1.2"/><line x1="650" y1="620.4" x2="657" y2="620.4" stroke="#3a3a3a" stroke-width="1.1"/><text x="0" y="0" font-size="10.5" text-anchor="end" fill="#333333" stroke="#444" stroke-width="0.25" transform="translate(647,624.1) scale(0.8,1) translate(0,0)">0</text><line x1="653.4" y1="608.77" x2="657" y2="608.77" stroke="#3a3a3a" stroke-width="1.1"/><line x1="653.4" y1="597.14" x2="657" y2="597.14" stroke="#3a3a3a" stroke-width="1.1"/><line x1="653.4" y1="585.51" x2="657" y2="585.51" stroke="#3a3a3a" stroke-width="1.1"/><line x1="653.4" y1="573.88" x2="657" y2="573.88" stroke="#3a3a3a" stroke-width="1.1"/><line x1="650" y1="562.25" x2="657" y2="562.25" stroke="#3a3a3a" stroke-width="1.1"/><text x="0" y="0" font-size="10.5" text-anchor="end" fill="#333333" stroke="#444" stroke-width="0.25" transform="translate(647,565.95) scale(0.8,1) translate(0,0)">50</text><line x1="653.4" y1="550.62" x2="657" y2="550.62" stroke="#3a3a3a" stroke-width="1.1"/><line x1="653.4" y1="538.99" x2="657" y2="538.99" stroke="#3a3a3a" stroke-width="1.1"/><line x1="653.4" y1="527.36" x2="657" y2="527.36" stroke="#3a3a3a" stroke-width="1.1"/><line x1="653.4" y1="515.73" x2="657" y2="515.73" stroke="#3a3a3a" stroke-width="1.1"/><line x1="650" y1="504.1" x2="657" y2="504.1" stroke="#3a3a3a" stroke-width="1.1"/><text x="0" y="0" font-size="10.5" text-anchor="end" fill="#333333" stroke="#444" stroke-width="0.25" transform="translate(647,507.8) scale(0.8,1) translate(0,0)">100</text><line x1="653.4" y1="492.47" x2="657" y2="492.47" stroke="#3a3a3a" stroke-width="1.1"/><line x1="653.4" y1="480.84" x2="657" y2="480.84" stroke="#3a3a3a" stroke-width="1.1"/><line x1="653.4" y1="469.21" x2="657" y2="469.21" stroke="#3a3a3a" stroke-width="1.1"/><line x1="653.4" y1="457.58" x2="657" y2="457.58" stroke="#3a3a3a" stroke-width="1.1"/><line x1="650" y1="445.95" x2="657" y2="445.95" stroke="#3a3a3a" stroke-width="1.1"/><text x="0" y="0" font-size="10.5" text-anchor="end" fill="#333333" stroke="#444" stroke-width="0.25" transform="translate(647,449.65) scale(0.8,1) translate(0,0)">150</text><line x1="653.4" y1="434.32" x2="657" y2="434.32" stroke="#3a3a3a" stroke-width="1.1"/><line x1="656.6" y1="620.3" x2="656.6" y2="627.3" stroke="#3a3a3a" stroke-width="1.1"/><text font-size="10.5" text-anchor="middle" fill="#333333" stroke="#444" stroke-width="0.25" transform="translate(656.6,638.1) scale(0.8,1)">0</text><line x1="689.75" y1="620.3" x2="689.75" y2="623.9" stroke="#3a3a3a" stroke-width="1.1"/><text font-size="10.5" text-anchor="middle" fill="#333333" stroke="#444" stroke-width="0.25" transform="translate(689.75,638.1) scale(0.8,1)">10</text><line x1="722.9" y1="620.3" x2="722.9" y2="623.9" stroke="#3a3a3a" stroke-width="1.1"/><text font-size="10.5" text-anchor="middle" fill="#333333" stroke="#444" stroke-width="0.25" transform="translate(722.9,638.1) scale(0.8,1)">20</text><line x1="756.05" y1="620.3" x2="756.05" y2="623.9" stroke="#3a3a3a" stroke-width="1.1"/><text font-size="10.5" text-anchor="middle" fill="#333333" stroke="#444" stroke-width="0.25" transform="translate(756.05,638.1) scale(0.8,1)">30</text><line x1="789.2" y1="620.3" x2="789.2" y2="623.9" stroke="#3a3a3a" stroke-width="1.1"/><text font-size="10.5" text-anchor="middle" fill="#333333" stroke="#444" stroke-width="0.25" transform="translate(789.2,638.1) scale(0.8,1)">40</text><line x1="822.35" y1="620.3" x2="822.35" y2="627.3" stroke="#3a3a3a" stroke-width="1.1"/><text font-size="10.5" text-anchor="middle" fill="#333333" stroke="#444" stroke-width="0.25" transform="translate(822.35,638.1) scale(0.8,1)">50</text><line x1="855.5" y1="620.3" x2="855.5" y2="623.9" stroke="#3a3a3a" stroke-width="1.1"/><text font-size="10.5" text-anchor="middle" fill="#333333" stroke="#444" stroke-width="0.25" transform="translate(855.5,638.1) scale(0.8,1)">60</text><line x1="888.65" y1="620.3" x2="888.65" y2="623.9" stroke="#3a3a3a" stroke-width="1.1"/><text font-size="10.5" text-anchor="middle" fill="#333333" stroke="#444" stroke-width="0.25" transform="translate(888.65,638.1) scale(0.8,1)">70</text><line x1="921.8" y1="620.3" x2="921.8" y2="623.9" stroke="#3a3a3a" stroke-width="1.1"/><text font-size="10.5" text-anchor="middle" fill="#333333" stroke="#444" stroke-width="0.25" transform="translate(921.8,638.1) scale(0.8,1)">80</text><line x1="954.95" y1="620.3" x2="954.95" y2="623.9" stroke="#3a3a3a" stroke-width="1.1"/><text font-size="10.5" text-anchor="middle" fill="#333333" stroke="#444" stroke-width="0.25" transform="translate(954.95,638.1) scale(0.8,1)">90</text><line x1="988.1" y1="620.3" x2="988.1" y2="627.3" stroke="#3a3a3a" stroke-width="1.1"/><text font-size="10.5" text-anchor="middle" fill="#333333" stroke="#444" stroke-width="0.25" transform="translate(988.1,638.1) scale(0.8,1)">100</text><line x1="1021.25" y1="620.3" x2="1021.25" y2="623.9" stroke="#3a3a3a" stroke-width="1.1"/><text font-size="10.5" text-anchor="middle" fill="#333333" stroke="#444" stroke-width="0.25" transform="translate(1021.25,638.1) scale(0.8,1)">110</text><line x1="1054.4" y1="620.3" x2="1054.4" y2="623.9" stroke="#3a3a3a" stroke-width="1.1"/><text font-size="10.5" text-anchor="middle" fill="#333333" stroke="#444" stroke-width="0.25" transform="translate(1054.4,638.1) scale(0.8,1)">120</text><line x1="1087.55" y1="620.3" x2="1087.55" y2="623.9" stroke="#3a3a3a" stroke-width="1.1"/><text font-size="10.5" text-anchor="middle" fill="#333333" stroke="#444" stroke-width="0.25" transform="translate(1087.55,638.1) scale(0.8,1)">130</text><line x1="1120.7" y1="620.3" x2="1120.7" y2="623.9" stroke="#3a3a3a" stroke-width="1.1"/><text font-size="10.5" text-anchor="middle" fill="#333333" stroke="#444" stroke-width="0.25" transform="translate(1120.7,638.1) scale(0.8,1)">140</text><text x="893.2" y="661.5" font-size="15.3" font-weight="bold" text-anchor="middle" fill="#111" textLength="85.9" lengthAdjust="spacingAndGlyphs">Pixel Position</text><path d="M709.39,597.77 L710.22,595.78 L711.05,593.57 L711.88,590.83 L712.71,587.87 L713.54,583.66 L714.36,578.91 L715.19,572.62 L716.02,565.68 L716.85,557.42 L717.68,548.59 L718.51,537.02 L719.34,524.27 L720.17,507.29 L720.99,488.5 L721.82,476.81 L722.65,468.18 L723.48,463.29 L724.31,460.01 L725.14,456.9 L725.97,453.87 L726.8,451.98 L727.62,450.58 L728.45,450.18 L729.28,450.2 L730.11,451.06 L730.94,452.28 L731.77,454.5 L732.6,457.14 L733.43,460.38 L734.25,463.86 L735.08,469.57 L735.91,476.23 L736.74,490.33 L737.57,507.62 L738.4,522.78 L739.23,537.04 L740.06,547.87 L740.88,557.24 L741.71,565.07 L742.54,572.23 L743.37,577.92 L744.2,582.98 L745.03,587.1 L745.86,590.82 L746.69,593.34 L747.51,595.36 L748.34,596.56 Z" fill="url(#hatch)" stroke="none"/><path d="M709.39,597.77 L710.22,595.78 L711.05,593.57 L711.88,590.83 L712.71,587.87 L713.54,583.66 L714.36,578.91 L715.19,572.62 L716.02,565.68 L716.85,557.42 L717.68,548.59 L718.51,537.02 L719.34,524.27 L720.17,507.29 L720.99,488.5 L721.82,476.81 L722.65,468.18 L723.48,463.29 L724.31,460.01 L725.14,456.9 L725.97,453.87 L726.8,451.98 L727.62,450.58 L728.45,450.18 L729.28,450.2 L730.11,451.06 L730.94,452.28 L731.77,454.5 L732.6,457.14 L733.43,460.38 L734.25,463.86 L735.08,469.57 L735.91,476.23 L736.74,490.33 L737.57,507.62 L738.4,522.78 L739.23,537.04 L740.06,547.87 L740.88,557.24 L741.71,565.07 L742.54,572.23 L743.37,577.92 L744.2,582.98 L745.03,587.1 L745.86,590.82 L746.69,593.34 L747.51,595.36 L748.34,596.56" fill="none" stroke="#357a3c" stroke-width="0.9"/><line x1="709.39" y1="597.77" x2="748.34" y2="596.56" stroke="#3a2a3a" stroke-width="1.1"/><path d="M656.6,602.25 L658.26,602.4 L659.92,602.23 L661.57,601.86 L663.23,602.17 L664.89,602.36 L666.55,602.35 L668.2,601.86 L669.86,602.16 L671.52,601.77 L673.18,601.63 L674.83,602.07 L676.49,602.02 L678.15,602.15 L679.81,602.34 L681.46,601.99 L683.12,602.71 L684.78,603.24 L686.44,602.72 L688.09,602.95 L689.75,603.25 L691.41,603.46 L693.07,603.84 L694.72,603.68 L696.38,604.25 L698.04,604.18 L699.7,603.35 L701.35,602.66 L703.01,601.96 L704.67,601.49 L706.33,601 L707.98,600.23 L709.64,597.34" fill="none" stroke="#8c4e8e" stroke-width="1.2" stroke-linejoin="round"/><path d="M747.76,595.96 L749.42,597.66 L751.08,598.12 L752.74,598.98 L754.39,600.45 L756.05,601.06 L757.71,600.51 L759.37,600.57 L761.02,600.6 L762.68,601.26 L764.34,601.43 L766,601.12 L767.65,601.26 L769.31,601.06 L770.97,601.7 L772.62,601.8 L774.28,601.54 L775.94,601.75 L777.6,601.59 L779.25,601.76 L780.91,602.31 L782.57,602.67 L784.23,602.07 L785.88,602.57 L787.54,602.78 L789.2,602.76 L790.86,602.4 L792.51,602.1 L794.17,602.33 L795.83,602.47 L797.49,602.33 L799.14,602.78 L800.8,603 L802.46,602.96 L804.12,602.97 L805.78,603.6 L807.43,603.93 L809.09,604.15 L810.75,603.77 L812.4,603.64 L814.06,603.35 L815.72,603.42 L817.38,603.95 L819.04,603.79 L820.69,603.5 L822.35,603.93 L824.01,604.48 L825.66,604.49 L827.32,604.63 L828.98,604.85 L830.64,605.16 L832.3,605.31 L833.95,604.76 L835.61,605.28 L837.27,605.09 L838.92,605.4 L840.58,605.62 L842.24,605.18 L843.9,605.43 L845.56,605.67 L847.21,605.54 L848.87,605.24 L850.53,605.24 L852.19,604.92 L853.84,605.17 L855.5,605.2 L857.16,605.03 L858.82,605.18 L860.47,605.02 L862.13,605.17 L863.79,605.56 L865.45,605.79 L867.1,605.3 L868.76,605.06 L870.42,604.75 L872.08,604.81 L873.73,604.95 L875.39,605.41 L877.05,605.02 L878.71,605.49 L880.36,605.47 L882.02,605.72 L883.68,605.63 L885.34,605.65 L886.99,605.56 L888.65,605.24 L890.31,605.27 L891.97,605.67 L893.62,605.5 L895.28,605.56 L896.94,605.61 L898.6,606.44 L900.25,606.38 L901.91,606.07 L903.57,606.46 L905.23,606.73 L906.88,606.31 L908.54,606.5 L910.2,606.57 L911.86,606.22 L913.51,606.43 L915.17,606.71 L916.83,606.86 L918.49,606.82 L920.14,606.46 L921.8,606.58 L923.46,606.31 L925.12,606.9 L926.77,607.14 L928.43,606.98 L930.09,607.06 L931.75,607.07 L933.4,606.51 L935.06,606.57 L936.72,606.45 L938.38,606.33 L940.03,605.75 L941.69,605.66 L943.35,605.59 L945,606.14 L946.66,606.62 L948.32,606.7 L949.98,606.53 L951.63,606.97 L953.29,606.69 L954.95,606.81 L956.61,607 L958.27,606.77 L959.92,607.16 L961.58,607.04 L963.24,606.77 L964.89,606.92 L966.55,607.23 L968.21,607.63 L969.87,607.42 L971.53,607.69 L973.18,607.68 L974.84,607.54 L976.5,607.11 L978.15,607.14 L979.81,607.31 L981.47,607.1 L983.13,607.5 L984.79,607.66 L986.44,607.47 L988.1,607.49 L989.76,607.8 L991.41,607.81 L993.07,607.45 L994.73,607.8 L996.39,607.58 L998.05,608.09 L999.7,607.54 L1001.36,607.52 L1003.02,607.86 L1004.67,607.45 L1006.33,607.42 L1007.99,608.1 L1009.65,608.32 L1011.31,608.24 L1012.96,607.73 L1014.62,608.26 L1016.28,608.65 L1017.93,608.62 L1019.59,608.85 L1021.25,608.64 L1022.91,608.4 L1024.57,608.36 L1026.22,608.62 L1027.88,608.87 L1029.54,608.28 L1031.19,608.29 L1032.85,608.27 L1034.51,608.25 L1036.17,608.05 L1037.83,607.74 L1039.48,607.64 L1041.14,607.67 L1042.8,608.06 L1044.45,608.42 L1046.11,608.7 L1047.77,608.14 L1049.43,608.57 L1051.09,608.33 L1052.74,607.89 L1054.4,608.19 L1056.06,608.3 L1057.72,608.34 L1059.37,607.88 L1061.03,607.89 L1062.69,607.77 L1064.35,608.46 L1066,608.22 L1067.66,608.37 L1069.32,608.51 L1070.97,608.23 L1072.63,608.16 L1074.29,607.99 L1075.95,608.07 L1077.61,607.97 L1079.26,608.37 L1080.92,608.49 L1082.58,608.35 L1084.24,608.58 L1085.89,609.01 L1087.55,608.82 L1089.21,608.47 L1090.87,608.3 L1092.52,608.94 L1094.18,609.1 L1095.84,609.37 L1097.49,609.47 L1099.15,609 L1100.81,609.29 L1102.47,609.6 L1104.12,609.85 L1105.78,609.88 L1107.44,609.71 L1109.1,609.95 L1110.76,610.24 L1112.41,610.37 L1114.07,610.41 L1115.73,609.76 L1117.38,609.99 L1119.04,609.46 L1120.7,609.66 L1122.36,609.04 L1124.02,609.12 L1125.67,608.65 L1127.33,608.74" fill="none" stroke="#8c4e8e" stroke-width="1.2" stroke-linejoin="round"/><line x1="712.96" y1="589.98" x2="712.96" y2="619.8" stroke="#222" stroke-width="1.1" stroke-dasharray="2.2 2.8"/><line x1="749.42" y1="600.66" x2="749.42" y2="619.8" stroke="#222" stroke-width="1.1" stroke-dasharray="2.2 2.8"/><line x1="819.04" y1="606.79" x2="819.04" y2="619.8" stroke="#222" stroke-width="1.1" stroke-dasharray="2.2 2.8"/><line x1="845.56" y1="608.67" x2="845.56" y2="619.8" stroke="#222" stroke-width="1.1" stroke-dasharray="2.2 2.8"/><line x1="901.91" y1="609.07" x2="901.91" y2="619.8" stroke="#222" stroke-width="1.1" stroke-dasharray="2.2 2.8"/><line x1="931.75" y1="610.07" x2="931.75" y2="619.8" stroke="#222" stroke-width="1.1" stroke-dasharray="2.2 2.8"/><line x1="991.41" y1="610.81" x2="991.41" y2="619.8" stroke="#222" stroke-width="1.1" stroke-dasharray="2.2 2.8"/><line x1="1017.93" y1="611.62" x2="1017.93" y2="619.8" stroke="#222" stroke-width="1.1" stroke-dasharray="2.2 2.8"/><line x1="726.22" y1="420.6" x2="726.22" y2="434.9" stroke="#2323d2" stroke-width="1.1"/><path d="M723.22,433.4 L729.22,433.4 L726.22,439.9 Z" fill="#2323d2"/><rect x="719.51" y="407.6" width="13.4" height="13" fill="#fff" stroke="#3c3cb8" stroke-width="1.1"/><text font-size="11" text-anchor="middle" fill="#222" transform="translate(726.22,418) scale(0.8,1)">1</text><line x1="832.3" y1="403.6" x2="832.3" y2="590.7" stroke="#2323d2" stroke-width="1.1"/><path d="M829.3,589.2 L835.3,589.2 L832.3,595.7 Z" fill="#2323d2"/><rect x="825.6" y="390.6" width="13.4" height="13" fill="#fff" stroke="#3c3cb8" stroke-width="1.1"/><text font-size="11" text-anchor="middle" fill="#222" transform="translate(832.3,401) scale(0.8,1)">2</text><line x1="918.49" y1="420" x2="918.49" y2="593" stroke="#2323d2" stroke-width="1.1"/><path d="M915.49,591.5 L921.49,591.5 L918.49,598 Z" fill="#2323d2"/><rect x="911.78" y="407" width="13.4" height="13" fill="#fff" stroke="#3c3cb8" stroke-width="1.1"/><text font-size="11" text-anchor="middle" fill="#222" transform="translate(918.49,417.4) scale(0.8,1)">3</text><line x1="1004.01" y1="403.3" x2="1004.01" y2="594" stroke="#2323d2" stroke-width="1.1"/><path d="M1001.01,592.5 L1007.01,592.5 L1004.01,599 Z" fill="#2323d2"/><rect x="997.31" y="390.3" width="13.4" height="13" fill="#fff" stroke="#3c3cb8" stroke-width="1.1"/><text font-size="11" text-anchor="middle" fill="#222" transform="translate(1004.01,400.7) scale(0.8,1)">4</text><text x="655.9" y="377.3" font-size="22" text-anchor="middle" fill="#111">T47</text></g>
<g><rect x="1170.8" y="350.8" width="183.2" height="41.7" fill="#fff" stroke="#0a0a0a" stroke-width="2.1"/><rect x="1234.3" y="441.3" width="477.1" height="176.1" fill="none" stroke="#3a3a3a" stroke-width="1.2"/><line x1="1227.3" y1="617.5" x2="1234.3" y2="617.5" stroke="#3a3a3a" stroke-width="1.1"/><text x="0" y="0" font-size="10.5" text-anchor="end" fill="#333333" stroke="#444" stroke-width="0.25" transform="translate(1224.3,621.2) scale(0.8,1) translate(0,0)">0</text><line x1="1230.7" y1="608.39" x2="1234.3" y2="608.39" stroke="#3a3a3a" stroke-width="1.1"/><line x1="1230.7" y1="599.28" x2="1234.3" y2="599.28" stroke="#3a3a3a" stroke-width="1.1"/><line x1="1230.7" y1="590.17" x2="1234.3" y2="590.17" stroke="#3a3a3a" stroke-width="1.1"/><line x1="1230.7" y1="581.06" x2="1234.3" y2="581.06" stroke="#3a3a3a" stroke-width="1.1"/><line x1="1227.3" y1="571.95" x2="1234.3" y2="571.95" stroke="#3a3a3a" stroke-width="1.1"/><text x="0" y="0" font-size="10.5" text-anchor="end" fill="#333333" stroke="#444" stroke-width="0.25" transform="translate(1224.3,575.65) scale(0.8,1) translate(0,0)">50</text><line x1="1230.7" y1="562.84" x2="1234.3" y2="562.84" stroke="#3a3a3a" stroke-width="1.1"/><line x1="1230.7" y1="553.73" x2="1234.3" y2="553.73" stroke="#3a3a3a" stroke-width="1.1"/><line x1="1230.7" y1="544.62" x2="1234.3" y2="544.62" stroke="#3a3a3a" stroke-width="1.1"/><line x1="1230.7" y1="535.51" x2="1234.3" y2="535.51" stroke="#3a3a3a" stroke-width="1.1"/><line x1="1227.3" y1="526.4" x2="1234.3" y2="526.4" stroke="#3a3a3a" stroke-width="1.1"/><text x="0" y="0" font-size="10.5" text-anchor="end" fill="#333333" stroke="#444" stroke-width="0.25" transform="translate(1224.3,530.1) scale(0.8,1) translate(0,0)">100</text><line x1="1230.7" y1="517.29" x2="1234.3" y2="517.29" stroke="#3a3a3a" stroke-width="1.1"/><line x1="1230.7" y1="508.18" x2="1234.3" y2="508.18" stroke="#3a3a3a" stroke-width="1.1"/><line x1="1230.7" y1="499.07" x2="1234.3" y2="499.07" stroke="#3a3a3a" stroke-width="1.1"/><line x1="1230.7" y1="489.96" x2="1234.3" y2="489.96" stroke="#3a3a3a" stroke-width="1.1"/><line x1="1227.3" y1="480.85" x2="1234.3" y2="480.85" stroke="#3a3a3a" stroke-width="1.1"/><text x="0" y="0" font-size="10.5" text-anchor="end" fill="#333333" stroke="#444" stroke-width="0.25" transform="translate(1224.3,484.55) scale(0.8,1) translate(0,0)">150</text><line x1="1230.7" y1="471.74" x2="1234.3" y2="471.74" stroke="#3a3a3a" stroke-width="1.1"/><line x1="1230.7" y1="462.63" x2="1234.3" y2="462.63" stroke="#3a3a3a" stroke-width="1.1"/><line x1="1230.7" y1="453.52" x2="1234.3" y2="453.52" stroke="#3a3a3a" stroke-width="1.1"/><line x1="1230.7" y1="444.41" x2="1234.3" y2="444.41" stroke="#3a3a3a" stroke-width="1.1"/><line x1="1233.3" y1="617.4" x2="1233.3" y2="624.4" stroke="#3a3a3a" stroke-width="1.1"/><text font-size="10.5" text-anchor="middle" fill="#333333" stroke="#444" stroke-width="0.25" transform="translate(1233.3,635.5) scale(0.8,1)">0</text><line x1="1265.26" y1="617.4" x2="1265.26" y2="621" stroke="#3a3a3a" stroke-width="1.1"/><text font-size="10.5" text-anchor="middle" fill="#333333" stroke="#444" stroke-width="0.25" transform="translate(1265.26,635.5) scale(0.8,1)">10</text><line x1="1297.22" y1="617.4" x2="1297.22" y2="621" stroke="#3a3a3a" stroke-width="1.1"/><text font-size="10.5" text-anchor="middle" fill="#333333" stroke="#444" stroke-width="0.25" transform="translate(1297.22,635.5) scale(0.8,1)">20</text><line x1="1329.18" y1="617.4" x2="1329.18" y2="621" stroke="#3a3a3a" stroke-width="1.1"/><text font-size="10.5" text-anchor="middle" fill="#333333" stroke="#444" stroke-width="0.25" transform="translate(1329.18,635.5) scale(0.8,1)">30</text><line x1="1361.14" y1="617.4" x2="1361.14" y2="621" stroke="#3a3a3a" stroke-width="1.1"/><text font-size="10.5" text-anchor="middle" fill="#333333" stroke="#444" stroke-width="0.25" transform="translate(1361.14,635.5) scale(0.8,1)">40</text><line x1="1393.1" y1="617.4" x2="1393.1" y2="624.4" stroke="#3a3a3a" stroke-width="1.1"/><text font-size="10.5" text-anchor="middle" fill="#333333" stroke="#444" stroke-width="0.25" transform="translate(1393.1,635.5) scale(0.8,1)">50</text><line x1="1425.06" y1="617.4" x2="1425.06" y2="621" stroke="#3a3a3a" stroke-width="1.1"/><text font-size="10.5" text-anchor="middle" fill="#333333" stroke="#444" stroke-width="0.25" transform="translate(1425.06,635.5) scale(0.8,1)">60</text><line x1="1457.02" y1="617.4" x2="1457.02" y2="621" stroke="#3a3a3a" stroke-width="1.1"/><text font-size="10.5" text-anchor="middle" fill="#333333" stroke="#444" stroke-width="0.25" transform="translate(1457.02,635.5) scale(0.8,1)">70</text><line x1="1488.98" y1="617.4" x2="1488.98" y2="621" stroke="#3a3a3a" stroke-width="1.1"/><text font-size="10.5" text-anchor="middle" fill="#333333" stroke="#444" stroke-width="0.25" transform="translate(1488.98,635.5) scale(0.8,1)">80</text><line x1="1520.94" y1="617.4" x2="1520.94" y2="621" stroke="#3a3a3a" stroke-width="1.1"/><text font-size="10.5" text-anchor="middle" fill="#333333" stroke="#444" stroke-width="0.25" transform="translate(1520.94,635.5) scale(0.8,1)">90</text><line x1="1552.9" y1="617.4" x2="1552.9" y2="624.4" stroke="#3a3a3a" stroke-width="1.1"/><text font-size="10.5" text-anchor="middle" fill="#333333" stroke="#444" stroke-width="0.25" transform="translate(1552.9,635.5) scale(0.8,1)">100</text><line x1="1584.86" y1="617.4" x2="1584.86" y2="621" stroke="#3a3a3a" stroke-width="1.1"/><text font-size="10.5" text-anchor="middle" fill="#333333" stroke="#444" stroke-width="0.25" transform="translate(1584.86,635.5) scale(0.8,1)">110</text><line x1="1616.82" y1="617.4" x2="1616.82" y2="621" stroke="#3a3a3a" stroke-width="1.1"/><text font-size="10.5" text-anchor="middle" fill="#333333" stroke="#444" stroke-width="0.25" transform="translate(1616.82,635.5) scale(0.8,1)">120</text><line x1="1648.78" y1="617.4" x2="1648.78" y2="621" stroke="#3a3a3a" stroke-width="1.1"/><text font-size="10.5" text-anchor="middle" fill="#333333" stroke="#444" stroke-width="0.25" transform="translate(1648.78,635.5) scale(0.8,1)">130</text><line x1="1680.74" y1="617.4" x2="1680.74" y2="621" stroke="#3a3a3a" stroke-width="1.1"/><text font-size="10.5" text-anchor="middle" fill="#333333" stroke="#444" stroke-width="0.25" transform="translate(1680.74,635.5) scale(0.8,1)">140</text><text x="1472" y="656" font-size="14.2" font-weight="bold" text-anchor="middle" fill="#111" textLength="86.5" lengthAdjust="spacingAndGlyphs">Pixel Position</text><path d="M1281.56,582.19 L1282.36,581.07 L1283.16,579.62 L1283.96,577.66 L1284.76,575.41 L1285.55,572.76 L1286.35,569.82 L1287.15,566.44 L1287.95,562.51 L1288.75,557.75 L1289.55,552.55 L1290.35,546.7 L1291.15,540.06 L1291.95,532.22 L1292.75,522.88 L1293.54,511.28 L1294.34,499.76 L1295.14,488.36 L1295.94,479.48 L1296.74,474.37 L1297.54,470.39 L1298.34,468.11 L1299.14,465.85 L1299.94,463.62 L1300.74,461.74 L1301.53,460.39 L1302.33,459.28 L1303.13,458.55 L1303.93,458.25 L1304.73,458.58 L1305.53,459.14 L1306.33,460.06 L1307.13,461.43 L1307.93,463.48 L1308.73,465.7 L1309.52,468.17 L1310.32,470.93 L1311.12,474.12 L1311.92,479.4 L1312.72,487.81 L1313.52,497.99 L1314.32,510.82 L1315.12,522.06 L1315.92,530.93 L1316.72,538.92 L1317.51,545.61 L1318.31,551.64 L1319.11,556.69 L1319.91,561.29 L1320.71,565.21 L1321.51,568.63 L1322.31,571.31 L1323.11,573.72 L1323.91,575.71 L1324.71,577.39 L1325.5,578.58 L1326.3,579.51 Z" fill="url(#hatch)" stroke="none"/><path d="M1281.56,582.19 L1282.36,581.07 L1283.16,579.62 L1283.96,577.66 L1284.76,575.41 L1285.55,572.76 L1286.35,569.82 L1287.15,566.44 L1287.95,562.51 L1288.75,557.75 L1289.55,552.55 L1290.35,546.7 L1291.15,540.06 L1291.95,532.22 L1292.75,522.88 L1293.54,511.28 L1294.34,499.76 L1295.14,488.36 L1295.94,479.48 L1296.74,474.37 L1297.54,470.39 L1298.34,468.11 L1299.14,465.85 L1299.94,463.62 L1300.74,461.74 L1301.53,460.39 L1302.33,459.28 L1303.13,458.55 L1303.93,458.25 L1304.73,458.58 L1305.53,459.14 L1306.33,460.06 L1307.13,461.43 L1307.93,463.48 L1308.73,465.7 L1309.52,468.17 L1310.32,470.93 L1311.12,474.12 L1311.92,479.4 L1312.72,487.81 L1313.52,497.99 L1314.32,510.82 L1315.12,522.06 L1315.92,530.93 L1316.72,538.92 L1317.51,545.61 L1318.31,551.64 L1319.11,556.69 L1319.91,561.29 L1320.71,565.21 L1321.51,568.63 L1322.31,571.31 L1323.11,573.72 L1323.91,575.71 L1324.71,577.39 L1325.5,578.58 L1326.3,579.51" fill="none" stroke="#357a3c" stroke-width="0.9"/><line x1="1281.56" y1="582.19" x2="1326.3" y2="579.51" stroke="#3a2a3a" stroke-width="1.1"/><path d="M1378.88,584.36 L1379.68,584.35 L1380.48,584.27 L1381.27,583.87 L1382.07,583.46 L1382.87,582.99 L1383.67,582.57 L1384.47,582.39 L1385.27,582.21 L1386.07,582.06 L1386.87,581.92 L1387.67,581.79 L1388.47,581.72 L1389.26,581.86 L1390.06,581.99 L1390.86,582.06 L1391.66,582.12 L1392.46,582.14 L1393.26,582.19 L1394.06,582.36 L1394.86,582.54 L1395.66,582.8 L1396.46,583.06 L1397.25,583.35 L1398.05,583.66 L1398.85,584.07 L1399.65,584.46 L1400.45,584.79 L1401.25,585.13 L1402.05,585.47 L1402.85,585.79 Z" fill="url(#hatch)" stroke="none"/><path d="M1378.88,584.36 L1379.68,584.35 L1380.48,584.27 L1381.27,583.87 L1382.07,583.46 L1382.87,582.99 L1383.67,582.57 L1384.47,582.39 L1385.27,582.21 L1386.07,582.06 L1386.87,581.92 L1387.67,581.79 L1388.47,581.72 L1389.26,581.86 L1390.06,581.99 L1390.86,582.06 L1391.66,582.12 L1392.46,582.14 L1393.26,582.19 L1394.06,582.36 L1394.86,582.54 L1395.66,582.8 L1396.46,583.06 L1397.25,583.35 L1398.05,583.66 L1398.85,584.07 L1399.65,584.46 L1400.45,584.79 L1401.25,585.13 L1402.05,585.47 L1402.85,585.79" fill="none" stroke="#357a3c" stroke-width="0.9"/><line x1="1378.88" y1="584.36" x2="1402.85" y2="585.79" stroke="#3a2a3a" stroke-width="1.1"/><path d="M1538.92,584.47 L1539.72,584.39 L1540.52,584.11 L1541.31,583.63 L1542.11,583.04 L1542.91,582.37 L1543.71,581.66 L1544.51,580.93 L1545.31,580.15 L1546.11,579.33 L1546.91,578.9 L1547.71,578.85 L1548.51,578.71 L1549.3,578.48 L1550.1,578.25 L1550.9,578.02 L1551.7,577.96 L1552.5,578.05 L1553.3,578.12 L1554.1,578.17 L1554.9,578.21 L1555.7,578.24 L1556.5,578.26 L1557.29,578.27 L1558.09,578.4 L1558.89,578.65 L1559.69,579.15 L1560.49,579.9 L1561.29,580.67 L1562.09,581.46 L1562.89,582.15 L1563.69,582.73 L1564.49,583.11 L1565.28,583.28 L1566.08,583.47 L1566.88,583.68 Z" fill="url(#hatch)" stroke="none"/><path d="M1538.92,584.47 L1539.72,584.39 L1540.52,584.11 L1541.31,583.63 L1542.11,583.04 L1542.91,582.37 L1543.71,581.66 L1544.51,580.93 L1545.31,580.15 L1546.11,579.33 L1546.91,578.9 L1547.71,578.85 L1548.51,578.71 L1549.3,578.48 L1550.1,578.25 L1550.9,578.02 L1551.7,577.96 L1552.5,578.05 L1553.3,578.12 L1554.1,578.17 L1554.9,578.21 L1555.7,578.24 L1556.5,578.26 L1557.29,578.27 L1558.09,578.4 L1558.89,578.65 L1559.69,579.15 L1560.49,579.9 L1561.29,580.67 L1562.09,581.46 L1562.89,582.15 L1563.69,582.73 L1564.49,583.11 L1565.28,583.28 L1566.08,583.47 L1566.88,583.68" fill="none" stroke="#357a3c" stroke-width="0.9"/><line x1="1538.92" y1="584.47" x2="1566.88" y2="583.68" stroke="#3a2a3a" stroke-width="1.1"/><path d="M1233.3,587.34 L1234.9,587.36 L1236.5,587.04 L1238.09,587.28 L1239.69,586.96 L1241.29,586.38 L1242.89,585.58 L1244.49,585.75 L1246.08,585.58 L1247.68,585.45 L1249.28,585.36 L1250.88,585.02 L1252.48,584.94 L1254.07,584.45 L1255.67,584.37 L1257.27,584.51 L1258.87,584.26 L1260.47,584.15 L1262.06,584.39 L1263.66,584.78 L1265.26,586.21 L1266.86,587.25 L1268.46,587.59 L1270.05,587.1 L1271.65,586.16 L1273.25,585.62 L1274.85,585.81 L1276.45,585.56 L1278.04,585.22 L1279.64,584.27 L1281.24,582.63" fill="none" stroke="#8c4e8e" stroke-width="1.2" stroke-linejoin="round"/><path d="M1325.98,579.3 L1327.58,580.36 L1329.18,580.43 L1330.78,581.2 L1332.38,581.83 L1333.97,582.03 L1335.57,581.94 L1337.17,582.3 L1338.77,582.39 L1340.37,582.66 L1341.96,582.77 L1343.56,583.38 L1345.16,583.68 L1346.76,583.55 L1348.36,583.39 L1349.95,583.52 L1351.55,583.58 L1353.15,584.06 L1354.75,584.59 L1356.35,584.47 L1357.94,584.49 L1359.54,584.97 L1361.14,585.17 L1362.74,584.83 L1364.34,584.68 L1365.93,584.96 L1367.53,585.09 L1369.13,585.08 L1370.73,585.4 L1372.33,585.39 L1373.92,585.4 L1375.52,585.5 L1377.12,585.08 L1378.72,584.36" fill="none" stroke="#8c4e8e" stroke-width="1.2" stroke-linejoin="round"/><path d="M1402.69,585.74 L1404.29,586.24 L1405.88,586.65 L1407.48,586.52 L1409.08,586.36 L1410.68,586.6 L1412.28,586.4 L1413.87,586.62 L1415.47,586.6 L1417.07,586.22 L1418.67,586.12 L1420.27,585.97 L1421.86,586.12 L1423.46,585.86 L1425.06,585.76 L1426.66,585.88 L1428.26,585.63 L1429.85,585.75 L1431.45,585.69 L1433.05,585.8 L1434.65,585.28 L1436.25,585.19 L1437.84,584.88 L1439.44,585.11 L1441.04,584.92 L1442.64,584.87 L1444.24,585.23 L1445.83,584.73 L1447.43,584.71 L1449.03,584.8 L1450.63,584.83 L1452.23,584.89 L1453.82,584.45 L1455.42,584.32 L1457.02,584.13 L1458.62,583.87 L1460.22,583.43 L1461.81,583.16 L1463.41,583.2 L1465.01,582.95 L1466.61,582.55 L1468.21,582.93 L1469.8,583.05 L1471.4,583.38 L1473,584.04 L1474.6,584.11 L1476.2,584.64 L1477.79,584.9 L1479.39,585 L1480.99,585.36 L1482.59,585.67 L1484.19,585.72 L1485.78,585.7 L1487.38,585.63 L1488.98,585.37 L1490.58,585.43 L1492.18,585.47 L1493.77,585.86 L1495.37,586.04 L1496.97,585.76 L1498.57,585.75 L1500.17,585.18 L1501.76,584.96 L1503.36,585.3 L1504.96,585.53 L1506.56,585.06 L1508.16,584.66 L1509.75,584.59 L1511.35,585.01 L1512.95,584.62 L1514.55,584.54 L1516.15,584.33 L1517.74,584.38 L1519.34,584.38 L1520.94,584.24 L1522.54,584.52 L1524.14,584.88 L1525.73,585.11 L1527.33,585.13 L1528.93,584.86 L1530.53,584.71 L1532.13,584.96 L1533.72,585.27 L1535.32,585.43 L1536.92,585.26 L1538.52,584.5" fill="none" stroke="#8c4e8e" stroke-width="1.2" stroke-linejoin="round"/><path d="M1567.28,583.79 L1568.88,584.6 L1570.48,584.37 L1572.08,584.44 L1573.67,585.01 L1575.27,584.89 L1576.87,584.74 L1578.47,585.15 L1580.07,585.26 L1581.66,585.71 L1583.26,585.84 L1584.86,585.97 L1586.46,586.05 L1588.06,586.02 L1589.65,586.05 L1591.25,585.82 L1592.85,585.63 L1594.45,585.33 L1596.05,585.17 L1597.64,585.81 L1599.24,585.57 L1600.84,585.87 L1602.44,585.98 L1604.04,585.63 L1605.63,586.04 L1607.23,585.7 L1608.83,586 L1610.43,585.69 L1612.03,586 L1613.62,586.02 L1615.22,586.39 L1616.82,586.02 L1618.42,585.82 L1620.02,586.09 L1621.61,585.87 L1623.21,585.7 L1624.81,585.62 L1626.41,586.05 L1628.01,585.67 L1629.6,585.87 L1631.2,586.12 L1632.8,586.3 L1634.4,585.75 L1636,585.84 L1637.59,586.04 L1639.19,585.6 L1640.79,585.88 L1642.39,585.98 L1643.99,585.75 L1645.58,585.95 L1647.18,585.49 L1648.78,585.88 L1650.38,585.76 L1651.98,586.05 L1653.57,585.83 L1655.17,585.52 L1656.77,585.94 L1658.37,585.6 L1659.97,585.43 L1661.56,585.34 L1663.16,585.59 L1664.76,585.47 L1666.36,585.86 L1667.96,585.65 L1669.55,585.84 L1671.15,585.55 L1672.75,586.05 L1674.35,585.71 L1675.95,585.68 L1677.54,586.12 L1679.14,585.98 L1680.74,586.14 L1682.34,586.46 L1683.94,586.24 L1685.53,585.82 L1687.13,586.22 L1688.73,585.95 L1690.33,586.27 L1691.93,585.71 L1693.52,585.66 L1695.12,585.35 L1696.72,585.65 L1698.32,585.4 L1699.92,585.53 L1701.51,585.31 L1703.11,585.32 L1704.71,585.45 L1706.31,585.22" fill="none" stroke="#8c4e8e" stroke-width="1.2" stroke-linejoin="round"/><path d="M1233.3,584.43 L1238.09,584.7 L1242.89,585.43 L1249.28,585.07 L1255.67,584.34 L1262.06,584.16" fill="none" stroke="#3a3a3a" stroke-width="1.1"/><line x1="1287.63" y1="567.42" x2="1287.63" y2="616.9" stroke="#222" stroke-width="1.1" stroke-dasharray="2.2 2.8"/><line x1="1325.98" y1="582.3" x2="1325.98" y2="616.9" stroke="#222" stroke-width="1.1" stroke-dasharray="2.2 2.8"/><line x1="1380.32" y1="587.35" x2="1380.32" y2="616.9" stroke="#222" stroke-width="1.1" stroke-dasharray="2.2 2.8"/><line x1="1409.08" y1="589.36" x2="1409.08" y2="616.9" stroke="#222" stroke-width="1.1" stroke-dasharray="2.2 2.8"/><line x1="1450.63" y1="587.83" x2="1450.63" y2="616.9" stroke="#222" stroke-width="1.1" stroke-dasharray="2.2 2.8"/><line x1="1476.2" y1="587.64" x2="1476.2" y2="616.9" stroke="#222" stroke-width="1.1" stroke-dasharray="2.2 2.8"/><line x1="1536.92" y1="588.26" x2="1536.92" y2="616.9" stroke="#222" stroke-width="1.1" stroke-dasharray="2.2 2.8"/><line x1="1568.88" y1="587.6" x2="1568.88" y2="616.9" stroke="#222" stroke-width="1.1" stroke-dasharray="2.2 2.8"/><line x1="1300.42" y1="431.9" x2="1300.42" y2="444.2" stroke="#2323d2" stroke-width="1.1"/><path d="M1297.42,442.7 L1303.42,442.7 L1300.42,449.2 Z" fill="#2323d2"/><rect x="1293.72" y="418.9" width="13.4" height="13" fill="#fff" stroke="#3c3cb8" stroke-width="1.1"/><text font-size="11" text-anchor="middle" fill="#222" transform="translate(1300.42,429.3) scale(0.8,1)">1</text><line x1="1390.86" y1="415.6" x2="1390.86" y2="568.1" stroke="#2323d2" stroke-width="1.1"/><path d="M1387.86,566.6 L1393.86,566.6 L1390.86,573.1 Z" fill="#2323d2"/><rect x="1384.16" y="402.6" width="13.4" height="13" fill="#fff" stroke="#3c3cb8" stroke-width="1.1"/><text font-size="11" text-anchor="middle" fill="#222" transform="translate(1390.86,413) scale(0.8,1)">2</text><line x1="1466.61" y1="431.3" x2="1466.61" y2="570.8" stroke="#2323d2" stroke-width="1.1"/><path d="M1463.61,569.3 L1469.61,569.3 L1466.61,575.8 Z" fill="#2323d2"/><rect x="1459.91" y="418.3" width="13.4" height="13" fill="#fff" stroke="#3c3cb8" stroke-width="1.1"/><text font-size="11" text-anchor="middle" fill="#222" transform="translate(1466.61,428.7) scale(0.8,1)">3</text><line x1="1553.22" y1="415.3" x2="1553.22" y2="564.8" stroke="#2323d2" stroke-width="1.1"/><path d="M1550.22,563.3 L1556.22,563.3 L1553.22,569.8 Z" fill="#2323d2"/><rect x="1546.52" y="402.3" width="13.4" height="13" fill="#fff" stroke="#3c3cb8" stroke-width="1.1"/><text font-size="11" text-anchor="middle" fill="#222" transform="translate(1553.22,412.7) scale(0.8,1)">4</text><line x1="1357.8" y1="386" x2="1420.6" y2="386" stroke="#f20a0a" stroke-width="5.2" stroke-dasharray="16.3 6.95"/><line x1="1357.8" y1="620" x2="1420.6" y2="620" stroke="#f20a0a" stroke-width="5.2" stroke-dasharray="16.3 6.95"/><line x1="1360.4" y1="383.4" x2="1360.4" y2="622.6" stroke="#f20a0a" stroke-width="5.2" stroke-dasharray="16.3 5.99"/><line x1="1418" y1="383.4" x2="1418" y2="622.6" stroke="#f20a0a" stroke-width="5.2" stroke-dasharray="16.3 5.99"/><line x1="1514.5" y1="387" x2="1577.6" y2="387" stroke="#f20a0a" stroke-width="5.2" stroke-dasharray="16.3 7.1"/><line x1="1514.5" y1="620.9" x2="1577.6" y2="620.9" stroke="#f20a0a" stroke-width="5.2" stroke-dasharray="16.3 7.1"/><line x1="1517.1" y1="384.4" x2="1517.1" y2="623.5" stroke="#f20a0a" stroke-width="5.2" stroke-dasharray="16.3 5.98"/><line x1="1575" y1="384.4" x2="1575" y2="623.5" stroke="#f20a0a" stroke-width="5.2" stroke-dasharray="16.3 5.98"/><text x="1262.2" y="379.3" font-size="22" text-anchor="middle" fill="#111">T44</text></g>
<g><rect x="23.1" y="685.8" width="201.6" height="36.2" fill="#fff" stroke="#0a0a0a" stroke-width="2.1"/><rect x="46.6" y="777.6" width="447.3" height="179.7" fill="none" stroke="#3a3a3a" stroke-width="1.2"/><line x1="39.6" y1="957.3" x2="46.6" y2="957.3" stroke="#3a3a3a" stroke-width="1.1"/><text x="0" y="0" font-size="10.5" text-anchor="end" fill="#333333" stroke="#444" stroke-width="0.25" transform="translate(36.6,961) scale(0.8,1) translate(0,0)">0</text><line x1="43" y1="947.35" x2="46.6" y2="947.35" stroke="#3a3a3a" stroke-width="1.1"/><line x1="43" y1="937.4" x2="46.6" y2="937.4" stroke="#3a3a3a" stroke-width="1.1"/><line x1="43" y1="927.45" x2="46.6" y2="927.45" stroke="#3a3a3a" stroke-width="1.1"/><line x1="43" y1="917.5" x2="46.6" y2="917.5" stroke="#3a3a3a" stroke-width="1.1"/><line x1="39.6" y1="907.55" x2="46.6" y2="907.55" stroke="#3a3a3a" stroke-width="1.1"/><text x="0" y="0" font-size="10.5" text-anchor="end" fill="#333333" stroke="#444" stroke-width="0.25" transform="translate(36.6,911.25) scale(0.8,1) translate(0,0)">50</text><line x1="43" y1="897.6" x2="46.6" y2="897.6" stroke="#3a3a3a" stroke-width="1.1"/><line x1="43" y1="887.65" x2="46.6" y2="887.65" stroke="#3a3a3a" stroke-width="1.1"/><line x1="43" y1="877.7" x2="46.6" y2="877.7" stroke="#3a3a3a" stroke-width="1.1"/><line x1="43" y1="867.75" x2="46.6" y2="867.75" stroke="#3a3a3a" stroke-width="1.1"/><line x1="39.6" y1="857.8" x2="46.6" y2="857.8" stroke="#3a3a3a" stroke-width="1.1"/><text x="0" y="0" font-size="10.5" text-anchor="end" fill="#333333" stroke="#444" stroke-width="0.25" transform="translate(36.6,861.5) scale(0.8,1) translate(0,0)">100</text><line x1="43" y1="847.85" x2="46.6" y2="847.85" stroke="#3a3a3a" stroke-width="1.1"/><line x1="43" y1="837.9" x2="46.6" y2="837.9" stroke="#3a3a3a" stroke-width="1.1"/><line x1="43" y1="827.95" x2="46.6" y2="827.95" stroke="#3a3a3a" stroke-width="1.1"/><line x1="43" y1="818" x2="46.6" y2="818" stroke="#3a3a3a" stroke-width="1.1"/><line x1="39.6" y1="808.05" x2="46.6" y2="808.05" stroke="#3a3a3a" stroke-width="1.1"/><text x="0" y="0" font-size="10.5" text-anchor="end" fill="#333333" stroke="#444" stroke-width="0.25" transform="translate(36.6,811.75) scale(0.8,1) translate(0,0)">150</text><line x1="43" y1="798.1" x2="46.6" y2="798.1" stroke="#3a3a3a" stroke-width="1.1"/><line x1="43" y1="788.15" x2="46.6" y2="788.15" stroke="#3a3a3a" stroke-width="1.1"/><line x1="43" y1="778.2" x2="46.6" y2="778.2" stroke="#3a3a3a" stroke-width="1.1"/><line x1="46.1" y1="957.3" x2="46.1" y2="964.3" stroke="#3a3a3a" stroke-width="1.1"/><text font-size="10.5" text-anchor="middle" fill="#333333" stroke="#444" stroke-width="0.25" transform="translate(46.1,975.9) scale(0.8,1)">0</text><line x1="80.66" y1="957.3" x2="80.66" y2="960.9" stroke="#3a3a3a" stroke-width="1.1"/><text font-size="10.5" text-anchor="middle" fill="#333333" stroke="#444" stroke-width="0.25" transform="translate(80.66,975.9) scale(0.8,1)">10</text><line x1="115.22" y1="957.3" x2="115.22" y2="960.9" stroke="#3a3a3a" stroke-width="1.1"/><text font-size="10.5" text-anchor="middle" fill="#333333" stroke="#444" stroke-width="0.25" transform="translate(115.22,975.9) scale(0.8,1)">20</text><line x1="149.78" y1="957.3" x2="149.78" y2="960.9" stroke="#3a3a3a" stroke-width="1.1"/><text font-size="10.5" text-anchor="middle" fill="#333333" stroke="#444" stroke-width="0.25" transform="translate(149.78,975.9) scale(0.8,1)">30</text><line x1="184.34" y1="957.3" x2="184.34" y2="960.9" stroke="#3a3a3a" stroke-width="1.1"/><text font-size="10.5" text-anchor="middle" fill="#333333" stroke="#444" stroke-width="0.25" transform="translate(184.34,975.9) scale(0.8,1)">40</text><line x1="218.9" y1="957.3" x2="218.9" y2="964.3" stroke="#3a3a3a" stroke-width="1.1"/><text font-size="10.5" text-anchor="middle" fill="#333333" stroke="#444" stroke-width="0.25" transform="translate(218.9,975.9) scale(0.8,1)">50</text><line x1="253.46" y1="957.3" x2="253.46" y2="960.9" stroke="#3a3a3a" stroke-width="1.1"/><text font-size="10.5" text-anchor="middle" fill="#333333" stroke="#444" stroke-width="0.25" transform="translate(253.46,975.9) scale(0.8,1)">60</text><line x1="288.02" y1="957.3" x2="288.02" y2="960.9" stroke="#3a3a3a" stroke-width="1.1"/><text font-size="10.5" text-anchor="middle" fill="#333333" stroke="#444" stroke-width="0.25" transform="translate(288.02,975.9) scale(0.8,1)">70</text><line x1="322.58" y1="957.3" x2="322.58" y2="960.9" stroke="#3a3a3a" stroke-width="1.1"/><text font-size="10.5" text-anchor="middle" fill="#333333" stroke="#444" stroke-width="0.25" transform="translate(322.58,975.9) scale(0.8,1)">80</text><line x1="357.14" y1="957.3" x2="357.14" y2="960.9" stroke="#3a3a3a" stroke-width="1.1"/><text font-size="10.5" text-anchor="middle" fill="#333333" stroke="#444" stroke-width="0.25" transform="translate(357.14,975.9) scale(0.8,1)">90</text><line x1="391.7" y1="957.3" x2="391.7" y2="964.3" stroke="#3a3a3a" stroke-width="1.1"/><text font-size="10.5" text-anchor="middle" fill="#333333" stroke="#444" stroke-width="0.25" transform="translate(391.7,975.9) scale(0.8,1)">100</text><line x1="426.26" y1="957.3" x2="426.26" y2="960.9" stroke="#3a3a3a" stroke-width="1.1"/><text font-size="10.5" text-anchor="middle" fill="#333333" stroke="#444" stroke-width="0.25" transform="translate(426.26,975.9) scale(0.8,1)">110</text><line x1="460.82" y1="957.3" x2="460.82" y2="960.9" stroke="#3a3a3a" stroke-width="1.1"/><text font-size="10.5" text-anchor="middle" fill="#333333" stroke="#444" stroke-width="0.25" transform="translate(460.82,975.9) scale(0.8,1)">120</text><text x="269.6" y="996.6" font-size="14.1" font-weight="bold" text-anchor="middle" fill="#111" textLength="80.6" lengthAdjust="spacingAndGlyphs">Pixel Position</text><path d="M91.81,925.57 L92.67,924.81 L93.53,923.3 L94.4,921.69 L95.26,919.31 L96.13,916.83 L96.99,913.49 L97.85,910.05 L98.72,905.12 L99.58,900.04 L100.45,893.92 L101.31,887.68 L102.17,879.72 L103.04,871.57 L103.9,859.87 L104.77,847.77 L105.63,834.59 L106.49,821.28 L107.36,814.67 L108.22,808.81 L109.09,805.91 L109.95,803.34 L110.81,800.91 L111.68,798.49 L112.54,797.07 L113.41,795.76 L114.27,794.87 L115.13,794.02 L116,794.08 L116.86,794.24 L117.73,795.47 L118.59,796.81 L119.45,798.82 L120.32,800.89 L121.18,804.02 L122.05,807.26 L122.91,810.91 L123.77,814.6 L124.64,824.07 L125.5,834.18 L126.37,847.71 L127.23,861.61 L128.09,871.43 L128.96,880.79 L129.82,887.64 L130.69,894.22 L131.55,899.95 L132.41,905.58 L133.28,909.7 L134.14,913.66 L135.01,916.79 L135.87,919.84 L136.73,921.75 L137.6,923.53 L138.46,924.5 L139.33,925.38 Z" fill="url(#hatch)" stroke="none"/><path d="M91.81,925.57 L92.67,924.81 L93.53,923.3 L94.4,921.69 L95.26,919.31 L96.13,916.83 L96.99,913.49 L97.85,910.05 L98.72,905.12 L99.58,900.04 L100.45,893.92 L101.31,887.68 L102.17,879.72 L103.04,871.57 L103.9,859.87 L104.77,847.77 L105.63,834.59 L106.49,821.28 L107.36,814.67 L108.22,808.81 L109.09,805.91 L109.95,803.34 L110.81,800.91 L111.68,798.49 L112.54,797.07 L113.41,795.76 L114.27,794.87 L115.13,794.02 L116,794.08 L116.86,794.24 L117.73,795.47 L118.59,796.81 L119.45,798.82 L120.32,800.89 L121.18,804.02 L122.05,807.26 L122.91,810.91 L123.77,814.6 L124.64,824.07 L125.5,834.18 L126.37,847.71 L127.23,861.61 L128.09,871.43 L128.96,880.79 L129.82,887.64 L130.69,894.22 L131.55,899.95 L132.41,905.58 L133.28,909.7 L134.14,913.66 L135.01,916.79 L135.87,919.84 L136.73,921.75 L137.6,923.53 L138.46,924.5 L139.33,925.38" fill="none" stroke="#357a3c" stroke-width="0.9"/><line x1="91.81" y1="925.57" x2="139.33" y2="925.38" stroke="#3a2a3a" stroke-width="1.1"/><path d="M46.1,926.64 L47.83,926.56 L49.56,926.85 L51.28,926.8 L53.01,926.98 L54.74,927.14 L56.47,927 L58.2,927.22 L59.92,927.44 L61.65,927.37 L63.38,927.86 L65.11,926.83 L66.84,926.32 L68.56,926.46 L70.29,927.49 L72.02,929.01 L73.75,929.23 L75.48,929.9 L77.2,931.11 L78.93,930.36 L80.66,929.37 L82.39,928.68 L84.12,928.25 L85.84,927.57 L87.57,926.86 L89.3,926.28 L91.03,926.26 L92.76,924.74" fill="none" stroke="#8c4e8e" stroke-width="1.2" stroke-linejoin="round"/><path d="M139.41,925.46 L141.14,926.6 L142.87,927.74 L144.6,928.01 L146.32,928.25 L148.05,928.39 L149.78,928.8 L151.51,929.16 L153.24,929.55 L154.96,929.47 L156.69,929.86 L158.42,929.32 L160.15,929.71 L161.88,929.52 L163.6,929.48 L165.33,929.64 L167.06,929.82 L168.79,929.81 L170.52,929.92 L172.24,929.49 L173.97,929.53 L175.7,929.67 L177.43,929.65 L179.16,929.78 L180.88,930.13 L182.61,930.43 L184.34,929.84 L186.07,929.11 L187.8,929.08 L189.52,929 L191.25,928.94 L192.98,928.97 L194.71,929.79 L196.44,930.31 L198.16,930.48 L199.89,930.44 L201.62,930.81 L203.35,930.48 L205.08,930.26 L206.8,930.38 L208.53,930.13 L210.26,930.35 L211.99,930.13 L213.72,930.36 L215.44,930.47 L217.17,930.55 L218.9,930.33 L220.63,930.1 L222.36,930.68 L224.08,930.66 L225.81,930.52 L227.54,930.63 L229.27,931.13 L231,931.35 L232.72,931.09 L234.45,931.5 L236.18,931.12 L237.91,931.37 L239.64,931.47 L241.36,931.45 L243.09,931.53 L244.82,931.72 L246.55,931.67 L248.28,931.87 L250,931.8 L251.73,931.99 L253.46,932.13 L255.19,932.62 L256.92,932.21 L258.64,932.52 L260.37,932.7 L262.1,932.93 L263.83,932.61 L265.56,932.63 L267.28,932.42 L269.01,932.17 L270.74,931.93 L272.47,932.07 L274.2,932.37 L275.92,933.06 L277.65,933.66 L279.38,933.41 L281.11,933.24 L282.84,933.71 L284.56,933.72 L286.29,934.05 L288.02,934.35 L289.75,934.11 L291.48,934.6 L293.2,934.62 L294.93,934.37 L296.66,934.73 L298.39,934.54 L300.12,934.57 L301.84,934.73 L303.57,934.66 L305.3,934.36 L307.03,934.25 L308.76,934.25 L310.48,934.1 L312.21,934.32 L313.94,934.3 L315.67,934.67 L317.4,934.43 L319.12,934.29 L320.85,934.24 L322.58,934.08 L324.31,933.77 L326.04,933.68 L327.76,933.35 L329.49,933.44 L331.22,933.76 L332.95,933.32 L334.68,933.1 L336.4,932.9 L338.13,933.13 L339.86,932.94 L341.59,933.1 L343.32,933.07 L345.04,932.84 L346.77,933.2 L348.5,933.72 L350.23,933.91 L351.96,933.9 L353.68,933.77 L355.41,934.22 L357.14,934.22 L358.87,934.32 L360.6,934.36 L362.32,934.29 L364.05,934.41 L365.78,934.72 L367.51,934.46 L369.24,934.4 L370.96,934.33 L372.69,934.91 L374.42,934.89 L376.15,935.13 L377.88,935.4 L379.6,934.92 L381.33,934.9 L383.06,935.1 L384.79,934.99 L386.52,934.89 L388.24,935.16 L389.97,935.6 L391.7,935.2 L393.43,935.29 L395.16,935.4 L396.88,935.62 L398.61,935.48 L400.34,935.1 L402.07,934.83 L403.8,935.3 L405.52,935.55 L407.25,934.98 L408.98,935.02 L410.71,934.94 L412.44,934.83 L414.16,934.98 L415.89,935.06 L417.62,934.72 L419.35,934.72 L421.08,935.19 L422.8,935.43 L424.53,934.92 L426.26,934.84 L427.99,934.71 L429.72,934.89 L431.44,934.89 L433.17,935.25 L434.9,935.51 L436.63,935.74 L438.36,935.96 L440.08,935.59 L441.81,935.46 L443.54,935.64 L445.27,936.13 L447,935.69 L448.72,935.54 L450.45,935.6 L452.18,935.37 L453.91,935.41 L455.64,935.55 L457.36,935.84 L459.09,935.77 L460.82,935.89 L462.55,936.17 L464.28,936.34 L466,936.49 L467.73,936.13 L469.46,936.2 L471.19,935.78 L472.92,935.62 L474.64,936.06 L476.37,936.47 L478.1,936.13 L479.83,935.95 L481.56,936.24 L483.28,936.1 L485.01,935.89 L486.74,936.17 L488.47,936.33" fill="none" stroke="#8c4e8e" stroke-width="1.2" stroke-linejoin="round"/><line x1="97.94" y1="912.7" x2="97.94" y2="956.8" stroke="#222" stroke-width="1.1" stroke-dasharray="2.2 2.8"/><line x1="135.96" y1="923.15" x2="135.96" y2="956.8" stroke="#222" stroke-width="1.1" stroke-dasharray="2.2 2.8"/><line x1="173.97" y1="932.53" x2="173.97" y2="956.8" stroke="#222" stroke-width="1.1" stroke-dasharray="2.2 2.8"/><line x1="198.16" y1="933.48" x2="198.16" y2="956.8" stroke="#222" stroke-width="1.1" stroke-dasharray="2.2 2.8"/><line x1="253.46" y1="935.13" x2="253.46" y2="956.8" stroke="#222" stroke-width="1.1" stroke-dasharray="2.2 2.8"/><line x1="277.65" y1="936.66" x2="277.65" y2="956.8" stroke="#222" stroke-width="1.1" stroke-dasharray="2.2 2.8"/><line x1="329.49" y1="936.44" x2="329.49" y2="956.8" stroke="#222" stroke-width="1.1" stroke-dasharray="2.2 2.8"/><line x1="353.68" y1="936.77" x2="353.68" y2="956.8" stroke="#222" stroke-width="1.1" stroke-dasharray="2.2 2.8"/><line x1="115.57" y1="768.2" x2="115.57" y2="780.3" stroke="#2323d2" stroke-width="1.1"/><path d="M112.57,778.8 L118.57,778.8 L115.57,785.3 Z" fill="#2323d2"/><rect x="108.87" y="755.2" width="13.4" height="13" fill="#fff" stroke="#3c3cb8" stroke-width="1.1"/><text font-size="11" text-anchor="middle" fill="#222" transform="translate(115.57,765.6) scale(0.8,1)">1</text><line x1="187.8" y1="751.5" x2="187.8" y2="916.3" stroke="#2323d2" stroke-width="1.1"/><path d="M184.8,914.8 L190.8,914.8 L187.8,921.3 Z" fill="#2323d2"/><rect x="181.1" y="738.5" width="13.4" height="13" fill="#fff" stroke="#3c3cb8" stroke-width="1.1"/><text font-size="11" text-anchor="middle" fill="#222" transform="translate(187.8,748.9) scale(0.8,1)">2</text><line x1="268.32" y1="768.2" x2="268.32" y2="919" stroke="#2323d2" stroke-width="1.1"/><path d="M265.32,917.5 L271.32,917.5 L268.32,924 Z" fill="#2323d2"/><rect x="261.62" y="755.2" width="13.4" height="13" fill="#fff" stroke="#3c3cb8" stroke-width="1.1"/><text font-size="11" text-anchor="middle" fill="#222" transform="translate(268.32,765.6) scale(0.8,1)">3</text><line x1="344.01" y1="751.5" x2="344.01" y2="919" stroke="#2323d2" stroke-width="1.1"/><path d="M341.01,917.5 L347.01,917.5 L344.01,924 Z" fill="#2323d2"/><rect x="337.31" y="738.5" width="13.4" height="13" fill="#fff" stroke="#3c3cb8" stroke-width="1.1"/><text font-size="11" text-anchor="middle" fill="#222" transform="translate(344.01,748.9) scale(0.8,1)">4</text><text x="123.6" y="711.8" font-size="22" text-anchor="middle" fill="#111">T70</text></g>
<g><rect x="561" y="680" width="224.4" height="39.1" fill="#fff" stroke="#0a0a0a" stroke-width="2.1"/><rect x="609.3" y="764.3" width="482.2" height="191.2" fill="none" stroke="#3a3a3a" stroke-width="1.2"/><line x1="602.3" y1="955.4" x2="609.3" y2="955.4" stroke="#3a3a3a" stroke-width="1.1"/><text x="0" y="0" font-size="10.5" text-anchor="end" fill="#333333" stroke="#444" stroke-width="0.25" transform="translate(599.3,959.1) scale(0.8,1) translate(0,0)">0</text><line x1="605.7" y1="945.58" x2="609.3" y2="945.58" stroke="#3a3a3a" stroke-width="1.1"/><line x1="605.7" y1="935.76" x2="609.3" y2="935.76" stroke="#3a3a3a" stroke-width="1.1"/><line x1="605.7" y1="925.94" x2="609.3" y2="925.94" stroke="#3a3a3a" stroke-width="1.1"/><line x1="605.7" y1="916.12" x2="609.3" y2="916.12" stroke="#3a3a3a" stroke-width="1.1"/><line x1="602.3" y1="906.3" x2="609.3" y2="906.3" stroke="#3a3a3a" stroke-width="1.1"/><text x="0" y="0" font-size="10.5" text-anchor="end" fill="#333333" stroke="#444" stroke-width="0.25" transform="translate(599.3,910) scale(0.8,1) translate(0,0)">50</text><line x1="605.7" y1="896.48" x2="609.3" y2="896.48" stroke="#3a3a3a" stroke-width="1.1"/><line x1="605.7" y1="886.66" x2="609.3" y2="886.66" stroke="#3a3a3a" stroke-width="1.1"/><line x1="605.7" y1="876.84" x2="609.3" y2="876.84" stroke="#3a3a3a" stroke-width="1.1"/><line x1="605.7" y1="867.02" x2="609.3" y2="867.02" stroke="#3a3a3a" stroke-width="1.1"/><line x1="602.3" y1="857.2" x2="609.3" y2="857.2" stroke="#3a3a3a" stroke-width="1.1"/><text x="0" y="0" font-size="10.5" text-anchor="end" fill="#333333" stroke="#444" stroke-width="0.25" transform="translate(599.3,860.9) scale(0.8,1) translate(0,0)">100</text><line x1="605.7" y1="847.38" x2="609.3" y2="847.38" stroke="#3a3a3a" stroke-width="1.1"/><line x1="605.7" y1="837.56" x2="609.3" y2="837.56" stroke="#3a3a3a" stroke-width="1.1"/><line x1="605.7" y1="827.74" x2="609.3" y2="827.74" stroke="#3a3a3a" stroke-width="1.1"/><line x1="605.7" y1="817.92" x2="609.3" y2="817.92" stroke="#3a3a3a" stroke-width="1.1"/><line x1="602.3" y1="808.1" x2="609.3" y2="808.1" stroke="#3a3a3a" stroke-width="1.1"/><text x="0" y="0" font-size="10.5" text-anchor="end" fill="#333333" stroke="#444" stroke-width="0.25" transform="translate(599.3,811.8) scale(0.8,1) translate(0,0)">150</text><line x1="605.7" y1="798.28" x2="609.3" y2="798.28" stroke="#3a3a3a" stroke-width="1.1"/><line x1="605.7" y1="788.46" x2="609.3" y2="788.46" stroke="#3a3a3a" stroke-width="1.1"/><line x1="605.7" y1="778.64" x2="609.3" y2="778.64" stroke="#3a3a3a" stroke-width="1.1"/><line x1="605.7" y1="768.82" x2="609.3" y2="768.82" stroke="#3a3a3a" stroke-width="1.1"/><line x1="608" y1="955.5" x2="608" y2="962.5" stroke="#3a3a3a" stroke-width="1.1"/><text font-size="10.5" text-anchor="middle" fill="#333333" stroke="#444" stroke-width="0.25" transform="translate(608,974.4) scale(0.8,1)">0</text><line x1="643.11" y1="955.5" x2="643.11" y2="959.1" stroke="#3a3a3a" stroke-width="1.1"/><text font-size="10.5" text-anchor="middle" fill="#333333" stroke="#444" stroke-width="0.25" transform="translate(643.11,974.4) scale(0.8,1)">10</text><line x1="678.22" y1="955.5" x2="678.22" y2="959.1" stroke="#3a3a3a" stroke-width="1.1"/><text font-size="10.5" text-anchor="middle" fill="#333333" stroke="#444" stroke-width="0.25" transform="translate(678.22,974.4) scale(0.8,1)">20</text><line x1="713.33" y1="955.5" x2="713.33" y2="959.1" stroke="#3a3a3a" stroke-width="1.1"/><text font-size="10.5" text-anchor="middle" fill="#333333" stroke="#444" stroke-width="0.25" transform="translate(713.33,974.4) scale(0.8,1)">30</text><line x1="748.44" y1="955.5" x2="748.44" y2="959.1" stroke="#3a3a3a" stroke-width="1.1"/><text font-size="10.5" text-anchor="middle" fill="#333333" stroke="#444" stroke-width="0.25" transform="translate(748.44,974.4) scale(0.8,1)">40</text><line x1="783.55" y1="955.5" x2="783.55" y2="962.5" stroke="#3a3a3a" stroke-width="1.1"/><text font-size="10.5" text-anchor="middle" fill="#333333" stroke="#444" stroke-width="0.25" transform="translate(783.55,974.4) scale(0.8,1)">50</text><line x1="818.66" y1="955.5" x2="818.66" y2="959.1" stroke="#3a3a3a" stroke-width="1.1"/><text font-size="10.5" text-anchor="middle" fill="#333333" stroke="#444" stroke-width="0.25" transform="translate(818.66,974.4) scale(0.8,1)">60</text><line x1="853.77" y1="955.5" x2="853.77" y2="959.1" stroke="#3a3a3a" stroke-width="1.1"/><text font-size="10.5" text-anchor="middle" fill="#333333" stroke="#444" stroke-width="0.25" transform="translate(853.77,974.4) scale(0.8,1)">70</text><line x1="888.88" y1="955.5" x2="888.88" y2="959.1" stroke="#3a3a3a" stroke-width="1.1"/><text font-size="10.5" text-anchor="middle" fill="#333333" stroke="#444" stroke-width="0.25" transform="translate(888.88,974.4) scale(0.8,1)">80</text><line x1="923.99" y1="955.5" x2="923.99" y2="959.1" stroke="#3a3a3a" stroke-width="1.1"/><text font-size="10.5" text-anchor="middle" fill="#333333" stroke="#444" stroke-width="0.25" transform="translate(923.99,974.4) scale(0.8,1)">90</text><line x1="959.1" y1="955.5" x2="959.1" y2="962.5" stroke="#3a3a3a" stroke-width="1.1"/><text font-size="10.5" text-anchor="middle" fill="#333333" stroke="#444" stroke-width="0.25" transform="translate(959.1,974.4) scale(0.8,1)">100</text><line x1="994.21" y1="955.5" x2="994.21" y2="959.1" stroke="#3a3a3a" stroke-width="1.1"/><text font-size="10.5" text-anchor="middle" fill="#333333" stroke="#444" stroke-width="0.25" transform="translate(994.21,974.4) scale(0.8,1)">110</text><line x1="1029.32" y1="955.5" x2="1029.32" y2="959.1" stroke="#3a3a3a" stroke-width="1.1"/><text font-size="10.5" text-anchor="middle" fill="#333333" stroke="#444" stroke-width="0.25" transform="translate(1029.32,974.4) scale(0.8,1)">120</text><line x1="1064.43" y1="955.5" x2="1064.43" y2="959.1" stroke="#3a3a3a" stroke-width="1.1"/><text font-size="10.5" text-anchor="middle" fill="#333333" stroke="#444" stroke-width="0.25" transform="translate(1064.43,974.4) scale(0.8,1)">130</text><text x="849.1" y="997.3" font-size="15.4" font-weight="bold" text-anchor="middle" fill="#111" textLength="87" lengthAdjust="spacingAndGlyphs">Pixel Position</text><path d="M670.67,916.53 L671.55,914.81 L672.43,912.85 L673.3,910.32 L674.18,906.95 L675.06,903.02 L675.94,898.24 L676.82,892.71 L677.69,886.03 L678.57,878.4 L679.45,869.35 L680.33,858.1 L681.2,843.55 L682.08,829.07 L682.96,814.71 L683.84,804.11 L684.72,799.15 L685.59,794.82 L686.47,791.44 L687.35,788.57 L688.23,786.45 L689.1,784.83 L689.98,783.95 L690.86,783.59 L691.74,784.01 L692.62,784.86 L693.49,786.38 L694.37,788.48 L695.25,791.47 L696.13,794.67 L697,798.16 L697.88,804.39 L698.76,814.75 L699.64,827.52 L700.51,843.9 L701.39,858 L702.27,868.67 L703.15,878.07 L704.03,885.56 L704.9,892.42 L705.78,898.35 L706.66,903.36 L707.54,906.99 L708.41,910.11 L709.29,912.46 L710.17,914.46 L711.05,915.92 Z" fill="url(#hatch)" stroke="none"/><path d="M670.67,916.53 L671.55,914.81 L672.43,912.85 L673.3,910.32 L674.18,906.95 L675.06,903.02 L675.94,898.24 L676.82,892.71 L677.69,886.03 L678.57,878.4 L679.45,869.35 L680.33,858.1 L681.2,843.55 L682.08,829.07 L682.96,814.71 L683.84,804.11 L684.72,799.15 L685.59,794.82 L686.47,791.44 L687.35,788.57 L688.23,786.45 L689.1,784.83 L689.98,783.95 L690.86,783.59 L691.74,784.01 L692.62,784.86 L693.49,786.38 L694.37,788.48 L695.25,791.47 L696.13,794.67 L697,798.16 L697.88,804.39 L698.76,814.75 L699.64,827.52 L700.51,843.9 L701.39,858 L702.27,868.67 L703.15,878.07 L704.03,885.56 L704.9,892.42 L705.78,898.35 L706.66,903.36 L707.54,906.99 L708.41,910.11 L709.29,912.46 L710.17,914.46 L711.05,915.92" fill="none" stroke="#357a3c" stroke-width="0.9"/><line x1="670.67" y1="916.53" x2="711.05" y2="915.92" stroke="#3a2a3a" stroke-width="1.1"/><path d="M608,918.69 L609.76,919.22 L611.51,919.02 L613.27,919.13 L615.02,918.87 L616.78,919.18 L618.53,918.98 L620.29,919.5 L622.04,919.14 L623.8,919.41 L625.55,919.73 L627.31,919.78 L629.07,919.57 L630.82,919.93 L632.58,919.85 L634.33,920.1 L636.09,920.2 L637.84,920.17 L639.6,920.1 L641.35,920.04 L643.11,919.6 L644.87,919.88 L646.62,920.06 L648.38,920.36 L650.13,920.48 L651.89,921.06 L653.64,922.82 L655.4,924.39 L657.15,924.95 L658.91,924.4 L660.66,924.09 L662.42,923.25 L664.18,921.52 L665.93,920.09 L667.69,919.52 L669.44,918.71 L671.2,915.6" fill="none" stroke="#8c4e8e" stroke-width="1.2" stroke-linejoin="round"/><path d="M711.57,916.8 L713.33,918.58 L715.09,919.18 L716.84,919.54 L718.6,920.14 L720.35,920.47 L722.11,920.91 L723.86,921.61 L725.62,922.2 L727.37,923.04 L729.13,923.5 L730.88,924.14 L732.64,923.94 L734.4,924.23 L736.15,923.94 L737.91,923.64 L739.66,923.89 L741.42,924.27 L743.17,924.5 L744.93,924.25 L746.68,924.4 L748.44,924.02 L750.2,923.94 L751.95,924.04 L753.71,924.03 L755.46,924.51 L757.22,924.6 L758.97,925.04 L760.73,924.95 L762.48,924.74 L764.24,925.14 L766,924.92 L767.75,924.58 L769.51,924.97 L771.26,925.35 L773.02,925.6 L774.77,925.35 L776.53,925.87 L778.28,925.66 L780.04,925.99 L781.79,925.79 L783.55,925.57 L785.31,925.48 L787.06,925.97 L788.82,926 L790.57,926.23 L792.33,925.96 L794.08,926.29 L795.84,926.6 L797.59,926.61 L799.35,926.87 L801.11,926.9 L802.86,926.55 L804.62,926.72 L806.37,926.99 L808.13,926.63 L809.88,927.03 L811.64,926.89 L813.39,926.96 L815.15,927.13 L816.9,927.17 L818.66,927.23 L820.42,927.05 L822.17,927.07 L823.93,927.43 L825.68,927.33 L827.44,927.41 L829.19,927.14 L830.95,927.65 L832.7,927.68 L834.46,927.3 L836.22,927.82 L837.97,927.61 L839.73,927.37 L841.48,927.48 L843.24,927.99 L844.99,927.72 L846.75,927.98 L848.5,927.93 L850.26,927.67 L852.01,927.93 L853.77,928.12 L855.53,928.34 L857.28,928.31 L859.04,928.52 L860.79,928.2 L862.55,927.96 L864.3,928.47 L866.06,928.4 L867.81,928.18 L869.57,928.07 L871.33,928.41 L873.08,928.39 L874.84,928.29 L876.59,928.4 L878.35,928.12 L880.1,928.07 L881.86,928.03 L883.61,928.7 L885.37,929.16 L887.12,928.98 L888.88,928.89 L890.64,929.08 L892.39,929.22 L894.15,928.89 L895.9,928.72 L897.66,929.28 L899.41,929.52 L901.17,929.22 L902.92,929.33 L904.68,929.63 L906.43,929.2 L908.19,929.49 L909.95,929.88 L911.7,929.85 L913.46,929.87 L915.21,929.72 L916.97,929.56 L918.72,930.02 L920.48,929.98 L922.23,929.62 L923.99,929.75 L925.75,929.51 L927.5,929.4 L929.26,929.46 L931.01,929.66 L932.77,930.24 L934.52,929.92 L936.28,930.33 L938.03,930.6 L939.79,930.64 L941.55,930.67 L943.3,930.53 L945.06,930.65 L946.81,930.43 L948.57,930.4 L950.32,930.44 L952.08,930.67 L953.83,930.42 L955.59,930.29 L957.34,929.94 L959.1,930.07 L960.86,929.71 L962.61,929.59 L964.37,930.03 L966.12,929.81 L967.88,930.19 L969.63,930.57 L971.39,930.98 L973.14,931.26 L974.9,931.12 L976.65,930.92 L978.41,931.15 L980.17,931.25 L981.92,931.4 L983.68,931.78 L985.43,931.43 L987.19,931.64 L988.94,932.08 L990.7,932.19 L992.45,932.2 L994.21,931.82 L995.97,932.08 L997.72,932.25 L999.48,931.77 L1001.23,931.98 L1002.99,931.63 L1004.74,932.17 L1006.5,932.42 L1008.25,932.48 L1010.01,932.39 L1011.76,932.24 L1013.52,932.34 L1015.28,931.91 L1017.03,931.7 L1018.79,931.9 L1020.54,931.69 L1022.3,931.68 L1024.05,931.6 L1025.81,931.86 L1027.56,932.38 L1029.32,932.3 L1031.08,932.67 L1032.83,932.6 L1034.59,932.11 L1036.34,932.32 L1038.1,932.23 L1039.85,931.98 L1041.61,932.05 L1043.36,932.36 L1045.12,932.45 L1046.88,932.82 L1048.63,932.52 L1050.39,932.48 L1052.14,932.72 L1053.9,932.79 L1055.65,932.5 L1057.41,932.99 L1059.16,933.13 L1060.92,932.89 L1062.67,932.63 L1064.43,932.68 L1066.19,932.67 L1067.94,933.2 L1069.7,933.13 L1071.45,933.17 L1073.21,933.65 L1074.96,933.62 L1076.72,933.87 L1078.47,933.97 L1080.23,933.69 L1081.99,933.49" fill="none" stroke="#8c4e8e" stroke-width="1.2" stroke-linejoin="round"/><line x1="671.2" y1="918.6" x2="671.2" y2="955" stroke="#222" stroke-width="1.1" stroke-dasharray="2.2 2.8"/><line x1="709.82" y1="916.87" x2="709.82" y2="955" stroke="#222" stroke-width="1.1" stroke-dasharray="2.2 2.8"/><line x1="773.02" y1="928.6" x2="773.02" y2="955" stroke="#222" stroke-width="1.1" stroke-dasharray="2.2 2.8"/><line x1="801.11" y1="929.9" x2="801.11" y2="955" stroke="#222" stroke-width="1.1" stroke-dasharray="2.2 2.8"/><line x1="864.3" y1="931.47" x2="864.3" y2="955" stroke="#222" stroke-width="1.1" stroke-dasharray="2.2 2.8"/><line x1="888.88" y1="931.89" x2="888.88" y2="955" stroke="#222" stroke-width="1.1" stroke-dasharray="2.2 2.8"/><line x1="948.57" y1="933.4" x2="948.57" y2="955" stroke="#222" stroke-width="1.1" stroke-dasharray="2.2 2.8"/><line x1="976.65" y1="933.92" x2="976.65" y2="955" stroke="#222" stroke-width="1.1" stroke-dasharray="2.2 2.8"/><line x1="688.75" y1="753.2" x2="688.75" y2="767.7" stroke="#2323d2" stroke-width="1.1"/><path d="M685.75,766.2 L691.75,766.2 L688.75,772.7 Z" fill="#2323d2"/><rect x="682.05" y="740.2" width="13.4" height="13" fill="#fff" stroke="#3c3cb8" stroke-width="1.1"/><text font-size="11" text-anchor="middle" fill="#222" transform="translate(688.75,750.6) scale(0.8,1)">1</text><line x1="787.06" y1="734.9" x2="787.06" y2="912.4" stroke="#2323d2" stroke-width="1.1"/><path d="M784.06,910.9 L790.06,910.9 L787.06,917.4 Z" fill="#2323d2"/><rect x="780.36" y="721.9" width="13.4" height="13" fill="#fff" stroke="#3c3cb8" stroke-width="1.1"/><text font-size="11" text-anchor="middle" fill="#222" transform="translate(787.06,732.3) scale(0.8,1)">2</text><line x1="875.54" y1="752.1" x2="875.54" y2="913.8" stroke="#2323d2" stroke-width="1.1"/><path d="M872.54,912.3 L878.54,912.3 L875.54,918.8 Z" fill="#2323d2"/><rect x="868.84" y="739.1" width="13.4" height="13" fill="#fff" stroke="#3c3cb8" stroke-width="1.1"/><text font-size="11" text-anchor="middle" fill="#222" transform="translate(875.54,749.5) scale(0.8,1)">3</text><line x1="963.66" y1="734.8" x2="963.66" y2="915.5" stroke="#2323d2" stroke-width="1.1"/><path d="M960.66,914 L966.66,914 L963.66,920.5 Z" fill="#2323d2"/><rect x="956.96" y="721.8" width="13.4" height="13" fill="#fff" stroke="#3c3cb8" stroke-width="1.1"/><text font-size="11" text-anchor="middle" fill="#222" transform="translate(963.66,732.2) scale(0.8,1)">4</text><text x="672.9" y="706.3" font-size="22" text-anchor="middle" fill="#111" textLength="191" lengthAdjust="spacingAndGlyphs">Extraction control 1</text></g>
<g><rect x="1164.4" y="680.3" width="196.9" height="66.2" fill="#fff" stroke="#0a0a0a" stroke-width="2.1"/><rect x="1207.5" y="770.3" width="498.7" height="188.2" fill="none" stroke="#3a3a3a" stroke-width="1.2"/><line x1="1200.5" y1="958.5" x2="1207.5" y2="958.5" stroke="#3a3a3a" stroke-width="1.1"/><text x="0" y="0" font-size="10.5" text-anchor="end" fill="#333333" stroke="#444" stroke-width="0.25" transform="translate(1197.5,962.2) scale(0.8,1) translate(0,0)">0</text><line x1="1203.9" y1="948.13" x2="1207.5" y2="948.13" stroke="#3a3a3a" stroke-width="1.1"/><line x1="1203.9" y1="937.76" x2="1207.5" y2="937.76" stroke="#3a3a3a" stroke-width="1.1"/><line x1="1203.9" y1="927.39" x2="1207.5" y2="927.39" stroke="#3a3a3a" stroke-width="1.1"/><line x1="1203.9" y1="917.02" x2="1207.5" y2="917.02" stroke="#3a3a3a" stroke-width="1.1"/><line x1="1200.5" y1="906.65" x2="1207.5" y2="906.65" stroke="#3a3a3a" stroke-width="1.1"/><text x="0" y="0" font-size="10.5" text-anchor="end" fill="#333333" stroke="#444" stroke-width="0.25" transform="translate(1197.5,910.35) scale(0.8,1) translate(0,0)">50</text><line x1="1203.9" y1="896.28" x2="1207.5" y2="896.28" stroke="#3a3a3a" stroke-width="1.1"/><line x1="1203.9" y1="885.91" x2="1207.5" y2="885.91" stroke="#3a3a3a" stroke-width="1.1"/><line x1="1203.9" y1="875.54" x2="1207.5" y2="875.54" stroke="#3a3a3a" stroke-width="1.1"/><line x1="1203.9" y1="865.17" x2="1207.5" y2="865.17" stroke="#3a3a3a" stroke-width="1.1"/><line x1="1200.5" y1="854.8" x2="1207.5" y2="854.8" stroke="#3a3a3a" stroke-width="1.1"/><text x="0" y="0" font-size="10.5" text-anchor="end" fill="#333333" stroke="#444" stroke-width="0.25" transform="translate(1197.5,858.5) scale(0.8,1) translate(0,0)">100</text><line x1="1203.9" y1="844.43" x2="1207.5" y2="844.43" stroke="#3a3a3a" stroke-width="1.1"/><line x1="1203.9" y1="834.06" x2="1207.5" y2="834.06" stroke="#3a3a3a" stroke-width="1.1"/><line x1="1203.9" y1="823.69" x2="1207.5" y2="823.69" stroke="#3a3a3a" stroke-width="1.1"/><line x1="1203.9" y1="813.32" x2="1207.5" y2="813.32" stroke="#3a3a3a" stroke-width="1.1"/><line x1="1200.5" y1="802.95" x2="1207.5" y2="802.95" stroke="#3a3a3a" stroke-width="1.1"/><text x="0" y="0" font-size="10.5" text-anchor="end" fill="#333333" stroke="#444" stroke-width="0.25" transform="translate(1197.5,806.65) scale(0.8,1) translate(0,0)">150</text><line x1="1203.9" y1="792.58" x2="1207.5" y2="792.58" stroke="#3a3a3a" stroke-width="1.1"/><line x1="1203.9" y1="782.21" x2="1207.5" y2="782.21" stroke="#3a3a3a" stroke-width="1.1"/><line x1="1203.9" y1="771.84" x2="1207.5" y2="771.84" stroke="#3a3a3a" stroke-width="1.1"/><line x1="1206.5" y1="958.5" x2="1206.5" y2="965.5" stroke="#3a3a3a" stroke-width="1.1"/><text font-size="10.5" text-anchor="middle" fill="#333333" stroke="#444" stroke-width="0.25" transform="translate(1206.5,977.4) scale(0.8,1)">0</text><line x1="1221.37" y1="958.5" x2="1221.37" y2="962.1" stroke="#3a3a3a" stroke-width="1.1"/><line x1="1236.24" y1="958.5" x2="1236.24" y2="962.1" stroke="#3a3a3a" stroke-width="1.1"/><line x1="1251.11" y1="958.5" x2="1251.11" y2="962.1" stroke="#3a3a3a" stroke-width="1.1"/><line x1="1265.98" y1="958.5" x2="1265.98" y2="962.1" stroke="#3a3a3a" stroke-width="1.1"/><line x1="1280.85" y1="958.5" x2="1280.85" y2="965.5" stroke="#3a3a3a" stroke-width="1.1"/><text font-size="10.5" text-anchor="middle" fill="#333333" stroke="#444" stroke-width="0.25" transform="translate(1280.85,977.4) scale(0.8,1)">50</text><line x1="1295.72" y1="958.5" x2="1295.72" y2="962.1" stroke="#3a3a3a" stroke-width="1.1"/><line x1="1310.59" y1="958.5" x2="1310.59" y2="962.1" stroke="#3a3a3a" stroke-width="1.1"/><line x1="1325.46" y1="958.5" x2="1325.46" y2="962.1" stroke="#3a3a3a" stroke-width="1.1"/><line x1="1340.33" y1="958.5" x2="1340.33" y2="962.1" stroke="#3a3a3a" stroke-width="1.1"/><line x1="1355.2" y1="958.5" x2="1355.2" y2="965.5" stroke="#3a3a3a" stroke-width="1.1"/><text font-size="10.5" text-anchor="middle" fill="#333333" stroke="#444" stroke-width="0.25" transform="translate(1355.2,977.4) scale(0.8,1)">100</text><line x1="1370.07" y1="958.5" x2="1370.07" y2="962.1" stroke="#3a3a3a" stroke-width="1.1"/><line x1="1384.94" y1="958.5" x2="1384.94" y2="962.1" stroke="#3a3a3a" stroke-width="1.1"/><line x1="1399.81" y1="958.5" x2="1399.81" y2="962.1" stroke="#3a3a3a" stroke-width="1.1"/><line x1="1414.68" y1="958.5" x2="1414.68" y2="962.1" stroke="#3a3a3a" stroke-width="1.1"/><line x1="1429.55" y1="958.5" x2="1429.55" y2="965.5" stroke="#3a3a3a" stroke-width="1.1"/><text font-size="10.5" text-anchor="middle" fill="#333333" stroke="#444" stroke-width="0.25" transform="translate(1429.55,977.4) scale(0.8,1)">150</text><line x1="1444.42" y1="958.5" x2="1444.42" y2="962.1" stroke="#3a3a3a" stroke-width="1.1"/><line x1="1459.29" y1="958.5" x2="1459.29" y2="962.1" stroke="#3a3a3a" stroke-width="1.1"/><line x1="1474.16" y1="958.5" x2="1474.16" y2="962.1" stroke="#3a3a3a" stroke-width="1.1"/><line x1="1489.03" y1="958.5" x2="1489.03" y2="962.1" stroke="#3a3a3a" stroke-width="1.1"/><line x1="1503.9" y1="958.5" x2="1503.9" y2="965.5" stroke="#3a3a3a" stroke-width="1.1"/><text font-size="10.5" text-anchor="middle" fill="#333333" stroke="#444" stroke-width="0.25" transform="translate(1503.9,977.4) scale(0.8,1)">200</text><line x1="1518.77" y1="958.5" x2="1518.77" y2="962.1" stroke="#3a3a3a" stroke-width="1.1"/><line x1="1533.64" y1="958.5" x2="1533.64" y2="962.1" stroke="#3a3a3a" stroke-width="1.1"/><line x1="1548.51" y1="958.5" x2="1548.51" y2="962.1" stroke="#3a3a3a" stroke-width="1.1"/><line x1="1563.38" y1="958.5" x2="1563.38" y2="962.1" stroke="#3a3a3a" stroke-width="1.1"/><line x1="1578.25" y1="958.5" x2="1578.25" y2="965.5" stroke="#3a3a3a" stroke-width="1.1"/><text font-size="10.5" text-anchor="middle" fill="#333333" stroke="#444" stroke-width="0.25" transform="translate(1578.25,977.4) scale(0.8,1)">250</text><line x1="1593.12" y1="958.5" x2="1593.12" y2="962.1" stroke="#3a3a3a" stroke-width="1.1"/><line x1="1607.99" y1="958.5" x2="1607.99" y2="962.1" stroke="#3a3a3a" stroke-width="1.1"/><line x1="1622.86" y1="958.5" x2="1622.86" y2="962.1" stroke="#3a3a3a" stroke-width="1.1"/><line x1="1637.73" y1="958.5" x2="1637.73" y2="962.1" stroke="#3a3a3a" stroke-width="1.1"/><line x1="1652.6" y1="958.5" x2="1652.6" y2="965.5" stroke="#3a3a3a" stroke-width="1.1"/><text font-size="10.5" text-anchor="middle" fill="#333333" stroke="#444" stroke-width="0.25" transform="translate(1652.6,977.4) scale(0.8,1)">300</text><line x1="1667.47" y1="958.5" x2="1667.47" y2="962.1" stroke="#3a3a3a" stroke-width="1.1"/><line x1="1682.34" y1="958.5" x2="1682.34" y2="962.1" stroke="#3a3a3a" stroke-width="1.1"/><line x1="1697.21" y1="958.5" x2="1697.21" y2="962.1" stroke="#3a3a3a" stroke-width="1.1"/><text x="1455.9" y="999.7" font-size="15.1" font-weight="bold" text-anchor="middle" fill="#111" textLength="90.1" lengthAdjust="spacingAndGlyphs">Pixel Position</text><path d="M1282.19,923.25 L1282.93,922.06 L1283.68,920.76 L1284.42,918.95 L1285.16,917.01 L1285.91,914.27 L1286.65,911.32 L1287.39,907.37 L1288.14,903.17 L1288.88,897.68 L1289.62,891.86 L1290.37,885.12 L1291.11,878.15 L1291.85,868.92 L1292.6,859.12 L1293.34,845.77 L1294.08,831.54 L1294.83,820.67 L1295.57,810.63 L1296.31,805.58 L1297.06,801.78 L1297.8,798.57 L1298.55,795.52 L1299.29,793.18 L1300.03,791.02 L1300.78,789.5 L1301.52,788.13 L1302.26,787.66 L1303.01,787.42 L1303.75,787.96 L1304.49,788.71 L1305.24,789.8 L1305.98,790.99 L1306.72,793.17 L1307.47,795.59 L1308.21,798.27 L1308.95,801.02 L1309.7,805.58 L1310.44,810.6 L1311.18,820.73 L1311.93,832.13 L1312.67,845.1 L1313.42,858.47 L1314.16,868.63 L1314.9,877.99 L1315.65,885.14 L1316.39,891.73 L1317.13,897.54 L1317.88,903.14 L1318.62,907.4 L1319.36,911.31 L1320.11,914.51 L1320.85,917.53 L1321.59,919.47 L1322.34,921.15 L1323.08,922.24 L1323.82,923.18 Z" fill="url(#hatch)" stroke="none"/><path d="M1282.19,923.25 L1282.93,922.06 L1283.68,920.76 L1284.42,918.95 L1285.16,917.01 L1285.91,914.27 L1286.65,911.32 L1287.39,907.37 L1288.14,903.17 L1288.88,897.68 L1289.62,891.86 L1290.37,885.12 L1291.11,878.15 L1291.85,868.92 L1292.6,859.12 L1293.34,845.77 L1294.08,831.54 L1294.83,820.67 L1295.57,810.63 L1296.31,805.58 L1297.06,801.78 L1297.8,798.57 L1298.55,795.52 L1299.29,793.18 L1300.03,791.02 L1300.78,789.5 L1301.52,788.13 L1302.26,787.66 L1303.01,787.42 L1303.75,787.96 L1304.49,788.71 L1305.24,789.8 L1305.98,790.99 L1306.72,793.17 L1307.47,795.59 L1308.21,798.27 L1308.95,801.02 L1309.7,805.58 L1310.44,810.6 L1311.18,820.73 L1311.93,832.13 L1312.67,845.1 L1313.42,858.47 L1314.16,868.63 L1314.9,877.99 L1315.65,885.14 L1316.39,891.73 L1317.13,897.54 L1317.88,903.14 L1318.62,907.4 L1319.36,911.31 L1320.11,914.51 L1320.85,917.53 L1321.59,919.47 L1322.34,921.15 L1323.08,922.24 L1323.82,923.18" fill="none" stroke="#357a3c" stroke-width="0.9"/><line x1="1282.19" y1="923.25" x2="1323.82" y2="923.18" stroke="#3a2a3a" stroke-width="1.1"/><path d="M1206.5,922.43 L1207.99,922.08 L1209.47,922.07 L1210.96,923 L1212.45,922.91 L1213.93,922.94 L1215.42,922.98 L1216.91,923.66 L1218.4,923.43 L1219.88,923.73 L1221.37,923.52 L1222.86,923.61 L1224.34,923.51 L1225.83,923.51 L1227.32,923.88 L1228.81,923.84 L1230.29,923.61 L1231.78,923.57 L1233.27,923.56 L1234.75,924.23 L1236.24,924.14 L1237.73,923.95 L1239.21,924.35 L1240.7,924.86 L1242.19,924.63 L1243.67,924.74 L1245.16,924.53 L1246.65,925.07 L1248.14,925.54 L1249.62,925.4 L1251.11,925.09 L1252.6,925.07 L1254.08,925.51 L1255.57,925.56 L1257.06,925.76 L1258.55,925.64 L1260.03,925.26 L1261.52,925.33 L1263.01,925.29 L1264.49,925.53 L1265.98,925.42 L1267.47,924.93 L1268.95,925.1 L1270.44,925.22 L1271.93,924.93 L1273.41,924.63 L1274.9,925.01 L1276.39,924.67 L1277.88,924.59 L1279.36,924.55 L1280.85,924.56 L1282.34,923.1" fill="none" stroke="#8c4e8e" stroke-width="1.2" stroke-linejoin="round"/><path d="M1323.97,923.37 L1325.46,924.49 L1326.95,924.7 L1328.43,924.5 L1329.92,925.03 L1331.41,926.85 L1332.89,927.49 L1334.38,927.36 L1335.87,927.34 L1337.36,928.11 L1338.84,928.03 L1340.33,928.49 L1341.82,928.39 L1343.3,928.17 L1344.79,928.11 L1346.28,928.52 L1347.77,928.46 L1349.25,928.75 L1350.74,929.05 L1352.23,928.63 L1353.71,929.17 L1355.2,928.68 L1356.69,929.18 L1358.17,928.8 L1359.66,929.07 L1361.15,929.15 L1362.63,929.47 L1364.12,929.18 L1365.61,928.86 L1367.1,928.63 L1368.58,929 L1370.07,929.19 L1371.56,929.48 L1373.04,929.59 L1374.53,929.28 L1376.02,929.51 L1377.51,929.71 L1378.99,929.89 L1380.48,930.05 L1381.97,930.06 L1383.45,929.66 L1384.94,929.49 L1386.43,929.45 L1387.91,929.66 L1389.4,929.45 L1390.89,929.79 L1392.38,929.63 L1393.86,929.64 L1395.35,929.59 L1396.84,929.71 L1398.32,930.14 L1399.81,929.92 L1401.3,930.11 L1402.78,930.92 L1404.27,931.21 L1405.76,931.72 L1407.24,931.98 L1408.73,931.78 L1410.22,931.18 L1411.71,931.36 L1413.19,931.23 L1414.68,930.88 L1416.17,930.91 L1417.65,930.42 L1419.14,930.16 L1420.63,930.06 L1422.12,930.21 L1423.6,930.23 L1425.09,930.07 L1426.58,929.72 L1428.06,930.2 L1429.55,929.74 L1431.04,930.09 L1432.52,930.56 L1434.01,930.49 L1435.5,930.75 L1436.99,930.8 L1438.47,931.01 L1439.96,930.74 L1441.45,930.94 L1442.93,931.32 L1444.42,930.91 L1445.91,931.36 L1447.39,930.92 L1448.88,930.69 L1450.37,931.18 L1451.86,931.05 L1453.34,931.25 L1454.83,931.65 L1456.32,931.8 L1457.8,931.74 L1459.29,931.84 L1460.78,931.9 L1462.26,931.61 L1463.75,931.54 L1465.24,931.07 L1466.72,930.83 L1468.21,931.27 L1469.7,930.93 L1471.19,931.22 L1472.67,930.99 L1474.16,931.12 L1475.65,930.78 L1477.13,931.08 L1478.62,930.93 L1480.11,930.88 L1481.6,931.55 L1483.08,931.39 L1484.57,932.04 L1486.06,932.33 L1487.54,932.45 L1489.03,932.16 L1490.52,932.46 L1492,932.23 L1493.49,931.78 L1494.98,932.3 L1496.47,931.89 L1497.95,931.96 L1499.44,932 L1500.93,932.04 L1502.41,932.09 L1503.9,932.1 L1505.39,931.73 L1506.87,931.54 L1508.36,931.53 L1509.85,931.58 L1511.34,931.93 L1512.82,932.37 L1514.31,931.85 L1515.8,931.74 L1517.28,931.58 L1518.77,931.35 L1520.26,931.57 L1521.74,931.58 L1523.23,931.46 L1524.72,931.29 L1526.2,931.8 L1527.69,932.08 L1529.18,931.46 L1530.67,931.19 L1532.15,931.12 L1533.64,931.02 L1535.13,931.2 L1536.61,931.93 L1538.1,932.12 L1539.59,932.34 L1541.08,932.47 L1542.56,932.57 L1544.05,932.8 L1545.54,932.66 L1547.02,933.16 L1548.51,933.42 L1550,933.33 L1551.48,933.1 L1552.97,932.69 L1554.46,932.89 L1555.95,933.11 L1557.43,933.39 L1558.92,933.42 L1560.41,933.03 L1561.89,933.14 L1563.38,933.15 L1564.87,933.11 L1566.35,932.68 L1567.84,932.45 L1569.33,932.96 L1570.82,932.48 L1572.3,932.25 L1573.79,932.5 L1575.28,932.16 L1576.76,931.94 L1578.25,932.61 L1579.74,932.58 L1581.22,932.27 L1582.71,932.68 L1584.2,932.88 L1585.68,932.85 L1587.17,932.62 L1588.66,932.99 L1590.15,932.91 L1591.63,932.99 L1593.12,933.01 L1594.61,932.77 L1596.09,932.81 L1597.58,932.46 L1599.07,932.39 L1600.56,932.48 L1602.04,932.72 L1603.53,932.54 L1605.02,932.79 L1606.5,932.66 L1607.99,932.54 L1609.48,932.43 L1610.96,932.94 L1612.45,932.7 L1613.94,933.18 L1615.42,932.63 L1616.91,933.04 L1618.4,933.03 L1619.89,933.03 L1621.37,932.72 L1622.86,932.89 L1624.35,933.05 L1625.83,932.66 L1627.32,932.89 L1628.81,933.19 L1630.3,932.96 L1631.78,932.67 L1633.27,933.1 L1634.76,933.28 L1636.24,932.97 L1637.73,933.27 L1639.22,933.37 L1640.7,933.4 L1642.19,933.35 L1643.68,933.14 L1645.16,933.12 L1646.65,932.59 L1648.14,932.55 L1649.63,932.51 L1651.11,932.79 L1652.6,932.7 L1654.09,932.76 L1655.57,932.45 L1657.06,932.29 L1658.55,931.9 L1660.04,932.26 L1661.52,931.81 L1663.01,932.11 L1664.5,931.86 L1665.98,932.05 L1667.47,932.18 L1668.96,932.07 L1670.44,931.89 L1671.93,931.94 L1673.42,932.18 L1674.9,932.78 L1676.39,932.82 L1677.88,932.83 L1679.37,933.06 L1680.85,932.78 L1682.34,933.05 L1683.83,932.83 L1685.31,933.27 L1686.8,933.38 L1688.29,933.79 L1689.78,933.87 L1691.26,934.29 L1692.75,934.15 L1694.24,934.06 L1695.72,934.53 L1697.21,933.99 L1698.7,934.2 L1700.18,934.26 L1701.67,934.69 L1703.16,935.01 L1704.64,934.87" fill="none" stroke="#8c4e8e" stroke-width="1.2" stroke-linejoin="round"/><line x1="1276.39" y1="927.67" x2="1276.39" y2="958" stroke="#222" stroke-width="1.1" stroke-dasharray="2.2 2.8"/><line x1="1328.43" y1="927.5" x2="1328.43" y2="958" stroke="#222" stroke-width="1.1" stroke-dasharray="2.2 2.8"/><line x1="1407.24" y1="934.98" x2="1407.24" y2="958" stroke="#222" stroke-width="1.1" stroke-dasharray="2.2 2.8"/><line x1="1438.47" y1="934.01" x2="1438.47" y2="958" stroke="#222" stroke-width="1.1" stroke-dasharray="2.2 2.8"/><line x1="1512.82" y1="935.37" x2="1512.82" y2="958" stroke="#222" stroke-width="1.1" stroke-dasharray="2.2 2.8"/><line x1="1547.02" y1="936.16" x2="1547.02" y2="958" stroke="#222" stroke-width="1.1" stroke-dasharray="2.2 2.8"/><line x1="1625.83" y1="935.66" x2="1625.83" y2="958" stroke="#222" stroke-width="1.1" stroke-dasharray="2.2 2.8"/><line x1="1663.01" y1="935.11" x2="1663.01" y2="958" stroke="#222" stroke-width="1.1" stroke-dasharray="2.2 2.8"/><line x1="1303.15" y1="759" x2="1303.15" y2="773.5" stroke="#2323d2" stroke-width="1.1"/><path d="M1300.15,772 L1306.15,772 L1303.15,778.5 Z" fill="#2323d2"/><rect x="1296.45" y="746" width="13.4" height="13" fill="#fff" stroke="#3c3cb8" stroke-width="1.1"/><text font-size="11" text-anchor="middle" fill="#222" transform="translate(1303.15,756.4) scale(0.8,1)">1</text><line x1="1422.12" y1="742.4" x2="1422.12" y2="917.5" stroke="#2323d2" stroke-width="1.1"/><path d="M1419.12,916 L1425.12,916 L1422.12,922.5 Z" fill="#2323d2"/><rect x="1415.41" y="729.4" width="13.4" height="13" fill="#fff" stroke="#3c3cb8" stroke-width="1.1"/><text font-size="11" text-anchor="middle" fill="#222" transform="translate(1422.12,739.8) scale(0.8,1)">2</text><line x1="1533.34" y1="758.7" x2="1533.34" y2="918.4" stroke="#2323d2" stroke-width="1.1"/><path d="M1530.34,916.9 L1536.34,916.9 L1533.34,923.4 Z" fill="#2323d2"/><rect x="1526.64" y="745.7" width="13.4" height="13" fill="#fff" stroke="#3c3cb8" stroke-width="1.1"/><text font-size="11" text-anchor="middle" fill="#222" transform="translate(1533.34,756.1) scale(0.8,1)">3</text><line x1="1642.04" y1="741.4" x2="1642.04" y2="920.4" stroke="#2323d2" stroke-width="1.1"/><path d="M1639.04,918.9 L1645.04,918.9 L1642.04,925.4 Z" fill="#2323d2"/><rect x="1635.34" y="728.4" width="13.4" height="13" fill="#fff" stroke="#3c3cb8" stroke-width="1.1"/><text font-size="11" text-anchor="middle" fill="#222" transform="translate(1642.04,738.8) scale(0.8,1)">4</text></g>
<g><rect x="1164.4" y="680.3" width="196.9" height="66.2" fill="#fff" stroke="#0a0a0a" stroke-width="2.1"/><text x="1192" y="707.2" font-size="19" fill="#111" style="font-family:'Liberation Sans', Arial, sans-serif" textLength="35.6" lengthAdjust="spacingAndGlyphs">ISBL</text><text x="1233.5" y="707.2" font-size="22" fill="#111" style="font-family:'Liberation Serif', 'Times New Roman', serif" textLength="99.5" lengthAdjust="spacingAndGlyphs">- biological</text><text x="1262.4" y="733.7" font-size="22" fill="#111" style="font-family:'Liberation Serif', 'Times New Roman', serif" text-anchor="middle" textLength="143.2" lengthAdjust="spacingAndGlyphs">negative control</text></g>
<g><line x1="544.6" y1="9" x2="549.8" y2="1003.5" stroke="#4472c4" stroke-width="4.8"/><line x1="1157.2" y1="9" x2="1157.2" y2="1004" stroke="#4472c4" stroke-width="5"/><line x1="11" y1="340.7" x2="1760" y2="340.7" stroke="#4472c4" stroke-width="5"/><line x1="16" y1="674.2" x2="1760" y2="674.2" stroke="#4472c4" stroke-width="5"/></g>
</svg>
</body></html>
